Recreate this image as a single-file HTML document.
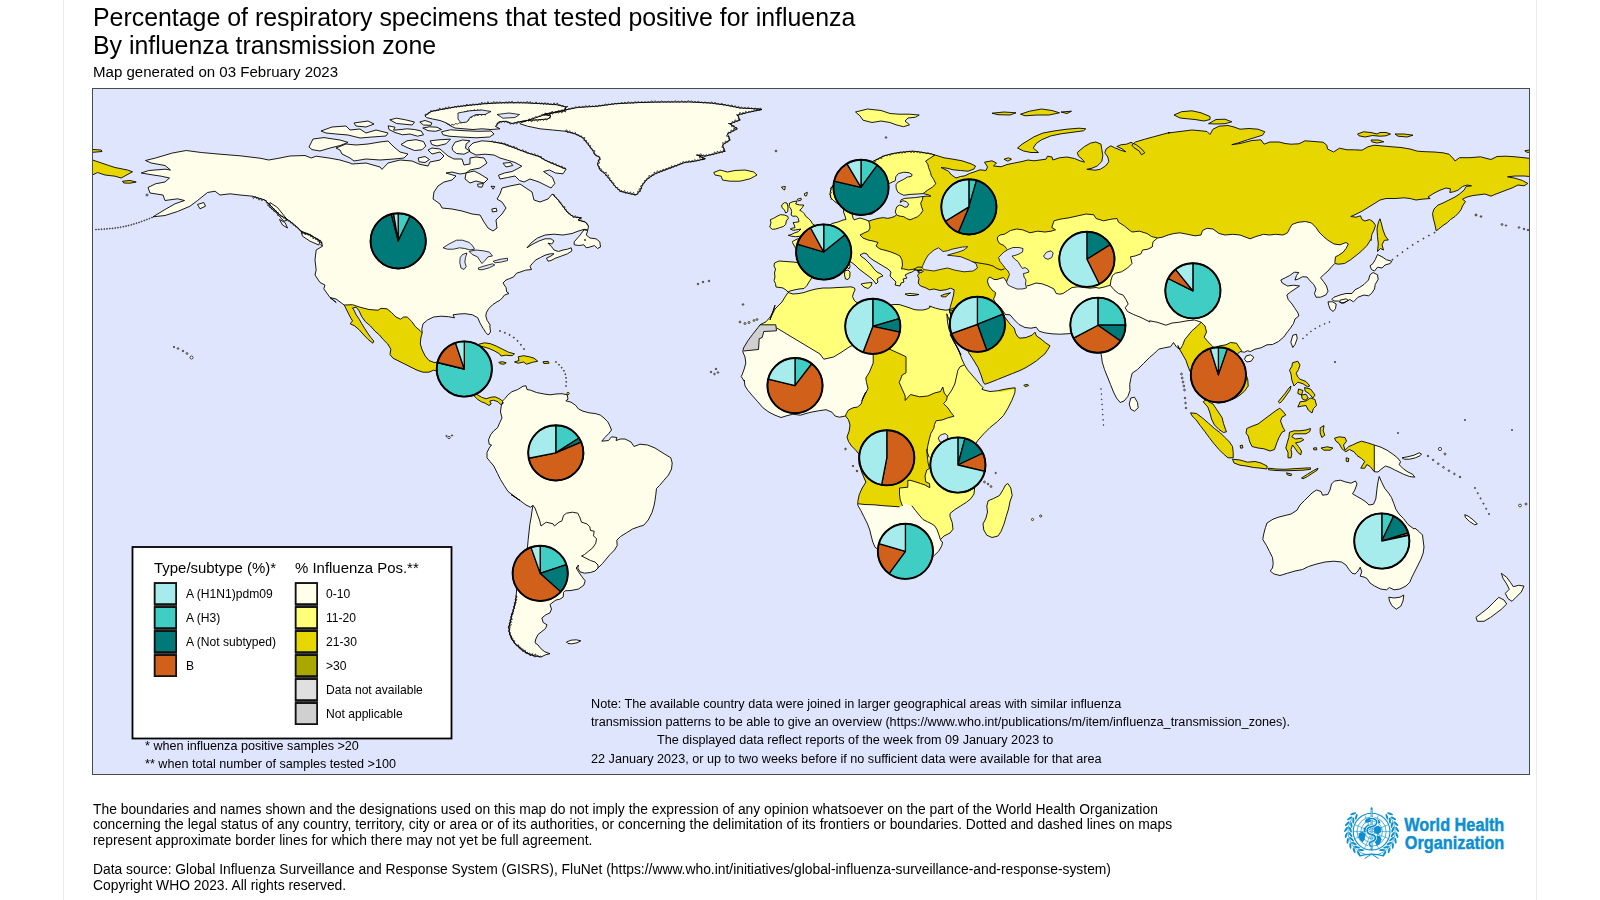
<!DOCTYPE html>
<html><head><meta charset="utf-8"><title>Influenza map</title>
<style>
html,body{margin:0;padding:0;background:#fff;}
body{width:1600px;height:900px;position:relative;overflow:hidden;font-family:"Liberation Sans",sans-serif;color:#000;}
.t{position:absolute;white-space:nowrap;line-height:1;will-change:transform;}
svg{position:absolute;left:0;top:0;}
.vl{position:absolute;top:0;width:1px;height:900px;background:#ececec;}
</style></head><body>
<div class="vl" style="left:63px"></div><div class="vl" style="left:1536px"></div>
<svg width="1600" height="900" viewBox="0 0 1600 900">
<defs><clipPath id="fr"><rect x="93" y="88.5" width="1436" height="685.5"/></clipPath>
<clipPath id="land"><path d="M153.0 216.8 L165.0 209.5 L175.0 203.8 L184.5 200.5 L177.5 198.8 L165.0 200.5 L163.0 195.0 L150.0 193.0 L148.0 187.5 L155.5 183.8 L165.0 182.0 L169.5 178.0 L161.2 176.2 L150.0 174.5 L141.2 173.0 L148.8 170.5 L165.0 169.2 L170.5 170.0 L165.0 165.5 L151.2 163.0 L145.5 160.5 L155.5 158.0 L172.5 153.0 L186.2 150.5 L201.2 152.5 L220.0 154.2 L240.0 155.8 L260.0 158.2 L268.8 160.0 L280.0 158.0 L290.0 156.0 L305.0 155.5 L311.2 158.0 L316.2 156.2 L330.0 158.2 L340.0 160.0 L350.0 163.0 L352.0 164.0 L366.0 163.0 L380.0 167.0 L382.0 169.4 L388.0 163.0 L400.0 160.0 L412.0 161.0 L420.0 164.4 L428.0 166.0 L430.0 162.0 L440.0 160.0 L444.0 156.0 L440.0 152.0 L432.0 154.0 L428.0 150.0 L432.0 148.0 L440.0 149.0 L448.0 156.0 L454.0 159.0 L462.0 159.0 L464.0 165.0 L470.0 164.0 L470.0 158.0 L476.0 157.0 L484.0 158.0 L487.0 163.0 L480.0 168.0 L470.0 170.0 L466.0 173.0 L460.0 174.0 L452.0 172.0 L446.0 173.0 L456.0 176.0 L452.0 180.0 L444.0 182.0 L438.0 186.0 L434.0 192.0 L433.0 199.0 L440.0 204.0 L442.0 208.0 L452.0 209.0 L462.0 211.0 L472.0 214.0 L480.0 215.0 L484.0 222.0 L488.0 228.0 L493.0 231.0 L497.0 228.0 L496.0 220.0 L502.0 214.0 L506.0 208.0 L502.0 202.0 L497.0 199.0 L500.0 194.0 L502.0 188.0 L510.0 186.0 L520.0 184.0 L526.0 188.0 L532.0 192.0 L534.0 200.0 L540.0 202.0 L548.0 199.0 L552.4 194.0 L552.5 194.2 L558.5 200.5 L563.0 206.5 L567.5 212.5 L573.5 217.0 L581.0 217.8 L578.0 220.0 L585.5 222.2 L588.5 226.0 L587.8 229.8 L584.0 229.3 L578.0 231.2 L572.0 233.5 L563.0 235.0 L554.0 234.2 L545.0 235.0 L537.5 238.0 L531.5 242.5 L527.0 247.8 L533.0 244.0 L539.0 241.0 L545.0 238.8 L551.0 238.8 L554.0 241.0 L551.8 244.0 L548.0 243.2 L551.8 247.0 L554.0 250.0 L558.5 251.5 L563.0 250.0 L567.5 249.2 L571.2 247.8 L572.0 250.8 L567.5 253.8 L561.5 256.0 L555.5 258.2 L551.0 260.5 L548.0 261.2 L546.5 258.2 L551.0 256.0 L554.0 253.8 L550.2 253.8 L545.0 255.2 L540.5 257.5 L536.0 259.8 L532.2 263.5 L530.0 266.5 L531.5 269.5 L525.5 270.2 L521.0 271.8 L516.5 273.2 L513.5 277.0 L509.8 278.5 L506.0 280.0 L503.0 283.0 L506.0 287.5 L506.8 292.0 L509.0 293.5 L504.5 295.0 L502.2 298.0 L500.0 300.2 L497.0 301.8 L492.5 304.8 L488.8 308.5 L486.5 312.2 L485.8 316.0 L487.2 320.5 L490.2 325.0 L489.8 326.0 L490.5 332.0 L488.2 335.0 L486.0 332.8 L483.0 328.2 L480.0 323.0 L477.8 317.8 L472.5 314.8 L465.0 313.7 L459.0 314.0 L453.0 314.8 L454.5 317.8 L448.5 316.7 L441.0 316.2 L433.5 317.0 L427.5 320.0 L423.0 323.8 L421.8 329.0 L422.2 332.8 L420.8 338.0 L420.3 344.0 L422.2 350.0 L425.2 356.0 L429.0 360.5 L435.0 362.8 L439.5 360.5 L444.0 356.0 L448.5 353.0 L454.5 351.5 L460.5 350.8 L462.0 354.5 L460.5 360.5 L459.0 366.5 L460.5 372.5 L463.5 377.0 L469.5 380.0 L472.5 383.0 L471.0 387.5 L474.0 392.0 L477.8 395.0 L481.5 397.2 L486.0 398.8 L491.2 397.2 L495.0 396.8 L499.5 398.8 L502.5 401.0 L505.0 398.5 L508.0 394.8 L511.8 391.8 L517.8 389.5 L523.0 386.2 L526.0 385.8 L527.0 389.5 L530.5 390.2 L536.5 392.5 L544.0 394.0 L550.0 394.8 L556.0 394.0 L562.0 393.7 L567.2 394.8 L568.0 399.2 L565.8 400.8 L571.0 402.2 L575.5 405.2 L578.5 409.0 L583.0 411.2 L589.0 412.8 L595.0 413.5 L600.2 415.0 L604.0 418.0 L607.8 421.8 L610.0 426.2 L611.5 430.0 L608.5 433.8 L604.8 437.5 L601.8 441.2 L608.5 440.5 L611.5 436.8 L616.8 437.5 L616.0 440.5 L620.5 439.0 L625.0 439.0 L631.0 442.0 L634.0 446.5 L640.0 444.2 L647.5 445.0 L655.0 448.0 L661.0 451.8 L667.0 455.5 L670.8 457.8 L672.2 463.0 L671.5 469.0 L668.5 475.0 L664.0 480.2 L659.5 485.5 L656.5 488.5 L655.8 494.5 L655.0 500.5 L654.2 505.0 L652.0 512.5 L648.2 520.0 L643.8 525.2 L638.5 526.8 L632.5 529.0 L626.5 532.8 L620.5 536.5 L616.8 540.2 L617.2 545.5 L614.5 550.0 L610.0 554.5 L606.2 559.0 L602.5 563.5 L598.8 567.2 L595.0 571.0 L590.5 572.5 L584.5 573.2 L580.0 571.8 L577.8 568.0 L578.5 565.0 L576.2 568.0 L578.5 571.8 L581.5 576.2 L585.2 580.8 L583.8 585.2 L578.5 589.0 L571.0 590.5 L565.0 590.8 L563.5 592.5 L563.2 597.0 L559.8 599.2 L556.0 600.0 L553.0 602.2 L550.0 604.5 L551.5 609.0 L550.0 612.8 L545.5 615.0 L541.8 618.0 L543.2 622.5 L547.0 624.8 L545.5 628.5 L541.8 631.5 L538.0 634.5 L535.8 639.0 L535.0 642.8 L538.0 645.0 L541.0 648.8 L544.8 651.8 L550.0 653.7 L545.5 654.8 L541.0 657.0 L536.5 656.2 L530.5 654.8 L524.5 651.8 L520.0 648.0 L515.5 644.2 L511.8 639.0 L509.5 633.0 L508.8 627.0 L510.2 621.8 L511.8 615.0 L514.0 608.2 L515.5 601.5 L516.2 595.5 L516.7 589.0 L520.0 574.0 L524.5 560.5 L527.5 547.0 L528.2 539.5 L529.0 532.0 L529.8 524.5 L531.2 517.0 L532.0 511.0 L533.0 505.4 L530.5 507.2 L526.0 505.0 L520.0 500.5 L511.0 494.5 L520.0 500.5 L514.0 496.0 L508.0 491.5 L504.2 485.5 L500.5 479.5 L497.5 473.5 L493.8 466.0 L490.0 461.5 L487.0 457.8 L487.0 452.5 L489.2 448.0 L491.5 445.0 L489.2 444.2 L488.5 439.8 L490.8 434.5 L493.8 430.8 L497.5 427.8 L499.8 422.5 L502.0 418.0 L500.5 412.0 L501.2 406.0 L502.8 402.2 L503.2 402.5 L501.0 404.8 L498.0 401.8 L493.5 400.2 L489.8 401.0 L491.2 404.0 L489.0 405.5 L485.2 403.2 L481.5 401.8 L477.8 399.5 L474.0 395.8 L469.5 392.0 L465.0 389.0 L460.5 386.0 L456.0 383.0 L450.0 380.0 L444.0 376.2 L439.5 373.2 L436.5 371.0 L433.5 370.2 L429.0 372.2 L423.0 372.2 L417.0 370.2 L411.0 367.2 L405.0 364.2 L399.0 361.2 L393.0 358.2 L390.0 354.5 L390.8 349.2 L387.8 344.0 L383.2 339.5 L379.5 335.0 L375.0 331.2 L370.5 326.0 L365.2 321.5 L361.5 316.2 L359.2 311.0 L356.2 307.2 L352.5 308.0 L354.0 310.2 L356.2 314.8 L359.2 319.2 L361.8 323.8 L364.5 328.2 L367.5 332.8 L370.5 337.2 L373.8 341.0 L372.8 343.2 L368.2 339.5 L363.8 335.0 L359.2 329.8 L354.8 326.0 L350.2 323.8 L352.5 320.8 L350.2 317.0 L347.2 311.0 L344.2 305.0 L341.2 302.8 L336.0 299.0 L330.0 297.5 L336.2 302.5 L330.0 297.5 L323.8 288.8 L325.0 285.0 L320.0 282.5 L315.0 275.0 L316.2 270.0 L315.0 260.0 L316.2 250.0 L322.5 246.2 L321.2 241.2 L310.0 235.0 L302.5 232.5 L297.5 227.5 L290.0 221.2 L280.0 215.0 L270.0 205.0 L265.0 200.0 L252.5 196.2 L240.0 195.0 L230.0 193.8 L220.0 195.0 L215.0 191.2 L207.5 192.5 L197.5 200.5 L190.0 206.2 L177.5 211.5 L165.0 215.5Z M521.2 122.5 L532.5 118.8 L547.5 113.8 L565.0 110.0 L577.5 107.5 L597.5 106.2 L615.0 103.8 L640.0 102.5 L665.0 102.0 L690.0 102.0 L710.0 103.0 L725.0 105.0 L740.0 108.0 L755.0 108.8 L762.0 109.5 L747.5 112.5 L737.5 115.0 L740.0 120.0 L730.0 123.8 L737.5 128.8 L727.5 133.8 L730.0 140.0 L722.5 145.0 L725.0 151.2 L715.0 153.8 L705.0 156.2 L697.5 155.0 L705.0 158.8 L695.0 161.2 L685.0 162.5 L675.0 166.2 L665.0 170.0 L655.0 173.8 L647.5 178.8 L642.5 185.0 L640.0 191.2 L636.2 195.0 L630.0 193.8 L620.0 191.2 L615.0 186.2 L610.0 180.0 L605.0 173.8 L600.0 170.0 L597.5 163.8 L600.0 157.5 L595.0 155.0 L592.5 150.0 L587.5 143.8 L582.5 137.5 L575.0 133.8 L565.0 131.2 L552.5 130.0 L540.0 128.8 L527.5 126.2 L520.0 123.8Z M713.8 172.5 L720.0 170.0 L727.5 172.0 L735.0 170.5 L745.0 170.0 L753.8 172.0 L757.0 175.0 L750.0 178.8 L740.0 181.2 L730.0 181.2 L722.5 180.0 L721.2 176.2 L715.0 175.0Z M574.2 241.8 L580.2 235.0 L584.0 229.8 L587.8 230.5 L586.2 235.0 L590.0 238.0 L596.0 238.8 L599.8 241.8 L600.5 247.0 L597.5 248.5 L594.5 245.5 L590.0 247.0 L586.2 247.8 L584.0 244.8 L578.8 245.5 L574.2 244.8Z M473.0 143.0 L482.0 140.8 L491.0 141.5 L503.0 143.8 L515.0 148.2 L527.0 152.8 L539.0 156.5 L545.0 160.2 L557.0 165.5 L566.0 169.2 L563.0 173.8 L555.5 173.0 L549.5 170.0 L543.5 171.5 L552.5 177.5 L554.8 183.5 L551.0 188.0 L545.0 185.0 L539.0 182.0 L530.0 179.0 L524.0 182.0 L519.5 180.5 L515.0 176.0 L507.5 177.5 L500.0 179.0 L498.5 175.2 L504.5 173.0 L512.0 171.5 L518.0 168.5 L521.8 166.2 L515.0 162.5 L507.5 160.2 L500.0 158.0 L494.0 155.0 L485.0 154.2 L476.0 155.0 L470.0 152.0 L468.5 147.5Z M503.0 163.2 L510.5 162.5 L512.8 165.5 L506.0 167.0Z M477.5 184.2 L483.5 183.5 L482.0 187.2 L478.2 186.8Z M491.0 186.2 L494.8 186.5 L493.2 189.2Z M491.8 209.0 L496.2 208.2 L497.0 211.2 L492.5 212.0Z M466.0 173.0 L474.0 171.0 L480.0 174.0 L488.0 179.0 L484.0 183.0 L476.0 181.0 L470.0 183.0 L465.0 179.0Z M336.0 148.0 L346.0 144.0 L356.0 145.0 L368.0 144.0 L380.0 142.0 L388.0 141.0 L394.0 147.0 L400.0 152.0 L408.0 154.0 L404.0 158.0 L394.0 159.0 L380.0 160.0 L366.0 159.0 L354.0 161.0 L350.0 158.0 L342.0 154.0 L340.0 150.0Z M309.0 147.0 L313.0 139.0 L324.0 137.6 L340.0 140.0 L348.0 142.4 L340.0 145.6 L330.0 148.0 L320.0 151.0 L312.0 149.6Z M321.0 131.0 L332.0 127.0 L346.0 126.0 L350.0 130.0 L360.0 129.0 L366.0 133.0 L376.0 130.0 L388.0 133.0 L386.0 136.0 L372.0 137.0 L360.0 138.0 L348.0 135.0 L336.0 134.0 L326.0 133.0Z M354.0 123.0 L368.0 121.0 L374.0 124.0 L366.0 127.0 L356.0 126.0Z M425.0 116.0 L431.0 111.5 L443.0 109.2 L455.0 107.0 L470.0 105.2 L485.0 103.7 L503.0 102.8 L522.5 102.8 L542.0 103.7 L557.0 104.8 L566.0 107.0 L564.5 110.8 L552.5 113.0 L543.5 114.5 L551.0 116.0 L548.0 119.0 L537.5 119.8 L527.0 120.5 L518.0 122.0 L512.0 123.5 L506.0 121.2 L498.5 122.0 L495.5 126.5 L500.0 128.8 L491.0 129.5 L482.0 128.8 L473.0 129.5 L464.0 128.8 L455.0 128.0 L450.5 125.8 L446.0 122.8 L440.0 120.5 L432.5 119.0 L426.5 117.5Z M441.5 131.8 L450.5 129.8 L464.0 130.7 L477.5 131.3 L491.0 131.0 L494.0 134.0 L489.5 137.0 L476.0 137.8 L461.0 137.0 L449.0 136.2 L443.0 134.8Z M452.0 147.5 L455.0 142.2 L462.5 140.0 L470.0 140.8 L466.2 143.8 L465.5 148.2 L470.0 151.2 L464.0 154.2 L456.5 153.5 L452.8 150.5Z M422.8 128.0 L429.5 126.8 L437.0 127.2 L441.5 129.5 L435.5 131.3 L428.0 130.7Z M430.2 140.8 L440.0 139.7 L450.5 139.2 L446.0 143.8 L437.0 146.0 L431.8 144.5Z M401.0 144.5 L407.0 140.8 L416.0 139.7 L423.5 141.5 L425.8 146.0 L422.0 149.8 L414.5 150.5 L407.0 147.5Z M388.2 125.8 L395.0 127.2 L393.5 130.2 L401.0 129.5 L407.0 128.8 L414.5 129.5 L421.2 131.0 L423.5 134.8 L417.5 136.2 L410.0 134.0 L402.5 134.8 L395.0 132.5 L389.0 129.5Z M389.8 119.8 L396.5 118.2 L405.5 119.8 L414.5 122.0 L412.2 125.0 L404.0 124.2 L396.5 123.5Z M419.8 122.0 L425.0 120.5 L431.8 122.8 L431.0 125.3 L423.5 125.0Z M418.2 158.0 L425.0 156.5 L429.5 159.5 L425.0 162.5 L419.0 161.8Z M478.5 344.3 L484.5 342.8 L490.5 343.7 L496.5 346.2 L502.5 349.2 L508.5 352.2 L514.5 353.8 L512.2 355.7 L505.5 355.2 L501.0 356.0 L499.5 353.8 L494.2 350.8 L489.0 348.5 L483.0 346.7 L479.2 345.8Z M518.2 356.8 L523.5 355.7 L529.5 356.8 L534.0 358.2 L537.8 361.2 L532.5 362.3 L526.5 364.2 L523.5 362.0 L518.2 363.2 L514.5 362.0 L519.0 360.5Z M498.8 362.3 L502.5 361.7 L506.2 362.8 L504.0 364.2 L500.2 363.8Z M543.0 361.7 L548.2 361.4 L549.0 363.2 L543.8 363.5Z M566.5 642.0 L571.0 640.2 L576.2 639.8 L580.8 640.8 L577.0 642.8 L571.8 643.8 L568.0 643.5Z M770.0 320.0 L771.0 317.0 L773.0 313.0 L775.0 309.0 L778.0 306.0 L782.0 302.0 L785.0 297.0 L788.0 292.5 L793.0 294.0 L799.0 293.5 L804.0 292.5 L810.0 290.5 L816.0 289.0 L823.0 288.0 L830.0 288.0 L838.0 287.5 L845.0 287.2 L851.0 286.8 L854.5 288.0 L855.0 290.0 L853.5 293.0 L852.5 296.5 L854.0 300.0 L856.0 302.0 L860.0 304.0 L866.0 306.0 L872.0 307.5 L879.0 309.0 L885.0 307.0 L890.0 305.0 L894.0 304.5 L899.0 304.5 L904.0 306.0 L910.0 308.0 L914.0 309.5 L918.0 310.0 L923.0 310.0 L927.0 309.0 L930.0 307.5 L929.5 306.0 L935.5 308.2 L940.0 309.3 L946.0 310.2 L950.5 309.3 L953.5 308.2 L956.5 309.3 L959.5 310.5 L949.3 310.8 L952.0 317.5 L950.5 323.5 L946.8 313.8 L947.5 322.0 L949.0 329.5 L952.0 337.0 L955.0 343.0 L958.0 349.0 L961.0 355.0 L950.2 334.5 L954.0 342.0 L957.8 348.0 L960.0 354.0 L962.2 360.0 L964.5 364.8 L967.5 369.8 L972.0 375.0 L976.5 380.2 L981.0 385.5 L983.2 387.8 L981.8 389.2 L984.0 390.0 L990.0 391.5 L997.5 390.8 L1005.0 389.2 L1011.0 388.2 L1015.2 387.8 L1014.8 393.0 L1011.8 400.5 L1008.0 408.0 L1003.5 415.5 L997.5 421.5 L990.0 427.5 L984.0 433.5 L978.0 440.2 L973.5 447.0 L969.8 454.5 L967.5 462.0 L977.0 462.5 L977.8 470.0 L976.2 477.5 L974.8 485.0 L974.3 491.0 L974.0 494.0 L971.0 498.5 L966.5 502.2 L960.5 506.0 L954.5 509.8 L950.0 513.5 L950.0 516.5 L952.2 522.5 L953.0 529.2 L950.0 533.0 L944.0 536.0 L940.2 539.8 L942.5 542.0 L941.8 545.8 L938.8 551.0 L934.2 555.5 L929.0 560.0 L921.5 563.8 L914.0 566.0 L905.0 567.5 L896.0 566.8 L888.5 563.0 L882.5 558.5 L878.0 549.5 L875.0 547.2 L872.8 542.0 L871.2 536.0 L869.8 530.0 L867.5 524.0 L863.8 516.5 L860.8 510.5 L857.8 505.2 L857.8 501.5 L859.2 494.8 L862.2 488.0 L866.0 482.0 L865.8 482.0 L862.0 473.0 L859.0 464.0 L859.0 454.2 L856.0 450.5 L851.5 446.0 L848.5 441.5 L847.0 437.0 L849.2 431.0 L850.0 425.0 L848.5 419.8 L845.5 416.0 L839.5 417.2 L835.0 416.0 L832.0 412.2 L826.0 409.7 L818.5 410.8 L811.0 412.2 L805.0 413.8 L800.5 415.2 L793.0 414.2 L787.0 415.7 L781.0 417.5 L775.0 415.2 L769.0 412.2 L763.0 407.8 L757.8 401.8 L752.5 395.8 L748.0 390.5 L745.0 386.0 L744.2 380.0 L744.2 381.0 L741.2 376.5 L742.0 375.0 L744.2 369.0 L745.8 363.0 L745.0 357.0 L742.8 351.8 L743.5 348.0 L748.0 340.5 L752.5 334.5 L757.8 327.8 L760.0 324.8 L766.0 321.8 L770.5 316.5 L773.5 310.5 L775.0 305.2Z M1007.8 483.5 L1010.8 488.0 L1012.2 495.5 L1010.0 501.5 L1008.5 509.0 L1006.2 516.5 L1004.0 524.0 L1001.0 531.5 L998.0 536.0 L992.0 537.5 L986.8 535.2 L983.8 530.0 L983.0 524.0 L986.0 518.0 L987.5 512.0 L986.8 506.0 L988.2 500.8 L993.5 498.5 L999.5 495.5 L1003.2 489.5 L1005.5 485.0Z M952.0 317.5 L949.3 310.8 L950.5 306.2 L952.0 301.0 L953.5 295.0 L954.2 289.8 L950.5 288.2 L946.0 289.8 L940.0 290.5 L934.0 289.0 L929.5 289.8 L925.0 287.5 L920.5 286.0 L918.2 283.0 L919.0 278.5 L917.5 275.5 L919.8 272.5 L917.2 270.2 L922.0 270.0 L918.0 270.5 L915.0 270.0 L912.0 272.0 L909.0 273.0 L905.0 275.0 L907.0 278.0 L903.0 279.0 L904.0 282.0 L901.0 283.0 L900.0 286.0 L895.0 285.0 L896.0 282.0 L893.0 279.0 L890.0 276.0 L891.0 272.0 L888.0 269.0 L883.0 266.0 L878.0 263.0 L873.0 260.0 L869.0 257.0 L867.0 254.0 L864.0 253.0 L860.0 255.0 L862.0 257.0 L865.0 259.0 L868.0 262.0 L871.0 265.0 L874.0 269.0 L877.0 272.0 L881.0 274.0 L883.0 276.0 L880.0 277.0 L877.0 279.0 L878.0 282.0 L876.0 284.0 L874.0 281.0 L871.0 278.0 L867.0 275.0 L863.0 272.0 L859.0 269.0 L855.0 265.0 L851.0 262.0 L846.0 261.0 L840.0 263.0 L834.0 264.0 L828.0 265.0 L822.0 266.5 L817.0 270.0 L814.0 274.0 L811.0 279.0 L809.0 282.0 L807.0 285.5 L804.0 288.5 L799.0 289.0 L794.0 290.0 L790.0 291.0 L788.0 292.0 L786.0 290.0 L783.0 288.0 L780.0 287.5 L776.0 287.0 L775.5 283.5 L774.0 280.5 L775.0 277.0 L774.5 273.0 L775.5 269.0 L774.0 266.0 L774.5 263.0 L779.0 261.0 L786.0 261.5 L793.0 262.0 L797.0 262.5 L799.0 260.0 L798.5 256.0 L797.5 252.0 L795.0 247.0 L792.5 242.5 L792.5 241.5 L797.0 239.0 L804.0 238.5 L806.0 234.0 L811.0 236.0 L817.0 232.0 L824.0 229.0 L829.0 226.0 L832.0 223.5 L838.0 222.0 L843.0 220.0 L846.0 219.5 L845.0 216.0 L843.5 212.0 L844.0 208.0 L848.0 205.5 L853.0 205.0 L853.5 209.0 L852.0 214.0 L853.0 218.0 L854.0 219.8 L860.0 218.0 L865.0 219.5 L869.1 221.1 L872.7 219.8 L878.0 218.4 L883.3 217.6 L887.8 218.4 L891.3 217.6 L894.0 216.7 L896.7 214.9 L895.3 212.2 L895.8 209.6 L896.7 206.9 L899.3 205.1 L902.0 205.6 L904.7 207.3 L907.3 206.9 L908.7 204.2 L906.4 201.6 L902.9 200.7 L900.2 202.4 L901.1 199.8 L904.7 198.4 L910.0 198.0 L915.3 197.6 L921.6 196.7 L926.0 196.2 L930.9 196.2 L928.7 194.9 L923.3 193.6 L917.1 194.0 L910.0 194.4 L903.8 195.3 L900.2 193.6 L897.6 191.8 L896.2 188.2 L896.0 184.7 L897.6 182.4 L900.2 181.1 L903.8 179.3 L907.3 177.1 L911.3 176.4 L912.2 174.7 L909.1 172.7 L903.8 172.2 L898.4 173.6 L895.8 176.7 L895.3 180.7 L888.0 184.0 L884.0 190.0 L882.0 196.0 L885.0 201.0 L880.0 206.0 L876.0 211.0 L872.0 214.0 L866.0 214.5 L862.0 212.0 L860.0 208.0 L858.0 204.0 L855.0 200.0 L852.0 199.0 L848.0 202.0 L843.0 204.5 L838.0 204.0 L834.0 201.0 L831.0 198.0 L830.0 194.0 L831.0 188.0 L834.0 184.0 L840.0 183.5 L846.0 182.5 L852.0 180.0 L858.0 175.0 L864.0 169.0 L870.0 164.0 L873.5 161.0 L878.0 158.8 L884.0 155.8 L890.0 154.2 L894.5 153.2 L900.5 152.3 L906.5 151.7 L912.5 151.2 L918.5 151.7 L924.5 152.8 L929.8 153.5 L935.0 155.0 L944.0 157.8 L953.0 159.2 L962.0 160.8 L971.0 163.8 L975.5 166.0 L974.0 169.0 L968.0 171.2 L960.5 170.5 L953.0 169.8 L947.0 168.2 L941.0 167.5 L948.5 171.2 L951.5 175.0 L956.0 178.0 L960.5 176.5 L965.0 175.8 L969.5 173.5 L974.0 172.0 L980.0 169.8 L986.0 170.5 L987.5 166.8 L984.5 162.2 L992.0 160.8 L996.5 163.0 L993.5 166.0 L1001.0 166.8 L1007.0 164.5 L1014.5 163.0 L1022.0 161.5 L1028.0 160.0 L1034.0 160.8 L1040.0 160.0 L1046.0 159.2 L1047.5 156.2 L1052.0 157.0 L1052.8 160.0 L1059.5 157.8 L1067.0 157.0 L1074.5 158.5 L1080.0 160.8 L1084.5 162.2 L1082.2 159.2 L1078.5 156.2 L1077.3 152.5 L1080.0 150.2 L1084.5 146.5 L1090.5 143.1 L1095.8 142.0 L1101.0 144.2 L1101.8 149.5 L1102.8 155.5 L1101.8 161.5 L1097.2 166.0 L1092.0 168.2 L1086.8 169.3 L1095.0 170.2 L1100.2 169.3 L1105.5 166.0 L1108.8 161.8 L1107.8 157.0 L1104.8 152.8 L1106.2 148.8 L1110.8 145.8 L1114.5 147.7 L1120.5 150.2 L1125.8 151.8 L1122.0 148.8 L1116.8 146.5 L1121.2 144.7 L1126.5 144.2 L1131.0 142.4 L1136.2 144.7 L1141.5 148.8 L1144.8 152.8 L1141.5 154.8 L1139.2 151.0 L1134.0 147.7 L1131.8 145.0 L1135.5 142.0 L1144.5 139.3 L1153.5 136.8 L1161.0 134.8 L1170.0 132.4 L1168.0 133.0 L1180.0 131.5 L1192.0 130.0 L1201.0 130.8 L1207.0 131.5 L1210.0 134.5 L1213.0 129.2 L1219.0 126.2 L1228.0 125.5 L1234.0 127.0 L1240.0 129.2 L1249.0 128.5 L1258.0 129.2 L1264.8 131.8 L1262.5 135.2 L1255.0 137.5 L1247.5 139.8 L1238.5 142.8 L1231.8 144.7 L1240.0 143.5 L1252.0 140.5 L1261.0 139.8 L1264.0 144.2 L1270.0 142.0 L1279.0 142.0 L1285.0 143.5 L1291.0 144.2 L1299.0 143.8 L1305.0 140.8 L1314.0 141.5 L1323.0 142.2 L1326.8 145.2 L1327.5 149.0 L1333.5 152.0 L1339.5 148.2 L1347.0 149.8 L1354.5 149.8 L1362.0 150.2 L1368.0 146.8 L1374.0 145.2 L1383.0 146.0 L1392.0 146.8 L1401.0 147.5 L1410.0 149.0 L1417.5 151.2 L1425.0 151.7 L1434.0 152.0 L1443.0 152.8 L1449.0 154.2 L1453.5 158.8 L1455.0 161.0 L1459.5 157.7 L1470.0 157.7 L1480.5 156.8 L1485.0 158.0 L1491.0 159.5 L1497.0 156.5 L1506.0 156.2 L1515.0 156.8 L1524.0 157.7 L1533.0 158.8 L1533.0 176.8 L1524.0 176.0 L1515.0 176.0 L1507.5 176.8 L1515.0 178.2 L1522.5 180.5 L1527.8 183.5 L1524.0 185.8 L1518.0 185.0 L1512.0 188.0 L1506.0 190.2 L1500.0 192.5 L1494.0 194.8 L1491.0 196.2 L1485.0 194.0 L1479.0 194.8 L1473.0 195.5 L1467.0 197.0 L1462.5 199.2 L1465.5 201.5 L1462.5 206.0 L1461.0 209.8 L1458.0 213.5 L1455.0 216.5 L1450.5 219.5 L1447.5 222.5 L1443.0 225.5 L1438.5 229.2 L1436.2 230.8 L1434.8 224.0 L1433.2 218.0 L1432.5 213.5 L1434.0 209.0 L1437.8 205.2 L1443.0 203.0 L1449.0 200.0 L1455.0 197.0 L1459.5 194.0 L1464.0 190.2 L1466.2 186.5 L1471.5 185.8 L1467.0 185.0 L1462.5 186.5 L1458.0 190.2 L1453.5 191.8 L1449.8 192.5 L1450.5 188.8 L1446.0 188.0 L1440.0 190.2 L1434.0 193.2 L1428.0 197.0 L1430.2 198.5 L1422.0 199.2 L1416.0 200.0 L1410.0 198.5 L1404.0 197.8 L1395.0 198.5 L1386.0 198.5 L1380.0 200.0 L1374.0 203.8 L1368.0 207.5 L1362.0 211.2 L1356.0 214.2 L1350.8 216.5 L1356.0 217.2 L1360.5 215.8 L1362.0 219.5 L1365.0 221.0 L1369.5 219.5 L1373.2 221.8 L1375.5 225.5 L1374.0 230.0 L1371.8 234.5 L1371.0 240.5 L1370.8 239.5 L1367.0 245.5 L1361.8 250.8 L1356.5 255.2 L1350.5 259.8 L1344.5 263.5 L1338.5 264.2 L1334.8 263.5 L1331.8 266.5 L1328.0 271.0 L1323.5 274.8 L1320.5 277.8 L1323.5 281.5 L1326.5 286.0 L1328.0 291.2 L1325.8 295.0 L1320.5 297.2 L1316.0 297.2 L1314.5 293.5 L1316.0 289.0 L1313.8 284.5 L1310.0 280.8 L1307.0 277.0 L1302.5 276.7 L1298.0 279.2 L1295.0 280.0 L1296.5 275.5 L1298.8 272.5 L1294.2 272.2 L1289.8 275.5 L1285.2 277.8 L1280.8 280.0 L1282.2 283.0 L1287.5 286.0 L1293.5 285.2 L1299.5 286.0 L1295.0 289.0 L1290.5 292.0 L1286.8 295.0 L1288.2 299.5 L1292.0 304.0 L1295.0 308.5 L1298.0 313.0 L1298.8 316.0 L1295.0 319.0 L1293.5 323.5 L1290.5 328.0 L1287.5 331.8 L1283.8 337.0 L1278.5 341.5 L1272.5 344.5 L1267.0 344.8 L1261.0 347.8 L1255.0 349.2 L1250.5 351.5 L1247.5 350.8 L1244.5 352.2 L1240.0 351.5 L1239.7 351.8 L1237.8 353.8 L1236.2 357.5 L1238.5 362.0 L1242.2 368.0 L1246.0 374.0 L1247.8 380.0 L1248.2 386.0 L1244.5 391.2 L1240.0 395.0 L1235.5 398.0 L1231.8 399.5 L1231.0 395.8 L1226.5 390.5 L1222.0 386.0 L1217.5 386.0 L1216.0 392.0 L1213.0 395.0 L1210.0 392.0 L1208.5 396.5 L1206.2 399.5 L1203.2 401.8 L1207.8 407.0 L1210.0 413.0 L1211.5 419.0 L1214.5 425.0 L1219.0 429.5 L1223.5 432.5 L1226.5 431.8 L1225.0 428.0 L1223.5 423.5 L1222.0 417.5 L1219.0 413.0 L1216.0 408.5 L1213.0 404.0 L1208.5 401.8 L1205.5 398.0 L1202.5 392.0 L1201.0 384.5 L1199.5 377.0 L1195.0 374.0 L1191.2 372.5 L1189.8 371.0 L1187.5 365.0 L1186.0 360.5 L1183.0 355.2 L1180.0 350.0 L1177.8 345.5 L1179.5 349.2 L1176.5 347.0 L1173.5 342.5 L1170.5 346.7 L1164.5 347.8 L1158.5 349.2 L1154.8 353.0 L1149.5 357.5 L1143.5 363.5 L1137.5 369.5 L1132.2 373.2 L1130.8 378.5 L1129.7 384.5 L1130.0 390.5 L1127.8 396.5 L1124.0 401.0 L1120.2 402.5 L1116.5 398.0 L1113.5 392.0 L1110.5 384.5 L1107.5 377.0 L1104.5 369.5 L1102.2 362.0 L1101.5 356.0 L1100.0 350.0 L1094.0 345.5 L1091.0 341.0 L1085.0 338.0 L1079.0 339.5 L1073.0 336.5 L1071.5 333.5 L1067.0 333.8 L1059.5 334.2 L1052.0 333.8 L1044.5 332.8 L1039.2 331.2 L1036.2 327.2 L1031.0 328.2 L1025.0 327.5 L1019.0 324.5 L1014.5 320.0 L1010.0 314.8 L1005.5 314.5 L1004.0 316.0 L1007.0 320.0 L1010.0 324.0 L1014.0 328.0 L1014.8 330.0 L1015.5 333.0 L1017.8 336.8 L1020.0 338.2 L1026.0 337.5 L1032.0 335.2 L1035.0 332.2 L1036.5 336.0 L1041.0 339.0 L1045.5 342.8 L1050.0 345.8 L1047.8 349.5 L1044.8 354.0 L1041.0 357.0 L1036.5 360.8 L1032.0 363.8 L1026.0 367.5 L1020.0 370.5 L1012.5 373.5 L1005.0 376.5 L997.5 379.5 L990.0 382.5 L984.8 384.3 L983.2 381.8 L981.0 375.0 L978.0 367.5 L973.5 360.0 L969.0 353.2 L966.0 346.5 L963.0 339.0 L960.0 331.5 L955.8 331.0 L953.5 323.5Z M769.7 227.0 L771.0 223.0 L770.3 219.7 L773.7 218.3 L777.0 216.3 L780.3 214.7 L784.3 215.0 L787.7 216.3 L788.3 218.3 L786.3 221.0 L785.7 224.3 L783.7 226.3 L779.7 227.7 L775.7 229.0 L772.3 229.3Z M789.7 203.0 L793.0 201.7 L797.0 201.0 L795.7 204.0 L799.7 205.0 L803.7 205.0 L802.3 207.7 L799.7 210.3 L802.3 211.7 L804.3 213.7 L805.7 216.3 L808.3 218.3 L811.0 221.0 L812.3 223.7 L814.3 225.0 L817.7 226.3 L819.0 229.0 L817.7 231.0 L818.3 233.0 L815.7 234.3 L811.7 235.0 L807.7 235.3 L803.7 235.7 L799.7 236.3 L795.7 236.7 L791.7 236.3 L788.3 235.3 L791.0 234.7 L794.3 233.0 L798.3 231.7 L801.0 229.0 L797.0 229.7 L793.0 230.3 L790.3 229.0 L791.7 228.3 L795.0 227.7 L794.3 225.0 L793.0 222.7 L795.7 222.3 L799.0 221.7 L798.3 218.3 L796.3 216.0 L793.0 216.3 L791.0 215.0 L791.7 211.7 L791.0 209.0 L789.0 206.3Z M781.7 205.0 L784.3 202.7 L787.0 203.0 L788.0 207.0 L787.7 211.7 L785.7 213.0 L784.3 209.7 L782.0 207.7Z M797.3 199.3 L801.0 198.2 L801.3 200.0 L798.3 201.0Z M804.3 193.7 L807.3 192.3 L806.7 195.7 L805.0 196.0Z M781.5 187.0 L785.3 186.5 L784.7 190.0 L782.9 189.0Z M861.0 284.0 L866.0 283.0 L872.0 282.5 L871.0 286.0 L868.0 288.5 L864.0 287.0Z M844.8 271.0 L848.0 270.0 L850.0 272.0 L849.8 277.0 L848.0 279.5 L845.5 279.0 L844.5 275.0Z M847.5 263.5 L849.5 263.0 L850.0 266.5 L849.0 269.0 L847.5 267.5Z M905.0 294.0 L910.0 293.5 L915.0 294.0 L919.0 294.5 L914.0 295.5 L908.0 295.5Z M940.8 295.8 L944.5 294.2 L950.5 292.8 L947.5 295.0 L946.0 296.8 L942.2 296.8Z M855.5 112.0 L867.5 109.0 L881.0 110.5 L890.0 113.5 L899.0 114.2 L909.5 114.2 L919.2 115.0 L915.5 117.2 L908.0 118.0 L905.0 121.0 L909.5 124.8 L903.5 126.7 L896.0 124.8 L890.0 122.5 L881.0 121.0 L872.0 122.5 L863.0 120.2 L860.0 115.8Z M1017.5 148.0 L1022.0 144.2 L1028.0 140.5 L1034.0 136.8 L1043.0 133.0 L1055.0 130.8 L1067.0 129.2 L1079.0 128.2 L1085.8 128.8 L1083.5 130.8 L1073.0 132.2 L1061.0 133.8 L1050.5 136.0 L1041.5 139.8 L1036.2 143.5 L1033.2 148.0 L1038.5 152.5 L1031.0 152.5 L1023.5 151.0Z M1004.0 159.2 L1008.5 157.8 L1011.5 159.2 L1007.8 161.2Z M992.0 113.2 L1004.0 112.0 L1016.0 112.8 L1010.0 115.0 L998.0 114.7Z M1020.5 114.2 L1029.5 111.2 L1041.5 109.0 L1052.0 110.5 L1059.5 112.8 L1049.0 115.0 L1037.0 115.0 L1025.0 115.8Z M1061.0 112.0 L1071.5 111.2 L1067.0 113.5Z M1174.0 115.0 L1181.5 111.7 L1192.0 110.8 L1201.0 112.8 L1210.0 116.5 L1210.0 119.5 L1204.0 121.0 L1195.0 119.5 L1187.5 118.8 L1180.0 118.0Z M1208.5 123.7 L1216.0 119.5 L1225.0 119.2 L1231.8 121.8 L1225.0 123.7 L1216.0 124.0Z M1357.5 134.0 L1363.5 131.8 L1371.0 132.5 L1377.0 134.0 L1380.0 132.5 L1386.0 132.5 L1390.5 134.0 L1386.0 135.8 L1380.0 136.2 L1372.5 135.5 L1365.0 137.0 L1359.0 135.8Z M1395.0 134.0 L1404.0 134.0 L1413.0 135.2 L1407.0 137.0 L1398.0 136.2Z M1371.0 140.0 L1378.5 140.0 L1383.8 141.8 L1377.0 143.0 L1371.8 141.8Z M1524.8 150.8 L1533.0 149.3 L1533.0 152.3 L1527.0 152.3Z M85.0 149.0 L101.2 150.0 L102.0 151.5 L85.0 153.0Z M85.0 158.8 L92.5 160.0 L100.0 162.5 L108.8 165.5 L115.0 167.5 L127.5 170.0 L132.5 171.8 L121.2 178.0 L115.0 176.2 L105.0 175.0 L97.5 172.5 L92.5 175.0 L85.0 185.0Z M1380.0 218.8 L1381.5 224.0 L1383.0 230.0 L1385.3 236.0 L1388.3 240.0 L1384.3 240.3 L1382.0 244.8 L1383.5 250.0 L1380.5 248.5 L1377.5 251.5 L1378.3 244.0 L1377.5 236.5 L1377.0 229.0 L1378.5 221.8Z M1377.5 254.5 L1382.0 256.8 L1386.5 259.8 L1391.8 261.2 L1390.2 263.5 L1385.0 265.0 L1382.0 268.0 L1377.5 267.2 L1374.5 271.0 L1371.5 269.5 L1370.0 265.8 L1373.0 263.5 L1375.2 259.8Z M1373.0 272.5 L1377.5 274.8 L1378.2 279.2 L1375.2 284.5 L1374.5 289.0 L1371.5 293.5 L1368.5 295.8 L1364.0 295.0 L1358.0 297.2 L1353.5 301.8 L1349.8 299.5 L1346.0 301.8 L1341.5 303.2 L1338.5 301.0 L1334.0 301.0 L1331.8 299.5 L1334.0 297.2 L1340.0 295.0 L1346.0 293.5 L1352.0 293.5 L1355.0 289.8 L1359.5 287.5 L1364.0 284.5 L1368.5 280.0 L1370.0 274.8Z M1328.0 301.8 L1332.5 301.8 L1336.2 304.0 L1335.5 308.5 L1333.2 311.5 L1330.2 309.2 L1328.8 305.5Z M1340.0 300.2 L1346.0 298.8 L1348.2 300.2 L1343.8 303.2 L1340.0 302.5Z M1292.8 335.2 L1296.5 334.3 L1297.2 338.5 L1295.0 344.5 L1292.8 347.5 L1290.8 342.2Z M1246.0 356.0 L1250.5 354.8 L1253.8 357.2 L1251.2 361.2 L1246.8 362.0 L1244.5 359.3Z M1130.8 398.0 L1134.5 397.2 L1137.5 402.5 L1138.2 407.8 L1134.5 411.2 L1130.8 409.2 L1129.2 404.0Z M1023.8 385.2 L1027.5 384.3 L1028.7 385.5 L1025.2 386.7Z M1190.5 412.8 L1196.5 413.5 L1202.5 418.0 L1208.5 423.2 L1214.5 428.5 L1220.5 433.0 L1225.0 437.5 L1229.5 442.0 L1232.5 446.5 L1233.2 452.5 L1233.2 457.8 L1228.0 457.8 L1223.5 454.0 L1219.0 449.5 L1213.8 443.5 L1209.2 437.5 L1204.8 431.5 L1200.2 425.5 L1195.8 419.5 L1192.0 415.8Z M1246.8 428.5 L1252.0 426.2 L1258.0 424.0 L1264.0 419.5 L1270.0 415.0 L1276.0 410.5 L1279.8 408.2 L1283.5 412.0 L1285.8 415.0 L1282.0 417.2 L1280.5 421.0 L1282.8 427.0 L1285.0 430.8 L1282.0 432.2 L1279.0 437.5 L1276.8 442.8 L1274.5 449.5 L1270.0 451.0 L1264.0 448.8 L1258.0 448.0 L1252.0 446.5 L1249.8 442.0 L1248.2 436.0 L1246.0 433.0Z M1232.5 459.2 L1240.0 460.0 L1247.5 462.2 L1255.0 461.5 L1261.0 463.0 L1267.0 466.0 L1267.0 469.0 L1261.0 468.2 L1253.5 467.5 L1246.0 466.0 L1240.0 465.2 L1234.0 463.0Z M1268.5 468.2 L1276.0 469.0 L1285.0 469.3 L1294.0 468.7 L1303.0 468.2 L1310.5 467.8 L1310.5 469.3 L1303.0 470.2 L1294.0 470.5 L1285.0 470.8 L1276.0 470.5 L1268.5 469.8Z M1286.5 472.8 L1291.8 474.2 L1291.0 475.8 L1287.2 474.7Z M1301.5 478.0 L1307.5 474.2 L1313.5 470.5 L1318.0 468.2 L1317.2 470.2 L1312.0 473.5 L1307.5 476.5 L1303.0 478.8Z M1289.5 432.2 L1294.0 430.8 L1300.0 430.8 L1306.0 430.0 L1310.5 428.5 L1309.8 431.5 L1306.0 433.8 L1300.0 433.8 L1294.0 433.8 L1291.8 436.8 L1295.5 439.0 L1301.5 438.2 L1303.8 439.8 L1300.0 442.0 L1295.5 442.8 L1298.5 446.5 L1301.5 451.0 L1300.8 454.8 L1297.8 452.5 L1294.8 448.0 L1292.5 445.0 L1291.0 449.5 L1291.8 454.0 L1291.0 457.8 L1288.0 457.8 L1288.0 452.5 L1285.8 448.0 L1287.2 442.8 L1288.8 437.5Z M1320.2 427.8 L1324.0 425.5 L1323.2 430.8 L1324.8 435.2 L1321.8 437.5 L1320.2 433.0Z M1321.0 448.0 L1327.0 446.8 L1333.0 448.0 L1330.0 450.2 L1324.0 450.2Z M1313.5 448.0 L1316.5 447.7 L1316.8 449.8 L1313.8 449.8Z M1240.0 445.8 L1242.2 445.0 L1243.0 447.7 L1240.8 448.3Z M1346.2 457.8 L1348.8 458.5 L1348.3 461.8 L1346.2 461.2Z M1334.5 438.2 L1339.0 436.8 L1345.0 437.5 L1346.5 441.2 L1343.5 445.0 L1345.0 450.2 L1348.8 446.5 L1352.5 445.0 L1357.0 442.8 L1361.5 441.2 L1367.5 442.8 L1374.2 445.0 L1381.0 447.2 L1387.0 450.2 L1393.0 454.3 L1397.5 457.8 L1400.5 461.5 L1399.3 464.8 L1403.5 469.0 L1408.0 472.0 L1412.5 474.2 L1414.8 477.2 L1409.5 476.5 L1403.5 474.2 L1399.0 472.0 L1394.5 469.8 L1390.0 467.5 L1385.5 466.0 L1381.0 469.3 L1378.0 472.0 L1374.2 471.7 L1370.5 466.8 L1366.8 464.5 L1364.8 468.2 L1360.8 468.2 L1362.7 464.8 L1364.8 461.5 L1361.5 458.5 L1357.0 455.5 L1354.0 451.8 L1349.5 449.5 L1345.8 451.8 L1342.0 448.8 L1339.0 443.5 L1336.0 441.2Z M1402.0 457.8 L1408.0 456.7 L1414.0 455.2 L1419.2 452.8 L1421.5 454.0 L1420.0 455.8 L1415.5 457.8 L1409.5 459.2 L1404.2 459.2Z M1292.5 362.8 L1297.8 361.2 L1300.0 365.0 L1298.5 369.5 L1296.2 373.2 L1297.8 377.0 L1300.0 379.2 L1306.0 381.5 L1309.8 386.0 L1307.5 386.8 L1303.0 383.8 L1297.8 382.2 L1294.0 386.0 L1291.8 380.0 L1291.0 374.0 L1289.5 370.2 L1291.8 366.5Z M1298.5 389.0 L1303.0 390.5 L1301.5 395.0 L1297.8 393.5Z M1304.5 387.5 L1310.5 389.0 L1315.0 395.0 L1312.8 398.0 L1309.0 393.5 L1305.2 391.2Z M1301.5 395.0 L1306.0 394.2 L1308.2 398.0 L1305.2 400.2 L1302.2 398.8Z M1278.2 401.8 L1281.2 398.0 L1285.0 393.5 L1288.8 388.2 L1291.0 386.0 L1290.2 389.8 L1286.5 395.0 L1282.8 400.2 L1279.8 403.2Z M1300.0 401.8 L1306.0 401.0 L1310.5 398.0 L1315.0 399.5 L1316.5 405.5 L1313.5 408.5 L1312.0 413.0 L1308.2 410.0 L1306.0 405.5 L1301.5 406.2 L1297.8 407.0 L1299.2 404.0Z M1265.5 527.5 L1267.0 523.0 L1273.0 519.2 L1279.0 517.0 L1285.0 515.5 L1291.0 514.0 L1297.0 510.2 L1300.0 505.0 L1304.5 500.5 L1309.0 496.0 L1312.0 493.0 L1316.5 490.0 L1321.0 491.5 L1322.5 495.2 L1327.8 494.5 L1330.0 490.0 L1331.5 484.0 L1334.5 481.0 L1340.5 480.2 L1345.0 481.8 L1351.0 483.2 L1355.5 481.0 L1357.0 484.0 L1354.8 490.0 L1352.5 493.8 L1356.2 496.0 L1361.5 499.0 L1366.0 502.0 L1369.0 505.0 L1373.5 504.2 L1375.8 499.0 L1376.5 493.0 L1377.2 487.0 L1378.0 481.8 L1379.2 476.5 L1381.8 482.5 L1384.8 488.5 L1388.5 493.0 L1391.5 497.5 L1393.8 503.5 L1396.0 509.5 L1399.0 514.0 L1403.5 518.5 L1408.0 524.5 L1414.0 529.0 L1415.0 528.2 L1419.5 532.0 L1422.5 535.0 L1423.2 541.0 L1424.0 547.0 L1423.2 553.0 L1421.0 559.0 L1418.0 565.0 L1415.0 571.0 L1412.0 577.0 L1409.8 582.2 L1406.0 586.0 L1400.0 589.0 L1394.0 589.8 L1389.5 587.5 L1386.5 589.8 L1380.5 589.0 L1374.5 586.0 L1370.0 583.0 L1367.0 578.5 L1364.0 577.0 L1360.2 576.2 L1361.8 571.8 L1360.2 567.2 L1358.0 571.0 L1355.0 574.0 L1352.0 573.2 L1349.0 569.5 L1346.0 565.0 L1341.5 562.0 L1334.0 561.2 L1325.0 562.0 L1316.0 564.2 L1308.5 566.5 L1302.5 569.5 L1295.0 571.0 L1287.5 573.2 L1280.0 575.5 L1274.0 574.0 L1270.2 571.0 L1272.5 568.0 L1273.2 563.5 L1272.5 557.5 L1269.5 551.5 L1266.5 545.5 L1262.8 539.5 L1263.5 535.0 L1265.0 529.0Z M1388.8 597.2 L1394.0 598.0 L1400.0 597.2 L1403.8 595.0 L1403.0 601.0 L1400.8 606.2 L1396.2 609.2 L1391.8 605.5 L1389.5 601.0Z M1501.3 573.3 L1506.7 577.3 L1510.7 582.7 L1513.3 586.7 L1518.7 585.3 L1524.0 586.1 L1521.3 592.0 L1516.0 597.3 L1512.0 601.3 L1508.0 598.7 L1505.3 593.3 L1509.3 589.3 L1506.7 584.0 L1503.2 578.7Z M1498.7 597.3 L1504.0 600.0 L1506.7 604.0 L1501.3 609.3 L1496.0 613.3 L1490.7 617.3 L1484.0 621.3 L1477.3 621.3 L1476.0 617.3 L1481.3 613.3 L1488.0 608.0 L1493.3 602.7Z M1464.8 514.7 L1468.0 516.0 L1473.3 520.0 L1477.3 524.0 L1474.7 524.8 L1469.3 521.3 L1465.3 517.3Z M301.2 231.2 L310.0 234.5 L320.0 241.2 L318.8 245.0 L310.0 241.2 L302.5 236.2Z M270.0 202.5 L277.5 207.5 L287.5 220.0 L283.8 221.2 L276.2 212.5 L268.8 206.2Z M279.5 219.5 L285.0 222.5 L287.5 228.0 L282.5 225.0Z M197.5 204.5 L203.8 202.5 L205.5 206.2 L200.0 208.8Z M122.5 181.2 L130.0 180.5 L136.2 182.0 L130.0 183.2 L123.8 183.0Z"/></clipPath></defs>
<rect x="93" y="88.5" width="1436" height="685.5" fill="#dfe5fc"/>
<g clip-path="url(#fr)">
<path d="M153.0 216.8 L165.0 209.5 L175.0 203.8 L184.5 200.5 L177.5 198.8 L165.0 200.5 L163.0 195.0 L150.0 193.0 L148.0 187.5 L155.5 183.8 L165.0 182.0 L169.5 178.0 L161.2 176.2 L150.0 174.5 L141.2 173.0 L148.8 170.5 L165.0 169.2 L170.5 170.0 L165.0 165.5 L151.2 163.0 L145.5 160.5 L155.5 158.0 L172.5 153.0 L186.2 150.5 L201.2 152.5 L220.0 154.2 L240.0 155.8 L260.0 158.2 L268.8 160.0 L280.0 158.0 L290.0 156.0 L305.0 155.5 L311.2 158.0 L316.2 156.2 L330.0 158.2 L340.0 160.0 L350.0 163.0 L352.0 164.0 L366.0 163.0 L380.0 167.0 L382.0 169.4 L388.0 163.0 L400.0 160.0 L412.0 161.0 L420.0 164.4 L428.0 166.0 L430.0 162.0 L440.0 160.0 L444.0 156.0 L440.0 152.0 L432.0 154.0 L428.0 150.0 L432.0 148.0 L440.0 149.0 L448.0 156.0 L454.0 159.0 L462.0 159.0 L464.0 165.0 L470.0 164.0 L470.0 158.0 L476.0 157.0 L484.0 158.0 L487.0 163.0 L480.0 168.0 L470.0 170.0 L466.0 173.0 L460.0 174.0 L452.0 172.0 L446.0 173.0 L456.0 176.0 L452.0 180.0 L444.0 182.0 L438.0 186.0 L434.0 192.0 L433.0 199.0 L440.0 204.0 L442.0 208.0 L452.0 209.0 L462.0 211.0 L472.0 214.0 L480.0 215.0 L484.0 222.0 L488.0 228.0 L493.0 231.0 L497.0 228.0 L496.0 220.0 L502.0 214.0 L506.0 208.0 L502.0 202.0 L497.0 199.0 L500.0 194.0 L502.0 188.0 L510.0 186.0 L520.0 184.0 L526.0 188.0 L532.0 192.0 L534.0 200.0 L540.0 202.0 L548.0 199.0 L552.4 194.0 L552.5 194.2 L558.5 200.5 L563.0 206.5 L567.5 212.5 L573.5 217.0 L581.0 217.8 L578.0 220.0 L585.5 222.2 L588.5 226.0 L587.8 229.8 L584.0 229.3 L578.0 231.2 L572.0 233.5 L563.0 235.0 L554.0 234.2 L545.0 235.0 L537.5 238.0 L531.5 242.5 L527.0 247.8 L533.0 244.0 L539.0 241.0 L545.0 238.8 L551.0 238.8 L554.0 241.0 L551.8 244.0 L548.0 243.2 L551.8 247.0 L554.0 250.0 L558.5 251.5 L563.0 250.0 L567.5 249.2 L571.2 247.8 L572.0 250.8 L567.5 253.8 L561.5 256.0 L555.5 258.2 L551.0 260.5 L548.0 261.2 L546.5 258.2 L551.0 256.0 L554.0 253.8 L550.2 253.8 L545.0 255.2 L540.5 257.5 L536.0 259.8 L532.2 263.5 L530.0 266.5 L531.5 269.5 L525.5 270.2 L521.0 271.8 L516.5 273.2 L513.5 277.0 L509.8 278.5 L506.0 280.0 L503.0 283.0 L506.0 287.5 L506.8 292.0 L509.0 293.5 L504.5 295.0 L502.2 298.0 L500.0 300.2 L497.0 301.8 L492.5 304.8 L488.8 308.5 L486.5 312.2 L485.8 316.0 L487.2 320.5 L490.2 325.0 L489.8 326.0 L490.5 332.0 L488.2 335.0 L486.0 332.8 L483.0 328.2 L480.0 323.0 L477.8 317.8 L472.5 314.8 L465.0 313.7 L459.0 314.0 L453.0 314.8 L454.5 317.8 L448.5 316.7 L441.0 316.2 L433.5 317.0 L427.5 320.0 L423.0 323.8 L421.8 329.0 L422.2 332.8 L420.8 338.0 L420.3 344.0 L422.2 350.0 L425.2 356.0 L429.0 360.5 L435.0 362.8 L439.5 360.5 L444.0 356.0 L448.5 353.0 L454.5 351.5 L460.5 350.8 L462.0 354.5 L460.5 360.5 L459.0 366.5 L460.5 372.5 L463.5 377.0 L469.5 380.0 L472.5 383.0 L471.0 387.5 L474.0 392.0 L477.8 395.0 L481.5 397.2 L486.0 398.8 L491.2 397.2 L495.0 396.8 L499.5 398.8 L502.5 401.0 L505.0 398.5 L508.0 394.8 L511.8 391.8 L517.8 389.5 L523.0 386.2 L526.0 385.8 L527.0 389.5 L530.5 390.2 L536.5 392.5 L544.0 394.0 L550.0 394.8 L556.0 394.0 L562.0 393.7 L567.2 394.8 L568.0 399.2 L565.8 400.8 L571.0 402.2 L575.5 405.2 L578.5 409.0 L583.0 411.2 L589.0 412.8 L595.0 413.5 L600.2 415.0 L604.0 418.0 L607.8 421.8 L610.0 426.2 L611.5 430.0 L608.5 433.8 L604.8 437.5 L601.8 441.2 L608.5 440.5 L611.5 436.8 L616.8 437.5 L616.0 440.5 L620.5 439.0 L625.0 439.0 L631.0 442.0 L634.0 446.5 L640.0 444.2 L647.5 445.0 L655.0 448.0 L661.0 451.8 L667.0 455.5 L670.8 457.8 L672.2 463.0 L671.5 469.0 L668.5 475.0 L664.0 480.2 L659.5 485.5 L656.5 488.5 L655.8 494.5 L655.0 500.5 L654.2 505.0 L652.0 512.5 L648.2 520.0 L643.8 525.2 L638.5 526.8 L632.5 529.0 L626.5 532.8 L620.5 536.5 L616.8 540.2 L617.2 545.5 L614.5 550.0 L610.0 554.5 L606.2 559.0 L602.5 563.5 L598.8 567.2 L595.0 571.0 L590.5 572.5 L584.5 573.2 L580.0 571.8 L577.8 568.0 L578.5 565.0 L576.2 568.0 L578.5 571.8 L581.5 576.2 L585.2 580.8 L583.8 585.2 L578.5 589.0 L571.0 590.5 L565.0 590.8 L563.5 592.5 L563.2 597.0 L559.8 599.2 L556.0 600.0 L553.0 602.2 L550.0 604.5 L551.5 609.0 L550.0 612.8 L545.5 615.0 L541.8 618.0 L543.2 622.5 L547.0 624.8 L545.5 628.5 L541.8 631.5 L538.0 634.5 L535.8 639.0 L535.0 642.8 L538.0 645.0 L541.0 648.8 L544.8 651.8 L550.0 653.7 L545.5 654.8 L541.0 657.0 L536.5 656.2 L530.5 654.8 L524.5 651.8 L520.0 648.0 L515.5 644.2 L511.8 639.0 L509.5 633.0 L508.8 627.0 L510.2 621.8 L511.8 615.0 L514.0 608.2 L515.5 601.5 L516.2 595.5 L516.7 589.0 L520.0 574.0 L524.5 560.5 L527.5 547.0 L528.2 539.5 L529.0 532.0 L529.8 524.5 L531.2 517.0 L532.0 511.0 L533.0 505.4 L530.5 507.2 L526.0 505.0 L520.0 500.5 L511.0 494.5 L520.0 500.5 L514.0 496.0 L508.0 491.5 L504.2 485.5 L500.5 479.5 L497.5 473.5 L493.8 466.0 L490.0 461.5 L487.0 457.8 L487.0 452.5 L489.2 448.0 L491.5 445.0 L489.2 444.2 L488.5 439.8 L490.8 434.5 L493.8 430.8 L497.5 427.8 L499.8 422.5 L502.0 418.0 L500.5 412.0 L501.2 406.0 L502.8 402.2 L503.2 402.5 L501.0 404.8 L498.0 401.8 L493.5 400.2 L489.8 401.0 L491.2 404.0 L489.0 405.5 L485.2 403.2 L481.5 401.8 L477.8 399.5 L474.0 395.8 L469.5 392.0 L465.0 389.0 L460.5 386.0 L456.0 383.0 L450.0 380.0 L444.0 376.2 L439.5 373.2 L436.5 371.0 L433.5 370.2 L429.0 372.2 L423.0 372.2 L417.0 370.2 L411.0 367.2 L405.0 364.2 L399.0 361.2 L393.0 358.2 L390.0 354.5 L390.8 349.2 L387.8 344.0 L383.2 339.5 L379.5 335.0 L375.0 331.2 L370.5 326.0 L365.2 321.5 L361.5 316.2 L359.2 311.0 L356.2 307.2 L352.5 308.0 L354.0 310.2 L356.2 314.8 L359.2 319.2 L361.8 323.8 L364.5 328.2 L367.5 332.8 L370.5 337.2 L373.8 341.0 L372.8 343.2 L368.2 339.5 L363.8 335.0 L359.2 329.8 L354.8 326.0 L350.2 323.8 L352.5 320.8 L350.2 317.0 L347.2 311.0 L344.2 305.0 L341.2 302.8 L336.0 299.0 L330.0 297.5 L336.2 302.5 L330.0 297.5 L323.8 288.8 L325.0 285.0 L320.0 282.5 L315.0 275.0 L316.2 270.0 L315.0 260.0 L316.2 250.0 L322.5 246.2 L321.2 241.2 L310.0 235.0 L302.5 232.5 L297.5 227.5 L290.0 221.2 L280.0 215.0 L270.0 205.0 L265.0 200.0 L252.5 196.2 L240.0 195.0 L230.0 193.8 L220.0 195.0 L215.0 191.2 L207.5 192.5 L197.5 200.5 L190.0 206.2 L177.5 211.5 L165.0 215.5Z M521.2 122.5 L532.5 118.8 L547.5 113.8 L565.0 110.0 L577.5 107.5 L597.5 106.2 L615.0 103.8 L640.0 102.5 L665.0 102.0 L690.0 102.0 L710.0 103.0 L725.0 105.0 L740.0 108.0 L755.0 108.8 L762.0 109.5 L747.5 112.5 L737.5 115.0 L740.0 120.0 L730.0 123.8 L737.5 128.8 L727.5 133.8 L730.0 140.0 L722.5 145.0 L725.0 151.2 L715.0 153.8 L705.0 156.2 L697.5 155.0 L705.0 158.8 L695.0 161.2 L685.0 162.5 L675.0 166.2 L665.0 170.0 L655.0 173.8 L647.5 178.8 L642.5 185.0 L640.0 191.2 L636.2 195.0 L630.0 193.8 L620.0 191.2 L615.0 186.2 L610.0 180.0 L605.0 173.8 L600.0 170.0 L597.5 163.8 L600.0 157.5 L595.0 155.0 L592.5 150.0 L587.5 143.8 L582.5 137.5 L575.0 133.8 L565.0 131.2 L552.5 130.0 L540.0 128.8 L527.5 126.2 L520.0 123.8Z M713.8 172.5 L720.0 170.0 L727.5 172.0 L735.0 170.5 L745.0 170.0 L753.8 172.0 L757.0 175.0 L750.0 178.8 L740.0 181.2 L730.0 181.2 L722.5 180.0 L721.2 176.2 L715.0 175.0Z M574.2 241.8 L580.2 235.0 L584.0 229.8 L587.8 230.5 L586.2 235.0 L590.0 238.0 L596.0 238.8 L599.8 241.8 L600.5 247.0 L597.5 248.5 L594.5 245.5 L590.0 247.0 L586.2 247.8 L584.0 244.8 L578.8 245.5 L574.2 244.8Z M473.0 143.0 L482.0 140.8 L491.0 141.5 L503.0 143.8 L515.0 148.2 L527.0 152.8 L539.0 156.5 L545.0 160.2 L557.0 165.5 L566.0 169.2 L563.0 173.8 L555.5 173.0 L549.5 170.0 L543.5 171.5 L552.5 177.5 L554.8 183.5 L551.0 188.0 L545.0 185.0 L539.0 182.0 L530.0 179.0 L524.0 182.0 L519.5 180.5 L515.0 176.0 L507.5 177.5 L500.0 179.0 L498.5 175.2 L504.5 173.0 L512.0 171.5 L518.0 168.5 L521.8 166.2 L515.0 162.5 L507.5 160.2 L500.0 158.0 L494.0 155.0 L485.0 154.2 L476.0 155.0 L470.0 152.0 L468.5 147.5Z M503.0 163.2 L510.5 162.5 L512.8 165.5 L506.0 167.0Z M477.5 184.2 L483.5 183.5 L482.0 187.2 L478.2 186.8Z M491.0 186.2 L494.8 186.5 L493.2 189.2Z M491.8 209.0 L496.2 208.2 L497.0 211.2 L492.5 212.0Z M466.0 173.0 L474.0 171.0 L480.0 174.0 L488.0 179.0 L484.0 183.0 L476.0 181.0 L470.0 183.0 L465.0 179.0Z M336.0 148.0 L346.0 144.0 L356.0 145.0 L368.0 144.0 L380.0 142.0 L388.0 141.0 L394.0 147.0 L400.0 152.0 L408.0 154.0 L404.0 158.0 L394.0 159.0 L380.0 160.0 L366.0 159.0 L354.0 161.0 L350.0 158.0 L342.0 154.0 L340.0 150.0Z M309.0 147.0 L313.0 139.0 L324.0 137.6 L340.0 140.0 L348.0 142.4 L340.0 145.6 L330.0 148.0 L320.0 151.0 L312.0 149.6Z M321.0 131.0 L332.0 127.0 L346.0 126.0 L350.0 130.0 L360.0 129.0 L366.0 133.0 L376.0 130.0 L388.0 133.0 L386.0 136.0 L372.0 137.0 L360.0 138.0 L348.0 135.0 L336.0 134.0 L326.0 133.0Z M354.0 123.0 L368.0 121.0 L374.0 124.0 L366.0 127.0 L356.0 126.0Z M425.0 116.0 L431.0 111.5 L443.0 109.2 L455.0 107.0 L470.0 105.2 L485.0 103.7 L503.0 102.8 L522.5 102.8 L542.0 103.7 L557.0 104.8 L566.0 107.0 L564.5 110.8 L552.5 113.0 L543.5 114.5 L551.0 116.0 L548.0 119.0 L537.5 119.8 L527.0 120.5 L518.0 122.0 L512.0 123.5 L506.0 121.2 L498.5 122.0 L495.5 126.5 L500.0 128.8 L491.0 129.5 L482.0 128.8 L473.0 129.5 L464.0 128.8 L455.0 128.0 L450.5 125.8 L446.0 122.8 L440.0 120.5 L432.5 119.0 L426.5 117.5Z M441.5 131.8 L450.5 129.8 L464.0 130.7 L477.5 131.3 L491.0 131.0 L494.0 134.0 L489.5 137.0 L476.0 137.8 L461.0 137.0 L449.0 136.2 L443.0 134.8Z M452.0 147.5 L455.0 142.2 L462.5 140.0 L470.0 140.8 L466.2 143.8 L465.5 148.2 L470.0 151.2 L464.0 154.2 L456.5 153.5 L452.8 150.5Z M422.8 128.0 L429.5 126.8 L437.0 127.2 L441.5 129.5 L435.5 131.3 L428.0 130.7Z M430.2 140.8 L440.0 139.7 L450.5 139.2 L446.0 143.8 L437.0 146.0 L431.8 144.5Z M401.0 144.5 L407.0 140.8 L416.0 139.7 L423.5 141.5 L425.8 146.0 L422.0 149.8 L414.5 150.5 L407.0 147.5Z M388.2 125.8 L395.0 127.2 L393.5 130.2 L401.0 129.5 L407.0 128.8 L414.5 129.5 L421.2 131.0 L423.5 134.8 L417.5 136.2 L410.0 134.0 L402.5 134.8 L395.0 132.5 L389.0 129.5Z M389.8 119.8 L396.5 118.2 L405.5 119.8 L414.5 122.0 L412.2 125.0 L404.0 124.2 L396.5 123.5Z M419.8 122.0 L425.0 120.5 L431.8 122.8 L431.0 125.3 L423.5 125.0Z M418.2 158.0 L425.0 156.5 L429.5 159.5 L425.0 162.5 L419.0 161.8Z M478.5 344.3 L484.5 342.8 L490.5 343.7 L496.5 346.2 L502.5 349.2 L508.5 352.2 L514.5 353.8 L512.2 355.7 L505.5 355.2 L501.0 356.0 L499.5 353.8 L494.2 350.8 L489.0 348.5 L483.0 346.7 L479.2 345.8Z M518.2 356.8 L523.5 355.7 L529.5 356.8 L534.0 358.2 L537.8 361.2 L532.5 362.3 L526.5 364.2 L523.5 362.0 L518.2 363.2 L514.5 362.0 L519.0 360.5Z M498.8 362.3 L502.5 361.7 L506.2 362.8 L504.0 364.2 L500.2 363.8Z M543.0 361.7 L548.2 361.4 L549.0 363.2 L543.8 363.5Z M566.5 642.0 L571.0 640.2 L576.2 639.8 L580.8 640.8 L577.0 642.8 L571.8 643.8 L568.0 643.5Z M770.0 320.0 L771.0 317.0 L773.0 313.0 L775.0 309.0 L778.0 306.0 L782.0 302.0 L785.0 297.0 L788.0 292.5 L793.0 294.0 L799.0 293.5 L804.0 292.5 L810.0 290.5 L816.0 289.0 L823.0 288.0 L830.0 288.0 L838.0 287.5 L845.0 287.2 L851.0 286.8 L854.5 288.0 L855.0 290.0 L853.5 293.0 L852.5 296.5 L854.0 300.0 L856.0 302.0 L860.0 304.0 L866.0 306.0 L872.0 307.5 L879.0 309.0 L885.0 307.0 L890.0 305.0 L894.0 304.5 L899.0 304.5 L904.0 306.0 L910.0 308.0 L914.0 309.5 L918.0 310.0 L923.0 310.0 L927.0 309.0 L930.0 307.5 L929.5 306.0 L935.5 308.2 L940.0 309.3 L946.0 310.2 L950.5 309.3 L953.5 308.2 L956.5 309.3 L959.5 310.5 L949.3 310.8 L952.0 317.5 L950.5 323.5 L946.8 313.8 L947.5 322.0 L949.0 329.5 L952.0 337.0 L955.0 343.0 L958.0 349.0 L961.0 355.0 L950.2 334.5 L954.0 342.0 L957.8 348.0 L960.0 354.0 L962.2 360.0 L964.5 364.8 L967.5 369.8 L972.0 375.0 L976.5 380.2 L981.0 385.5 L983.2 387.8 L981.8 389.2 L984.0 390.0 L990.0 391.5 L997.5 390.8 L1005.0 389.2 L1011.0 388.2 L1015.2 387.8 L1014.8 393.0 L1011.8 400.5 L1008.0 408.0 L1003.5 415.5 L997.5 421.5 L990.0 427.5 L984.0 433.5 L978.0 440.2 L973.5 447.0 L969.8 454.5 L967.5 462.0 L977.0 462.5 L977.8 470.0 L976.2 477.5 L974.8 485.0 L974.3 491.0 L974.0 494.0 L971.0 498.5 L966.5 502.2 L960.5 506.0 L954.5 509.8 L950.0 513.5 L950.0 516.5 L952.2 522.5 L953.0 529.2 L950.0 533.0 L944.0 536.0 L940.2 539.8 L942.5 542.0 L941.8 545.8 L938.8 551.0 L934.2 555.5 L929.0 560.0 L921.5 563.8 L914.0 566.0 L905.0 567.5 L896.0 566.8 L888.5 563.0 L882.5 558.5 L878.0 549.5 L875.0 547.2 L872.8 542.0 L871.2 536.0 L869.8 530.0 L867.5 524.0 L863.8 516.5 L860.8 510.5 L857.8 505.2 L857.8 501.5 L859.2 494.8 L862.2 488.0 L866.0 482.0 L865.8 482.0 L862.0 473.0 L859.0 464.0 L859.0 454.2 L856.0 450.5 L851.5 446.0 L848.5 441.5 L847.0 437.0 L849.2 431.0 L850.0 425.0 L848.5 419.8 L845.5 416.0 L839.5 417.2 L835.0 416.0 L832.0 412.2 L826.0 409.7 L818.5 410.8 L811.0 412.2 L805.0 413.8 L800.5 415.2 L793.0 414.2 L787.0 415.7 L781.0 417.5 L775.0 415.2 L769.0 412.2 L763.0 407.8 L757.8 401.8 L752.5 395.8 L748.0 390.5 L745.0 386.0 L744.2 380.0 L744.2 381.0 L741.2 376.5 L742.0 375.0 L744.2 369.0 L745.8 363.0 L745.0 357.0 L742.8 351.8 L743.5 348.0 L748.0 340.5 L752.5 334.5 L757.8 327.8 L760.0 324.8 L766.0 321.8 L770.5 316.5 L773.5 310.5 L775.0 305.2Z M1007.8 483.5 L1010.8 488.0 L1012.2 495.5 L1010.0 501.5 L1008.5 509.0 L1006.2 516.5 L1004.0 524.0 L1001.0 531.5 L998.0 536.0 L992.0 537.5 L986.8 535.2 L983.8 530.0 L983.0 524.0 L986.0 518.0 L987.5 512.0 L986.8 506.0 L988.2 500.8 L993.5 498.5 L999.5 495.5 L1003.2 489.5 L1005.5 485.0Z M952.0 317.5 L949.3 310.8 L950.5 306.2 L952.0 301.0 L953.5 295.0 L954.2 289.8 L950.5 288.2 L946.0 289.8 L940.0 290.5 L934.0 289.0 L929.5 289.8 L925.0 287.5 L920.5 286.0 L918.2 283.0 L919.0 278.5 L917.5 275.5 L919.8 272.5 L917.2 270.2 L922.0 270.0 L918.0 270.5 L915.0 270.0 L912.0 272.0 L909.0 273.0 L905.0 275.0 L907.0 278.0 L903.0 279.0 L904.0 282.0 L901.0 283.0 L900.0 286.0 L895.0 285.0 L896.0 282.0 L893.0 279.0 L890.0 276.0 L891.0 272.0 L888.0 269.0 L883.0 266.0 L878.0 263.0 L873.0 260.0 L869.0 257.0 L867.0 254.0 L864.0 253.0 L860.0 255.0 L862.0 257.0 L865.0 259.0 L868.0 262.0 L871.0 265.0 L874.0 269.0 L877.0 272.0 L881.0 274.0 L883.0 276.0 L880.0 277.0 L877.0 279.0 L878.0 282.0 L876.0 284.0 L874.0 281.0 L871.0 278.0 L867.0 275.0 L863.0 272.0 L859.0 269.0 L855.0 265.0 L851.0 262.0 L846.0 261.0 L840.0 263.0 L834.0 264.0 L828.0 265.0 L822.0 266.5 L817.0 270.0 L814.0 274.0 L811.0 279.0 L809.0 282.0 L807.0 285.5 L804.0 288.5 L799.0 289.0 L794.0 290.0 L790.0 291.0 L788.0 292.0 L786.0 290.0 L783.0 288.0 L780.0 287.5 L776.0 287.0 L775.5 283.5 L774.0 280.5 L775.0 277.0 L774.5 273.0 L775.5 269.0 L774.0 266.0 L774.5 263.0 L779.0 261.0 L786.0 261.5 L793.0 262.0 L797.0 262.5 L799.0 260.0 L798.5 256.0 L797.5 252.0 L795.0 247.0 L792.5 242.5 L792.5 241.5 L797.0 239.0 L804.0 238.5 L806.0 234.0 L811.0 236.0 L817.0 232.0 L824.0 229.0 L829.0 226.0 L832.0 223.5 L838.0 222.0 L843.0 220.0 L846.0 219.5 L845.0 216.0 L843.5 212.0 L844.0 208.0 L848.0 205.5 L853.0 205.0 L853.5 209.0 L852.0 214.0 L853.0 218.0 L854.0 219.8 L860.0 218.0 L865.0 219.5 L869.1 221.1 L872.7 219.8 L878.0 218.4 L883.3 217.6 L887.8 218.4 L891.3 217.6 L894.0 216.7 L896.7 214.9 L895.3 212.2 L895.8 209.6 L896.7 206.9 L899.3 205.1 L902.0 205.6 L904.7 207.3 L907.3 206.9 L908.7 204.2 L906.4 201.6 L902.9 200.7 L900.2 202.4 L901.1 199.8 L904.7 198.4 L910.0 198.0 L915.3 197.6 L921.6 196.7 L926.0 196.2 L930.9 196.2 L928.7 194.9 L923.3 193.6 L917.1 194.0 L910.0 194.4 L903.8 195.3 L900.2 193.6 L897.6 191.8 L896.2 188.2 L896.0 184.7 L897.6 182.4 L900.2 181.1 L903.8 179.3 L907.3 177.1 L911.3 176.4 L912.2 174.7 L909.1 172.7 L903.8 172.2 L898.4 173.6 L895.8 176.7 L895.3 180.7 L888.0 184.0 L884.0 190.0 L882.0 196.0 L885.0 201.0 L880.0 206.0 L876.0 211.0 L872.0 214.0 L866.0 214.5 L862.0 212.0 L860.0 208.0 L858.0 204.0 L855.0 200.0 L852.0 199.0 L848.0 202.0 L843.0 204.5 L838.0 204.0 L834.0 201.0 L831.0 198.0 L830.0 194.0 L831.0 188.0 L834.0 184.0 L840.0 183.5 L846.0 182.5 L852.0 180.0 L858.0 175.0 L864.0 169.0 L870.0 164.0 L873.5 161.0 L878.0 158.8 L884.0 155.8 L890.0 154.2 L894.5 153.2 L900.5 152.3 L906.5 151.7 L912.5 151.2 L918.5 151.7 L924.5 152.8 L929.8 153.5 L935.0 155.0 L944.0 157.8 L953.0 159.2 L962.0 160.8 L971.0 163.8 L975.5 166.0 L974.0 169.0 L968.0 171.2 L960.5 170.5 L953.0 169.8 L947.0 168.2 L941.0 167.5 L948.5 171.2 L951.5 175.0 L956.0 178.0 L960.5 176.5 L965.0 175.8 L969.5 173.5 L974.0 172.0 L980.0 169.8 L986.0 170.5 L987.5 166.8 L984.5 162.2 L992.0 160.8 L996.5 163.0 L993.5 166.0 L1001.0 166.8 L1007.0 164.5 L1014.5 163.0 L1022.0 161.5 L1028.0 160.0 L1034.0 160.8 L1040.0 160.0 L1046.0 159.2 L1047.5 156.2 L1052.0 157.0 L1052.8 160.0 L1059.5 157.8 L1067.0 157.0 L1074.5 158.5 L1080.0 160.8 L1084.5 162.2 L1082.2 159.2 L1078.5 156.2 L1077.3 152.5 L1080.0 150.2 L1084.5 146.5 L1090.5 143.1 L1095.8 142.0 L1101.0 144.2 L1101.8 149.5 L1102.8 155.5 L1101.8 161.5 L1097.2 166.0 L1092.0 168.2 L1086.8 169.3 L1095.0 170.2 L1100.2 169.3 L1105.5 166.0 L1108.8 161.8 L1107.8 157.0 L1104.8 152.8 L1106.2 148.8 L1110.8 145.8 L1114.5 147.7 L1120.5 150.2 L1125.8 151.8 L1122.0 148.8 L1116.8 146.5 L1121.2 144.7 L1126.5 144.2 L1131.0 142.4 L1136.2 144.7 L1141.5 148.8 L1144.8 152.8 L1141.5 154.8 L1139.2 151.0 L1134.0 147.7 L1131.8 145.0 L1135.5 142.0 L1144.5 139.3 L1153.5 136.8 L1161.0 134.8 L1170.0 132.4 L1168.0 133.0 L1180.0 131.5 L1192.0 130.0 L1201.0 130.8 L1207.0 131.5 L1210.0 134.5 L1213.0 129.2 L1219.0 126.2 L1228.0 125.5 L1234.0 127.0 L1240.0 129.2 L1249.0 128.5 L1258.0 129.2 L1264.8 131.8 L1262.5 135.2 L1255.0 137.5 L1247.5 139.8 L1238.5 142.8 L1231.8 144.7 L1240.0 143.5 L1252.0 140.5 L1261.0 139.8 L1264.0 144.2 L1270.0 142.0 L1279.0 142.0 L1285.0 143.5 L1291.0 144.2 L1299.0 143.8 L1305.0 140.8 L1314.0 141.5 L1323.0 142.2 L1326.8 145.2 L1327.5 149.0 L1333.5 152.0 L1339.5 148.2 L1347.0 149.8 L1354.5 149.8 L1362.0 150.2 L1368.0 146.8 L1374.0 145.2 L1383.0 146.0 L1392.0 146.8 L1401.0 147.5 L1410.0 149.0 L1417.5 151.2 L1425.0 151.7 L1434.0 152.0 L1443.0 152.8 L1449.0 154.2 L1453.5 158.8 L1455.0 161.0 L1459.5 157.7 L1470.0 157.7 L1480.5 156.8 L1485.0 158.0 L1491.0 159.5 L1497.0 156.5 L1506.0 156.2 L1515.0 156.8 L1524.0 157.7 L1533.0 158.8 L1533.0 176.8 L1524.0 176.0 L1515.0 176.0 L1507.5 176.8 L1515.0 178.2 L1522.5 180.5 L1527.8 183.5 L1524.0 185.8 L1518.0 185.0 L1512.0 188.0 L1506.0 190.2 L1500.0 192.5 L1494.0 194.8 L1491.0 196.2 L1485.0 194.0 L1479.0 194.8 L1473.0 195.5 L1467.0 197.0 L1462.5 199.2 L1465.5 201.5 L1462.5 206.0 L1461.0 209.8 L1458.0 213.5 L1455.0 216.5 L1450.5 219.5 L1447.5 222.5 L1443.0 225.5 L1438.5 229.2 L1436.2 230.8 L1434.8 224.0 L1433.2 218.0 L1432.5 213.5 L1434.0 209.0 L1437.8 205.2 L1443.0 203.0 L1449.0 200.0 L1455.0 197.0 L1459.5 194.0 L1464.0 190.2 L1466.2 186.5 L1471.5 185.8 L1467.0 185.0 L1462.5 186.5 L1458.0 190.2 L1453.5 191.8 L1449.8 192.5 L1450.5 188.8 L1446.0 188.0 L1440.0 190.2 L1434.0 193.2 L1428.0 197.0 L1430.2 198.5 L1422.0 199.2 L1416.0 200.0 L1410.0 198.5 L1404.0 197.8 L1395.0 198.5 L1386.0 198.5 L1380.0 200.0 L1374.0 203.8 L1368.0 207.5 L1362.0 211.2 L1356.0 214.2 L1350.8 216.5 L1356.0 217.2 L1360.5 215.8 L1362.0 219.5 L1365.0 221.0 L1369.5 219.5 L1373.2 221.8 L1375.5 225.5 L1374.0 230.0 L1371.8 234.5 L1371.0 240.5 L1370.8 239.5 L1367.0 245.5 L1361.8 250.8 L1356.5 255.2 L1350.5 259.8 L1344.5 263.5 L1338.5 264.2 L1334.8 263.5 L1331.8 266.5 L1328.0 271.0 L1323.5 274.8 L1320.5 277.8 L1323.5 281.5 L1326.5 286.0 L1328.0 291.2 L1325.8 295.0 L1320.5 297.2 L1316.0 297.2 L1314.5 293.5 L1316.0 289.0 L1313.8 284.5 L1310.0 280.8 L1307.0 277.0 L1302.5 276.7 L1298.0 279.2 L1295.0 280.0 L1296.5 275.5 L1298.8 272.5 L1294.2 272.2 L1289.8 275.5 L1285.2 277.8 L1280.8 280.0 L1282.2 283.0 L1287.5 286.0 L1293.5 285.2 L1299.5 286.0 L1295.0 289.0 L1290.5 292.0 L1286.8 295.0 L1288.2 299.5 L1292.0 304.0 L1295.0 308.5 L1298.0 313.0 L1298.8 316.0 L1295.0 319.0 L1293.5 323.5 L1290.5 328.0 L1287.5 331.8 L1283.8 337.0 L1278.5 341.5 L1272.5 344.5 L1267.0 344.8 L1261.0 347.8 L1255.0 349.2 L1250.5 351.5 L1247.5 350.8 L1244.5 352.2 L1240.0 351.5 L1239.7 351.8 L1237.8 353.8 L1236.2 357.5 L1238.5 362.0 L1242.2 368.0 L1246.0 374.0 L1247.8 380.0 L1248.2 386.0 L1244.5 391.2 L1240.0 395.0 L1235.5 398.0 L1231.8 399.5 L1231.0 395.8 L1226.5 390.5 L1222.0 386.0 L1217.5 386.0 L1216.0 392.0 L1213.0 395.0 L1210.0 392.0 L1208.5 396.5 L1206.2 399.5 L1203.2 401.8 L1207.8 407.0 L1210.0 413.0 L1211.5 419.0 L1214.5 425.0 L1219.0 429.5 L1223.5 432.5 L1226.5 431.8 L1225.0 428.0 L1223.5 423.5 L1222.0 417.5 L1219.0 413.0 L1216.0 408.5 L1213.0 404.0 L1208.5 401.8 L1205.5 398.0 L1202.5 392.0 L1201.0 384.5 L1199.5 377.0 L1195.0 374.0 L1191.2 372.5 L1189.8 371.0 L1187.5 365.0 L1186.0 360.5 L1183.0 355.2 L1180.0 350.0 L1177.8 345.5 L1179.5 349.2 L1176.5 347.0 L1173.5 342.5 L1170.5 346.7 L1164.5 347.8 L1158.5 349.2 L1154.8 353.0 L1149.5 357.5 L1143.5 363.5 L1137.5 369.5 L1132.2 373.2 L1130.8 378.5 L1129.7 384.5 L1130.0 390.5 L1127.8 396.5 L1124.0 401.0 L1120.2 402.5 L1116.5 398.0 L1113.5 392.0 L1110.5 384.5 L1107.5 377.0 L1104.5 369.5 L1102.2 362.0 L1101.5 356.0 L1100.0 350.0 L1094.0 345.5 L1091.0 341.0 L1085.0 338.0 L1079.0 339.5 L1073.0 336.5 L1071.5 333.5 L1067.0 333.8 L1059.5 334.2 L1052.0 333.8 L1044.5 332.8 L1039.2 331.2 L1036.2 327.2 L1031.0 328.2 L1025.0 327.5 L1019.0 324.5 L1014.5 320.0 L1010.0 314.8 L1005.5 314.5 L1004.0 316.0 L1007.0 320.0 L1010.0 324.0 L1014.0 328.0 L1014.8 330.0 L1015.5 333.0 L1017.8 336.8 L1020.0 338.2 L1026.0 337.5 L1032.0 335.2 L1035.0 332.2 L1036.5 336.0 L1041.0 339.0 L1045.5 342.8 L1050.0 345.8 L1047.8 349.5 L1044.8 354.0 L1041.0 357.0 L1036.5 360.8 L1032.0 363.8 L1026.0 367.5 L1020.0 370.5 L1012.5 373.5 L1005.0 376.5 L997.5 379.5 L990.0 382.5 L984.8 384.3 L983.2 381.8 L981.0 375.0 L978.0 367.5 L973.5 360.0 L969.0 353.2 L966.0 346.5 L963.0 339.0 L960.0 331.5 L955.8 331.0 L953.5 323.5Z M769.7 227.0 L771.0 223.0 L770.3 219.7 L773.7 218.3 L777.0 216.3 L780.3 214.7 L784.3 215.0 L787.7 216.3 L788.3 218.3 L786.3 221.0 L785.7 224.3 L783.7 226.3 L779.7 227.7 L775.7 229.0 L772.3 229.3Z M789.7 203.0 L793.0 201.7 L797.0 201.0 L795.7 204.0 L799.7 205.0 L803.7 205.0 L802.3 207.7 L799.7 210.3 L802.3 211.7 L804.3 213.7 L805.7 216.3 L808.3 218.3 L811.0 221.0 L812.3 223.7 L814.3 225.0 L817.7 226.3 L819.0 229.0 L817.7 231.0 L818.3 233.0 L815.7 234.3 L811.7 235.0 L807.7 235.3 L803.7 235.7 L799.7 236.3 L795.7 236.7 L791.7 236.3 L788.3 235.3 L791.0 234.7 L794.3 233.0 L798.3 231.7 L801.0 229.0 L797.0 229.7 L793.0 230.3 L790.3 229.0 L791.7 228.3 L795.0 227.7 L794.3 225.0 L793.0 222.7 L795.7 222.3 L799.0 221.7 L798.3 218.3 L796.3 216.0 L793.0 216.3 L791.0 215.0 L791.7 211.7 L791.0 209.0 L789.0 206.3Z M781.7 205.0 L784.3 202.7 L787.0 203.0 L788.0 207.0 L787.7 211.7 L785.7 213.0 L784.3 209.7 L782.0 207.7Z M797.3 199.3 L801.0 198.2 L801.3 200.0 L798.3 201.0Z M804.3 193.7 L807.3 192.3 L806.7 195.7 L805.0 196.0Z M781.5 187.0 L785.3 186.5 L784.7 190.0 L782.9 189.0Z M861.0 284.0 L866.0 283.0 L872.0 282.5 L871.0 286.0 L868.0 288.5 L864.0 287.0Z M844.8 271.0 L848.0 270.0 L850.0 272.0 L849.8 277.0 L848.0 279.5 L845.5 279.0 L844.5 275.0Z M847.5 263.5 L849.5 263.0 L850.0 266.5 L849.0 269.0 L847.5 267.5Z M905.0 294.0 L910.0 293.5 L915.0 294.0 L919.0 294.5 L914.0 295.5 L908.0 295.5Z M940.8 295.8 L944.5 294.2 L950.5 292.8 L947.5 295.0 L946.0 296.8 L942.2 296.8Z M855.5 112.0 L867.5 109.0 L881.0 110.5 L890.0 113.5 L899.0 114.2 L909.5 114.2 L919.2 115.0 L915.5 117.2 L908.0 118.0 L905.0 121.0 L909.5 124.8 L903.5 126.7 L896.0 124.8 L890.0 122.5 L881.0 121.0 L872.0 122.5 L863.0 120.2 L860.0 115.8Z M1017.5 148.0 L1022.0 144.2 L1028.0 140.5 L1034.0 136.8 L1043.0 133.0 L1055.0 130.8 L1067.0 129.2 L1079.0 128.2 L1085.8 128.8 L1083.5 130.8 L1073.0 132.2 L1061.0 133.8 L1050.5 136.0 L1041.5 139.8 L1036.2 143.5 L1033.2 148.0 L1038.5 152.5 L1031.0 152.5 L1023.5 151.0Z M1004.0 159.2 L1008.5 157.8 L1011.5 159.2 L1007.8 161.2Z M992.0 113.2 L1004.0 112.0 L1016.0 112.8 L1010.0 115.0 L998.0 114.7Z M1020.5 114.2 L1029.5 111.2 L1041.5 109.0 L1052.0 110.5 L1059.5 112.8 L1049.0 115.0 L1037.0 115.0 L1025.0 115.8Z M1061.0 112.0 L1071.5 111.2 L1067.0 113.5Z M1174.0 115.0 L1181.5 111.7 L1192.0 110.8 L1201.0 112.8 L1210.0 116.5 L1210.0 119.5 L1204.0 121.0 L1195.0 119.5 L1187.5 118.8 L1180.0 118.0Z M1208.5 123.7 L1216.0 119.5 L1225.0 119.2 L1231.8 121.8 L1225.0 123.7 L1216.0 124.0Z M1357.5 134.0 L1363.5 131.8 L1371.0 132.5 L1377.0 134.0 L1380.0 132.5 L1386.0 132.5 L1390.5 134.0 L1386.0 135.8 L1380.0 136.2 L1372.5 135.5 L1365.0 137.0 L1359.0 135.8Z M1395.0 134.0 L1404.0 134.0 L1413.0 135.2 L1407.0 137.0 L1398.0 136.2Z M1371.0 140.0 L1378.5 140.0 L1383.8 141.8 L1377.0 143.0 L1371.8 141.8Z M1524.8 150.8 L1533.0 149.3 L1533.0 152.3 L1527.0 152.3Z M85.0 149.0 L101.2 150.0 L102.0 151.5 L85.0 153.0Z M85.0 158.8 L92.5 160.0 L100.0 162.5 L108.8 165.5 L115.0 167.5 L127.5 170.0 L132.5 171.8 L121.2 178.0 L115.0 176.2 L105.0 175.0 L97.5 172.5 L92.5 175.0 L85.0 185.0Z M1380.0 218.8 L1381.5 224.0 L1383.0 230.0 L1385.3 236.0 L1388.3 240.0 L1384.3 240.3 L1382.0 244.8 L1383.5 250.0 L1380.5 248.5 L1377.5 251.5 L1378.3 244.0 L1377.5 236.5 L1377.0 229.0 L1378.5 221.8Z M1377.5 254.5 L1382.0 256.8 L1386.5 259.8 L1391.8 261.2 L1390.2 263.5 L1385.0 265.0 L1382.0 268.0 L1377.5 267.2 L1374.5 271.0 L1371.5 269.5 L1370.0 265.8 L1373.0 263.5 L1375.2 259.8Z M1373.0 272.5 L1377.5 274.8 L1378.2 279.2 L1375.2 284.5 L1374.5 289.0 L1371.5 293.5 L1368.5 295.8 L1364.0 295.0 L1358.0 297.2 L1353.5 301.8 L1349.8 299.5 L1346.0 301.8 L1341.5 303.2 L1338.5 301.0 L1334.0 301.0 L1331.8 299.5 L1334.0 297.2 L1340.0 295.0 L1346.0 293.5 L1352.0 293.5 L1355.0 289.8 L1359.5 287.5 L1364.0 284.5 L1368.5 280.0 L1370.0 274.8Z M1328.0 301.8 L1332.5 301.8 L1336.2 304.0 L1335.5 308.5 L1333.2 311.5 L1330.2 309.2 L1328.8 305.5Z M1340.0 300.2 L1346.0 298.8 L1348.2 300.2 L1343.8 303.2 L1340.0 302.5Z M1292.8 335.2 L1296.5 334.3 L1297.2 338.5 L1295.0 344.5 L1292.8 347.5 L1290.8 342.2Z M1246.0 356.0 L1250.5 354.8 L1253.8 357.2 L1251.2 361.2 L1246.8 362.0 L1244.5 359.3Z M1130.8 398.0 L1134.5 397.2 L1137.5 402.5 L1138.2 407.8 L1134.5 411.2 L1130.8 409.2 L1129.2 404.0Z M1023.8 385.2 L1027.5 384.3 L1028.7 385.5 L1025.2 386.7Z M1190.5 412.8 L1196.5 413.5 L1202.5 418.0 L1208.5 423.2 L1214.5 428.5 L1220.5 433.0 L1225.0 437.5 L1229.5 442.0 L1232.5 446.5 L1233.2 452.5 L1233.2 457.8 L1228.0 457.8 L1223.5 454.0 L1219.0 449.5 L1213.8 443.5 L1209.2 437.5 L1204.8 431.5 L1200.2 425.5 L1195.8 419.5 L1192.0 415.8Z M1246.8 428.5 L1252.0 426.2 L1258.0 424.0 L1264.0 419.5 L1270.0 415.0 L1276.0 410.5 L1279.8 408.2 L1283.5 412.0 L1285.8 415.0 L1282.0 417.2 L1280.5 421.0 L1282.8 427.0 L1285.0 430.8 L1282.0 432.2 L1279.0 437.5 L1276.8 442.8 L1274.5 449.5 L1270.0 451.0 L1264.0 448.8 L1258.0 448.0 L1252.0 446.5 L1249.8 442.0 L1248.2 436.0 L1246.0 433.0Z M1232.5 459.2 L1240.0 460.0 L1247.5 462.2 L1255.0 461.5 L1261.0 463.0 L1267.0 466.0 L1267.0 469.0 L1261.0 468.2 L1253.5 467.5 L1246.0 466.0 L1240.0 465.2 L1234.0 463.0Z M1268.5 468.2 L1276.0 469.0 L1285.0 469.3 L1294.0 468.7 L1303.0 468.2 L1310.5 467.8 L1310.5 469.3 L1303.0 470.2 L1294.0 470.5 L1285.0 470.8 L1276.0 470.5 L1268.5 469.8Z M1286.5 472.8 L1291.8 474.2 L1291.0 475.8 L1287.2 474.7Z M1301.5 478.0 L1307.5 474.2 L1313.5 470.5 L1318.0 468.2 L1317.2 470.2 L1312.0 473.5 L1307.5 476.5 L1303.0 478.8Z M1289.5 432.2 L1294.0 430.8 L1300.0 430.8 L1306.0 430.0 L1310.5 428.5 L1309.8 431.5 L1306.0 433.8 L1300.0 433.8 L1294.0 433.8 L1291.8 436.8 L1295.5 439.0 L1301.5 438.2 L1303.8 439.8 L1300.0 442.0 L1295.5 442.8 L1298.5 446.5 L1301.5 451.0 L1300.8 454.8 L1297.8 452.5 L1294.8 448.0 L1292.5 445.0 L1291.0 449.5 L1291.8 454.0 L1291.0 457.8 L1288.0 457.8 L1288.0 452.5 L1285.8 448.0 L1287.2 442.8 L1288.8 437.5Z M1320.2 427.8 L1324.0 425.5 L1323.2 430.8 L1324.8 435.2 L1321.8 437.5 L1320.2 433.0Z M1321.0 448.0 L1327.0 446.8 L1333.0 448.0 L1330.0 450.2 L1324.0 450.2Z M1313.5 448.0 L1316.5 447.7 L1316.8 449.8 L1313.8 449.8Z M1240.0 445.8 L1242.2 445.0 L1243.0 447.7 L1240.8 448.3Z M1346.2 457.8 L1348.8 458.5 L1348.3 461.8 L1346.2 461.2Z M1334.5 438.2 L1339.0 436.8 L1345.0 437.5 L1346.5 441.2 L1343.5 445.0 L1345.0 450.2 L1348.8 446.5 L1352.5 445.0 L1357.0 442.8 L1361.5 441.2 L1367.5 442.8 L1374.2 445.0 L1381.0 447.2 L1387.0 450.2 L1393.0 454.3 L1397.5 457.8 L1400.5 461.5 L1399.3 464.8 L1403.5 469.0 L1408.0 472.0 L1412.5 474.2 L1414.8 477.2 L1409.5 476.5 L1403.5 474.2 L1399.0 472.0 L1394.5 469.8 L1390.0 467.5 L1385.5 466.0 L1381.0 469.3 L1378.0 472.0 L1374.2 471.7 L1370.5 466.8 L1366.8 464.5 L1364.8 468.2 L1360.8 468.2 L1362.7 464.8 L1364.8 461.5 L1361.5 458.5 L1357.0 455.5 L1354.0 451.8 L1349.5 449.5 L1345.8 451.8 L1342.0 448.8 L1339.0 443.5 L1336.0 441.2Z M1402.0 457.8 L1408.0 456.7 L1414.0 455.2 L1419.2 452.8 L1421.5 454.0 L1420.0 455.8 L1415.5 457.8 L1409.5 459.2 L1404.2 459.2Z M1292.5 362.8 L1297.8 361.2 L1300.0 365.0 L1298.5 369.5 L1296.2 373.2 L1297.8 377.0 L1300.0 379.2 L1306.0 381.5 L1309.8 386.0 L1307.5 386.8 L1303.0 383.8 L1297.8 382.2 L1294.0 386.0 L1291.8 380.0 L1291.0 374.0 L1289.5 370.2 L1291.8 366.5Z M1298.5 389.0 L1303.0 390.5 L1301.5 395.0 L1297.8 393.5Z M1304.5 387.5 L1310.5 389.0 L1315.0 395.0 L1312.8 398.0 L1309.0 393.5 L1305.2 391.2Z M1301.5 395.0 L1306.0 394.2 L1308.2 398.0 L1305.2 400.2 L1302.2 398.8Z M1278.2 401.8 L1281.2 398.0 L1285.0 393.5 L1288.8 388.2 L1291.0 386.0 L1290.2 389.8 L1286.5 395.0 L1282.8 400.2 L1279.8 403.2Z M1300.0 401.8 L1306.0 401.0 L1310.5 398.0 L1315.0 399.5 L1316.5 405.5 L1313.5 408.5 L1312.0 413.0 L1308.2 410.0 L1306.0 405.5 L1301.5 406.2 L1297.8 407.0 L1299.2 404.0Z M1265.5 527.5 L1267.0 523.0 L1273.0 519.2 L1279.0 517.0 L1285.0 515.5 L1291.0 514.0 L1297.0 510.2 L1300.0 505.0 L1304.5 500.5 L1309.0 496.0 L1312.0 493.0 L1316.5 490.0 L1321.0 491.5 L1322.5 495.2 L1327.8 494.5 L1330.0 490.0 L1331.5 484.0 L1334.5 481.0 L1340.5 480.2 L1345.0 481.8 L1351.0 483.2 L1355.5 481.0 L1357.0 484.0 L1354.8 490.0 L1352.5 493.8 L1356.2 496.0 L1361.5 499.0 L1366.0 502.0 L1369.0 505.0 L1373.5 504.2 L1375.8 499.0 L1376.5 493.0 L1377.2 487.0 L1378.0 481.8 L1379.2 476.5 L1381.8 482.5 L1384.8 488.5 L1388.5 493.0 L1391.5 497.5 L1393.8 503.5 L1396.0 509.5 L1399.0 514.0 L1403.5 518.5 L1408.0 524.5 L1414.0 529.0 L1415.0 528.2 L1419.5 532.0 L1422.5 535.0 L1423.2 541.0 L1424.0 547.0 L1423.2 553.0 L1421.0 559.0 L1418.0 565.0 L1415.0 571.0 L1412.0 577.0 L1409.8 582.2 L1406.0 586.0 L1400.0 589.0 L1394.0 589.8 L1389.5 587.5 L1386.5 589.8 L1380.5 589.0 L1374.5 586.0 L1370.0 583.0 L1367.0 578.5 L1364.0 577.0 L1360.2 576.2 L1361.8 571.8 L1360.2 567.2 L1358.0 571.0 L1355.0 574.0 L1352.0 573.2 L1349.0 569.5 L1346.0 565.0 L1341.5 562.0 L1334.0 561.2 L1325.0 562.0 L1316.0 564.2 L1308.5 566.5 L1302.5 569.5 L1295.0 571.0 L1287.5 573.2 L1280.0 575.5 L1274.0 574.0 L1270.2 571.0 L1272.5 568.0 L1273.2 563.5 L1272.5 557.5 L1269.5 551.5 L1266.5 545.5 L1262.8 539.5 L1263.5 535.0 L1265.0 529.0Z M1388.8 597.2 L1394.0 598.0 L1400.0 597.2 L1403.8 595.0 L1403.0 601.0 L1400.8 606.2 L1396.2 609.2 L1391.8 605.5 L1389.5 601.0Z M1501.3 573.3 L1506.7 577.3 L1510.7 582.7 L1513.3 586.7 L1518.7 585.3 L1524.0 586.1 L1521.3 592.0 L1516.0 597.3 L1512.0 601.3 L1508.0 598.7 L1505.3 593.3 L1509.3 589.3 L1506.7 584.0 L1503.2 578.7Z M1498.7 597.3 L1504.0 600.0 L1506.7 604.0 L1501.3 609.3 L1496.0 613.3 L1490.7 617.3 L1484.0 621.3 L1477.3 621.3 L1476.0 617.3 L1481.3 613.3 L1488.0 608.0 L1493.3 602.7Z M1464.8 514.7 L1468.0 516.0 L1473.3 520.0 L1477.3 524.0 L1474.7 524.8 L1469.3 521.3 L1465.3 517.3Z M301.2 231.2 L310.0 234.5 L320.0 241.2 L318.8 245.0 L310.0 241.2 L302.5 236.2Z M270.0 202.5 L277.5 207.5 L287.5 220.0 L283.8 221.2 L276.2 212.5 L268.8 206.2Z M279.5 219.5 L285.0 222.5 L287.5 228.0 L282.5 225.0Z M197.5 204.5 L203.8 202.5 L205.5 206.2 L200.0 208.8Z M122.5 181.2 L130.0 180.5 L136.2 182.0 L130.0 183.2 L123.8 183.0Z" fill="#fffeea" stroke="none"/>
<g clip-path="url(#land)">
<path d="M964.5 364.8 L960.0 366.8 L957.8 370.5 L956.2 378.0 L954.8 384.0 L951.8 390.0 L947.2 396.8 L915.0 405.0 L885.0 465.0 L880.0 485.0 L901.0 503.0 L911.8 505.7 L911.8 505.7 L915.5 510.5 L919.2 515.0 L923.0 519.5 L927.5 521.8 L932.0 524.0 L935.0 526.2 L937.2 530.0 L938.8 534.5 L940.2 539.0 L942.2 542.0 L1025.0 560.0 L1070.0 470.0 L1070.0 365.0 L995.0 365.0 L984.0 384.0 L972.0 370.5Z" fill="#ffff7a" stroke="none"/>
<path d="M760.0 324.8 L775.8 324.8 L776.5 327.8 L790.0 336.0 L805.0 345.0 L820.0 354.0 L823.8 359.2 L833.5 357.0 L841.0 352.5 L850.0 346.5 L857.5 343.5 L865.0 345.8 L873.2 351.8 L880.5 345.0 L906.0 356.7 L906.0 372.8 L902.2 375.0 L899.2 382.5 L902.2 389.2 L905.2 396.0 L905.2 400.5 L910.5 394.5 L919.5 396.8 L927.8 396.0 L934.5 393.0 L940.5 391.5 L942.8 387.0 L944.2 393.0 L947.2 396.8 L947.2 396.8 L951.8 390.0 L954.8 384.0 L956.2 378.0 L957.8 370.5 L960.0 366.8 L964.5 364.8 L975.0 360.0 L975.0 285.0 L690.0 270.0 L690.0 345.0Z" fill="#ffff7a" stroke="none"/>
<path d="M980.0 479.0 L1017.5 479.0 L1017.5 540.5 L980.0 540.5Z" fill="#ffff7a" stroke="none"/>
<path d="M935.0 155.0 L929.6 158.4 L925.6 161.1 L927.8 164.2 L928.7 167.8 L930.4 172.2 L931.3 175.8 L933.6 179.3 L935.8 183.8 L932.2 187.3 L927.8 190.0 L924.2 192.7 L922.4 194.0 L922.9 196.7 L922.4 199.8 L920.7 203.3 L921.6 206.9 L922.9 210.4 L920.7 214.0 L917.6 216.7 L913.6 218.4 L910.0 219.8 L906.4 218.4 L903.8 216.7 L900.2 216.2 L897.1 215.3 L894.0 214.0 L885.0 215.0 L875.0 216.0 L869.0 219.0 L868.5 220.5 L869.5 224.0 L870.0 228.0 L868.5 231.0 L864.0 233.0 L860.0 235.0 L863.0 238.0 L868.0 240.0 L873.0 241.0 L878.0 242.5 L876.0 246.0 L880.0 249.0 L886.0 250.5 L891.0 252.0 L896.0 254.0 L900.0 256.0 L902.0 260.0 L902.5 265.0 L901.5 269.0 L903.3 268.8 L908.5 270.0 L913.8 269.2 L917.2 270.2 L914.0 275.0 L913.0 292.0 L925.0 310.0 L760.0 310.0 L740.0 150.0 L800.0 130.0 L935.0 135.0Z" fill="#ffff7a" stroke="none"/>
<path d="M700.0 160.0 L770.0 160.0 L770.0 195.0 L700.0 195.0Z" fill="#ffff7a" stroke="none"/>
<path d="M840.0 100.0 L921.0 100.0 L921.0 135.0 L840.0 135.0Z" fill="#ffff7a" stroke="none"/>
<path d="M1007.0 249.5 L1006.5 248.5 L1004.0 245.5 L999.5 243.5 L997.5 240.0 L997.5 237.0 L1000.0 235.0 L1004.5 234.2 L1010.5 230.5 L1016.5 229.0 L1022.5 229.8 L1030.0 232.8 L1037.5 231.2 L1045.0 232.0 L1051.0 231.2 L1055.5 229.8 L1051.8 227.5 L1054.0 220.8 L1060.0 219.2 L1069.0 217.8 L1078.0 215.8 L1086.2 214.0 L1093.8 214.8 L1096.0 218.5 L1103.5 220.8 L1111.0 219.2 L1117.0 218.5 L1118.5 222.2 L1124.5 226.0 L1129.0 229.8 L1132.0 232.0 L1139.5 231.2 L1147.0 233.5 L1151.5 236.5 L1157.5 238.0 L1153.0 241.8 L1152.2 247.0 L1147.8 249.2 L1142.5 250.0 L1141.0 253.8 L1135.0 256.0 L1130.5 256.8 L1132.0 263.5 L1127.5 268.0 L1121.5 271.8 L1115.5 273.2 L1112.5 275.5 L1111.0 280.0 L1110.2 285.2 L1105.0 286.8 L1099.0 288.2 L1096.0 287.5 L1090.0 288.2 L1084.0 287.5 L1078.0 286.8 L1072.0 287.5 L1067.5 290.5 L1063.0 293.5 L1060.0 294.2 L1056.2 293.5 L1054.0 289.0 L1048.0 286.0 L1042.0 283.8 L1036.0 283.0 L1030.0 285.2 L1026.7 286.0 L1020.0 285.0 L1015.0 260.0Z" fill="#ffff7a" stroke="none"/>
<path d="M339.0 304.2 L344.2 305.0 L352.5 304.7 L360.0 307.2 L369.0 309.5 L378.0 310.2 L381.0 308.3 L387.0 308.8 L391.5 312.5 L396.0 317.0 L400.5 319.2 L403.5 317.0 L407.2 317.0 L411.8 321.5 L415.5 326.8 L420.0 330.5 L422.2 332.8 L426.0 332.8 L435.0 335.0 L465.0 335.0 L480.0 341.0 L517.5 350.0 L555.0 356.0 L570.0 380.0 L570.0 393.5 L566.2 395.0 L564.0 392.0 L555.0 374.0 L525.0 371.0 L507.0 392.0 L502.5 401.3 L502.8 404.0 L495.0 410.0 L465.0 404.0 L435.0 380.0 L375.0 365.0 L345.0 335.0 L336.0 312.5Z" fill="#e8d600" stroke="none"/>
<path d="M880.5 345.0 L906.0 356.7 L906.0 372.8 L902.2 375.0 L899.2 382.5 L902.2 389.2 L905.2 396.0 L905.2 400.5 L910.5 394.5 L919.5 396.8 L927.8 396.0 L934.5 393.0 L940.5 391.5 L942.8 387.0 L944.2 393.0 L947.2 396.8 L946.5 400.5 L943.5 403.5 L948.0 408.0 L951.0 412.5 L954.0 416.2 L948.0 417.8 L942.0 420.0 L936.0 420.8 L934.5 424.5 L933.8 428.2 L930.8 433.5 L929.2 439.5 L927.8 445.5 L927.0 451.5 L929.2 457.5 L926.8 449.0 L927.2 455.0 L928.0 462.5 L929.5 468.5 L926.8 470.0 L925.0 476.0 L925.8 482.0 L929.5 483.5 L929.8 487.7 L925.0 485.0 L920.5 483.5 L916.0 482.0 L910.0 480.2 L907.8 480.5 L907.8 487.2 L899.5 488.0 L899.5 494.0 L900.2 500.0 L902.5 506.0 L899.5 506.8 L892.0 506.3 L883.0 505.7 L874.0 504.8 L865.0 504.5 L858.2 503.8 L835.0 504.5 L820.0 455.0 L835.0 417.5 L845.5 416.0 L846.2 413.8 L848.5 410.0 L853.0 407.8 L857.5 407.0 L861.2 404.0 L862.8 398.0 L865.8 392.0 L862.0 400.5 L865.0 394.5 L868.0 388.5 L866.5 382.5 L865.8 378.0 L869.5 372.0 L873.2 363.0 L873.2 351.8Z" fill="#e8d600" stroke="none"/>
<path d="M935.0 155.0 L929.6 158.4 L925.6 161.1 L927.8 164.2 L928.7 167.8 L930.4 172.2 L931.3 175.8 L933.6 179.3 L935.8 183.8 L932.2 187.3 L927.8 190.0 L924.2 192.7 L922.4 194.0 L922.9 196.7 L922.4 199.8 L920.7 203.3 L921.6 206.9 L922.9 210.4 L920.7 214.0 L917.6 216.7 L913.6 218.4 L910.0 219.8 L906.4 218.4 L903.8 216.7 L900.2 216.2 L897.1 215.3 L894.0 214.0 L885.0 215.0 L875.0 216.0 L869.0 219.0 L868.5 220.5 L869.5 224.0 L870.0 228.0 L868.5 231.0 L864.0 233.0 L860.0 235.0 L863.0 238.0 L868.0 240.0 L873.0 241.0 L878.0 242.5 L876.0 246.0 L880.0 249.0 L886.0 250.5 L891.0 252.0 L896.0 254.0 L900.0 256.0 L902.0 260.0 L902.5 265.0 L901.5 269.0 L903.3 268.8 L908.5 270.0 L913.8 269.2 L917.2 270.2 L914.0 275.0 L913.0 290.0 L918.0 298.0 L935.0 301.0 L948.0 304.0 L949.3 310.7 L952.0 317.5 L953.5 323.5 L957.0 335.0 L970.0 360.0 L984.0 386.0 L1000.0 392.0 L1060.0 380.0 L1062.0 342.0 L1048.0 337.0 L1036.0 329.8 L1025.0 332.0 L1017.0 329.0 L1011.0 322.0 L1007.5 316.5 L1005.5 314.5 L1003.0 311.0 L1001.0 308.0 L998.0 305.0 L995.0 302.0 L993.5 299.0 L995.0 296.0 L995.5 292.5 L992.0 290.0 L989.0 286.0 L987.5 282.0 L988.0 278.5 L990.0 277.0 L994.0 279.5 L997.0 279.5 L1000.0 278.5 L1003.5 277.5 L1005.5 280.0 L1007.0 282.5 L1015.0 285.0 L1012.0 260.0 L1007.0 249.5 L1006.5 248.5 L1004.0 245.5 L999.5 243.5 L997.5 240.0 L997.5 237.0 L1000.0 235.0 L1004.5 234.2 L1010.5 230.5 L1016.5 229.0 L1022.5 229.8 L1030.0 232.8 L1037.5 231.2 L1045.0 232.0 L1051.0 231.2 L1055.5 229.8 L1051.8 227.5 L1054.0 220.8 L1060.0 219.2 L1069.0 217.8 L1078.0 215.8 L1086.2 214.0 L1093.8 214.8 L1096.0 218.5 L1103.5 220.8 L1111.0 219.2 L1117.0 218.5 L1118.5 222.2 L1124.5 226.0 L1129.0 229.8 L1132.0 232.0 L1139.5 231.2 L1147.0 233.5 L1151.5 236.5 L1157.5 238.0 L1157.5 238.0 L1162.0 237.3 L1168.0 235.0 L1174.0 233.5 L1180.0 232.8 L1187.5 234.3 L1195.0 235.8 L1201.0 235.0 L1202.5 230.5 L1207.0 228.3 L1213.0 229.0 L1219.0 233.5 L1225.0 235.0 L1232.5 234.3 L1240.0 235.0 L1250.0 238.8 L1256.0 236.5 L1263.5 234.3 L1269.5 235.0 L1275.5 234.3 L1283.0 235.0 L1287.5 232.8 L1289.8 228.3 L1292.0 224.5 L1298.0 222.3 L1305.5 221.5 L1311.5 223.0 L1316.0 227.5 L1319.0 232.0 L1323.5 236.5 L1328.0 240.3 L1334.0 244.0 L1340.0 244.8 L1346.0 242.5 L1348.3 244.0 L1346.0 248.5 L1343.0 252.3 L1338.5 255.3 L1335.5 256.8 L1334.8 262.8 L1336.0 268.0 L1352.0 268.0 L1370.0 253.0 L1400.0 253.0 L1620.0 253.0 L1620.0 80.0 L945.0 80.0 L945.0 150.0Z" fill="#e8d600" stroke="none"/>
<path d="M80.0 140.0 L140.0 140.0 L140.0 185.0 L80.0 185.0Z" fill="#e8d600" stroke="none"/>
<path d="M1180.2 349.2 L1182.5 345.5 L1184.8 339.5 L1188.5 335.0 L1192.2 330.5 L1197.5 326.0 L1201.2 322.2 L1205.0 326.0 L1206.5 332.0 L1204.2 337.2 L1208.0 341.8 L1211.8 345.5 L1214.0 347.8 L1220.0 345.8 L1226.0 344.8 L1230.5 342.5 L1236.5 343.2 L1239.5 347.8 L1241.8 350.8 L1240.8 353.8 L1241.8 363.5 L1255.0 369.5 L1282.0 369.5 L1294.0 353.8 L1330.0 353.8 L1374.3 440.0 L1374.3 472.0 L1340.0 474.0 L1320.0 481.0 L1290.0 486.0 L1190.0 470.0 L1180.0 440.0 L1170.0 400.0 L1172.0 360.0Z" fill="#e8d600" stroke="none"/>
<path d="M739.0 354.0 L740.5 345.0 L752.5 330.0 L760.0 324.8 L775.8 324.8 L776.5 330.8 L763.8 331.5 L762.2 337.5 L759.2 338.7 L758.5 349.5 L743.5 351.0Z" fill="#d0d0d0" stroke="none"/>
<path d="M533.0 505.4 L535.0 508.0 L537.2 514.0 L539.5 520.0 L541.0 526.0 L546.2 522.2 L553.0 523.8 L554.5 526.0 L559.0 522.2 L562.0 520.8 L563.5 515.5 L566.5 513.2 L572.5 512.2 L577.8 513.2 L580.0 517.8 L581.5 522.2 L586.8 523.8 L589.8 526.8 L590.5 530.5 L594.2 531.2 L593.5 535.8 L596.5 538.8 L595.8 543.2 L592.8 547.8 L588.2 551.5 L584.5 554.5 L581.5 556.0 L586.0 558.2 L590.5 560.5 L595.0 562.0 L598.0 565.0 L598.0 568.0 L595.0 571.0" fill="none" stroke="#000" stroke-width="0.9" stroke-linejoin="round"/>
<path d="M911.8 505.7 L915.5 510.5 L919.2 515.0 L923.0 519.5 L927.5 521.8 L932.0 524.0 L935.0 526.2 L937.2 530.0 L938.8 534.5 L940.2 539.0 L942.2 542.0" fill="none" stroke="#000" stroke-width="0.9" stroke-linejoin="round"/>
<path d="M776.5 327.8 L790.0 336.0 L805.0 345.0 L820.0 354.0 L823.8 359.2 L833.5 357.0 L841.0 352.5 L850.0 346.5 L857.5 343.5 L865.0 345.8 L873.2 351.8" fill="none" stroke="#000" stroke-width="0.9" stroke-linejoin="round"/>
<path d="M947.2 396.8 L951.8 390.0 L954.8 384.0 L956.2 378.0 L957.8 370.5 L960.0 366.8 L964.5 364.8" fill="none" stroke="#000" stroke-width="0.9" stroke-linejoin="round"/>
<path d="M880.5 345.0 L906.0 356.7 L906.0 372.8 L902.2 375.0 L899.2 382.5 L902.2 389.2 L905.2 396.0 L905.2 400.5 L910.5 394.5 L919.5 396.8 L927.8 396.0 L934.5 393.0 L940.5 391.5 L942.8 387.0 L944.2 393.0 L947.2 396.8 L946.5 400.5 L943.5 403.5 L948.0 408.0 L951.0 412.5 L954.0 416.2 L948.0 417.8 L942.0 420.0 L936.0 420.8 L934.5 424.5 L933.8 428.2 L930.8 433.5 L929.2 439.5 L927.8 445.5 L927.0 451.5 L929.2 457.5" fill="none" stroke="#000" stroke-width="0.9" stroke-linejoin="round"/>
<path d="M926.8 449.0 L927.2 455.0 L928.0 462.5 L929.5 468.5 L926.8 470.0 L925.0 476.0 L925.8 482.0 L929.5 483.5 L929.8 487.7 L925.0 485.0 L920.5 483.5 L916.0 482.0 L910.0 480.2 L907.8 480.5 L907.8 487.2 L899.5 488.0 L899.5 494.0 L900.2 500.0 L902.5 506.0" fill="none" stroke="#000" stroke-width="0.9" stroke-linejoin="round"/>
<path d="M899.5 506.8 L892.0 506.3 L883.0 505.7 L874.0 504.8 L865.0 504.5 L858.2 503.8" fill="none" stroke="#000" stroke-width="0.9" stroke-linejoin="round"/>
<path d="M873.2 351.8 L873.2 363.0 L869.5 372.0 L865.8 378.0 L866.5 382.5 L868.0 388.5 L865.0 394.5 L862.0 400.5 L865.8 392.0 L862.8 398.0 L861.2 404.0 L857.5 407.0 L853.0 407.8 L848.5 410.0 L846.2 413.8 L845.5 416.0" fill="none" stroke="#000" stroke-width="0.9" stroke-linejoin="round"/>
<path d="M760.0 324.8 L775.8 324.8 L776.5 330.8 L763.8 331.5 L762.2 337.5 L759.2 338.7 L758.5 349.5 L743.5 351.0" fill="none" stroke="#000" stroke-width="0.9" stroke-linejoin="round"/>
<path d="M949.3 310.8 L952.0 317.5" fill="none" stroke="#000" stroke-width="0.9" stroke-linejoin="round"/>
<path d="M935.0 155.0 L929.6 158.4 L925.6 161.1 L927.8 164.2 L928.7 167.8 L930.4 172.2 L931.3 175.8 L933.6 179.3 L935.8 183.8 L932.2 187.3 L927.8 190.0 L924.2 192.7 L922.4 194.0 L922.9 196.7 L922.4 199.8 L920.7 203.3 L921.6 206.9 L922.9 210.4 L920.7 214.0 L917.6 216.7 L913.6 218.4 L910.0 219.8 L906.4 218.4 L903.8 216.7 L900.2 216.2 L897.1 215.3" fill="none" stroke="#000" stroke-width="0.9" stroke-linejoin="round"/>
<path d="M868.5 220.5 L869.5 224.0 L870.0 228.0 L868.5 231.0 L864.0 233.0 L860.0 235.0 L863.0 238.0 L868.0 240.0 L873.0 241.0 L878.0 242.5 L876.0 246.0 L880.0 249.0 L886.0 250.5 L891.0 252.0 L896.0 254.0 L900.0 256.0 L902.0 260.0 L902.5 265.0 L901.5 269.0 L903.3 268.8 L908.5 270.0 L913.8 269.2 L917.2 270.2" fill="none" stroke="#000" stroke-width="0.9" stroke-linejoin="round"/>
<path d="M1007.0 282.5 L1005.5 280.0 L1003.5 277.5 L1000.0 278.5 L997.0 279.5 L994.0 279.5 L990.0 277.0 L988.0 278.5 L987.5 282.0 L989.0 286.0 L992.0 290.0 L995.5 292.5 L995.0 296.0 L993.5 299.0 L995.0 302.0 L998.0 305.0 L1001.0 308.0 L1003.0 311.0 L1005.5 314.5" fill="none" stroke="#000" stroke-width="0.9" stroke-linejoin="round"/>
<path d="M1007.0 249.5 L1006.5 248.5 L1004.0 245.5 L999.5 243.5 L997.5 240.0 L997.5 237.0 L1000.0 235.0 L1004.5 234.2 L1010.5 230.5 L1016.5 229.0 L1022.5 229.8 L1030.0 232.8 L1037.5 231.2 L1045.0 232.0 L1051.0 231.2 L1055.5 229.8 L1051.8 227.5 L1054.0 220.8 L1060.0 219.2 L1069.0 217.8 L1078.0 215.8 L1086.2 214.0 L1093.8 214.8 L1096.0 218.5 L1103.5 220.8 L1111.0 219.2 L1117.0 218.5 L1118.5 222.2 L1124.5 226.0 L1129.0 229.8 L1132.0 232.0 L1139.5 231.2 L1147.0 233.5 L1151.5 236.5 L1157.5 238.0" fill="none" stroke="#000" stroke-width="0.9" stroke-linejoin="round"/>
<path d="M1157.5 238.0 L1162.0 237.3 L1168.0 235.0 L1174.0 233.5 L1180.0 232.8 L1187.5 234.3 L1195.0 235.8 L1201.0 235.0 L1202.5 230.5 L1207.0 228.3 L1213.0 229.0 L1219.0 233.5 L1225.0 235.0 L1232.5 234.3 L1240.0 235.0 L1250.0 238.8 L1256.0 236.5 L1263.5 234.3 L1269.5 235.0 L1275.5 234.3 L1283.0 235.0 L1287.5 232.8 L1289.8 228.3 L1292.0 224.5 L1298.0 222.3 L1305.5 221.5 L1311.5 223.0 L1316.0 227.5 L1319.0 232.0 L1323.5 236.5 L1328.0 240.3 L1334.0 244.0 L1340.0 244.8 L1346.0 242.5 L1348.3 244.0 L1346.0 248.5 L1343.0 252.3 L1338.5 255.3 L1335.5 256.8 L1334.8 262.8" fill="none" stroke="#000" stroke-width="0.9" stroke-linejoin="round"/>
<path d="M1157.5 238.0 L1153.0 241.8 L1152.2 247.0 L1147.8 249.2 L1142.5 250.0 L1141.0 253.8 L1135.0 256.0 L1130.5 256.8 L1132.0 263.5 L1127.5 268.0 L1121.5 271.8 L1115.5 273.2 L1112.5 275.5 L1111.0 280.0 L1110.2 285.2" fill="none" stroke="#000" stroke-width="0.9" stroke-linejoin="round"/>
<path d="M1110.2 285.2 L1105.0 286.8 L1099.0 288.2 L1096.0 287.5 L1090.0 288.2 L1084.0 287.5 L1078.0 286.8 L1072.0 287.5 L1067.5 290.5 L1063.0 293.5 L1060.0 294.2 L1056.2 293.5 L1054.0 289.0 L1048.0 286.0 L1042.0 283.8 L1036.0 283.0 L1030.0 285.2 L1026.7 286.0" fill="none" stroke="#000" stroke-width="0.9" stroke-linejoin="round"/>
<path d="M1110.2 285.2 L1114.0 289.8 L1118.5 293.5 L1123.0 295.0 L1126.0 299.5 L1128.2 304.0 L1125.2 307.8 L1127.5 311.5 L1133.5 314.5 L1141.0 317.5 L1150.0 322.0 L1149.5 320.8 L1157.0 322.2 L1166.0 325.2 L1172.0 323.0 L1179.5 322.2 L1187.0 320.8 L1194.5 320.0 L1201.2 322.2" fill="none" stroke="#000" stroke-width="0.9" stroke-linejoin="round"/>
<path d="M1201.2 322.2 L1197.5 326.0 L1192.2 330.5 L1188.5 335.0 L1184.8 339.5 L1182.5 345.5 L1180.2 349.2" fill="none" stroke="#000" stroke-width="0.9" stroke-linejoin="round"/>
<path d="M1201.2 322.2 L1205.0 326.0 L1206.5 332.0 L1204.2 337.2 L1208.0 341.8 L1211.8 345.5 L1214.0 347.8 L1220.0 345.8 L1226.0 344.8 L1230.5 342.5 L1236.5 343.2 L1239.5 347.8 L1241.8 350.8" fill="none" stroke="#000" stroke-width="0.9" stroke-linejoin="round"/>
<path d="M970.0 261.5 L976.0 262.5 L982.0 263.5 L988.0 264.5 L993.0 266.0 L997.0 268.5 L1001.0 270.0 L1004.5 268.8" fill="none" stroke="#000" stroke-width="0.9" stroke-linejoin="round"/>
<path d="M913.8 269.2 L918.0 267.0 L922.0 267.3" fill="none" stroke="#000" stroke-width="0.9" stroke-linejoin="round"/>
<path d="M1374.3 440.0 L1374.3 476.0" fill="none" stroke="#000" stroke-width="0.9" stroke-linejoin="round"/>
<path d="M344.2 305.0 L352.5 304.7 L360.0 307.2 L369.0 309.5 L378.0 310.2 L381.0 308.3 L387.0 308.8 L391.5 312.5 L396.0 317.0 L400.5 319.2 L403.5 317.0 L407.2 317.0 L411.8 321.5 L415.5 326.8 L420.0 330.5 L422.2 332.8" fill="none" stroke="#000" stroke-width="0.9" stroke-linejoin="round"/>
<path d="M502.5 401.3 L502.8 404.0" fill="none" stroke="#000" stroke-width="0.9" stroke-linejoin="round"/>
</g>
<path d="M153.0 216.8 L165.0 209.5 L175.0 203.8 L184.5 200.5 L177.5 198.8 L165.0 200.5 L163.0 195.0 L150.0 193.0 L148.0 187.5 L155.5 183.8 L165.0 182.0 L169.5 178.0 L161.2 176.2 L150.0 174.5 L141.2 173.0 L148.8 170.5 L165.0 169.2 L170.5 170.0 L165.0 165.5 L151.2 163.0 L145.5 160.5 L155.5 158.0 L172.5 153.0 L186.2 150.5 L201.2 152.5 L220.0 154.2 L240.0 155.8 L260.0 158.2 L268.8 160.0 L280.0 158.0 L290.0 156.0 L305.0 155.5 L311.2 158.0 L316.2 156.2 L330.0 158.2 L340.0 160.0 L350.0 163.0 L352.0 164.0 L366.0 163.0 L380.0 167.0 L382.0 169.4 L388.0 163.0 L400.0 160.0 L412.0 161.0 L420.0 164.4 L428.0 166.0 L430.0 162.0 L440.0 160.0 L444.0 156.0 L440.0 152.0 L432.0 154.0 L428.0 150.0 L432.0 148.0 L440.0 149.0 L448.0 156.0 L454.0 159.0 L462.0 159.0 L464.0 165.0 L470.0 164.0 L470.0 158.0 L476.0 157.0 L484.0 158.0 L487.0 163.0 L480.0 168.0 L470.0 170.0 L466.0 173.0 L460.0 174.0 L452.0 172.0 L446.0 173.0 L456.0 176.0 L452.0 180.0 L444.0 182.0 L438.0 186.0 L434.0 192.0 L433.0 199.0 L440.0 204.0 L442.0 208.0 L452.0 209.0 L462.0 211.0 L472.0 214.0 L480.0 215.0 L484.0 222.0 L488.0 228.0 L493.0 231.0 L497.0 228.0 L496.0 220.0 L502.0 214.0 L506.0 208.0 L502.0 202.0 L497.0 199.0 L500.0 194.0 L502.0 188.0 L510.0 186.0 L520.0 184.0 L526.0 188.0 L532.0 192.0 L534.0 200.0 L540.0 202.0 L548.0 199.0 L552.4 194.0 L552.5 194.2 L558.5 200.5 L563.0 206.5 L567.5 212.5 L573.5 217.0 L581.0 217.8 L578.0 220.0 L585.5 222.2 L588.5 226.0 L587.8 229.8 L584.0 229.3 L578.0 231.2 L572.0 233.5 L563.0 235.0 L554.0 234.2 L545.0 235.0 L537.5 238.0 L531.5 242.5 L527.0 247.8 L533.0 244.0 L539.0 241.0 L545.0 238.8 L551.0 238.8 L554.0 241.0 L551.8 244.0 L548.0 243.2 L551.8 247.0 L554.0 250.0 L558.5 251.5 L563.0 250.0 L567.5 249.2 L571.2 247.8 L572.0 250.8 L567.5 253.8 L561.5 256.0 L555.5 258.2 L551.0 260.5 L548.0 261.2 L546.5 258.2 L551.0 256.0 L554.0 253.8 L550.2 253.8 L545.0 255.2 L540.5 257.5 L536.0 259.8 L532.2 263.5 L530.0 266.5 L531.5 269.5 L525.5 270.2 L521.0 271.8 L516.5 273.2 L513.5 277.0 L509.8 278.5 L506.0 280.0 L503.0 283.0 L506.0 287.5 L506.8 292.0 L509.0 293.5 L504.5 295.0 L502.2 298.0 L500.0 300.2 L497.0 301.8 L492.5 304.8 L488.8 308.5 L486.5 312.2 L485.8 316.0 L487.2 320.5 L490.2 325.0 L489.8 326.0 L490.5 332.0 L488.2 335.0 L486.0 332.8 L483.0 328.2 L480.0 323.0 L477.8 317.8 L472.5 314.8 L465.0 313.7 L459.0 314.0 L453.0 314.8 L454.5 317.8 L448.5 316.7 L441.0 316.2 L433.5 317.0 L427.5 320.0 L423.0 323.8 L421.8 329.0 L422.2 332.8 L420.8 338.0 L420.3 344.0 L422.2 350.0 L425.2 356.0 L429.0 360.5 L435.0 362.8 L439.5 360.5 L444.0 356.0 L448.5 353.0 L454.5 351.5 L460.5 350.8 L462.0 354.5 L460.5 360.5 L459.0 366.5 L460.5 372.5 L463.5 377.0 L469.5 380.0 L472.5 383.0 L471.0 387.5 L474.0 392.0 L477.8 395.0 L481.5 397.2 L486.0 398.8 L491.2 397.2 L495.0 396.8 L499.5 398.8 L502.5 401.0 L505.0 398.5 L508.0 394.8 L511.8 391.8 L517.8 389.5 L523.0 386.2 L526.0 385.8 L527.0 389.5 L530.5 390.2 L536.5 392.5 L544.0 394.0 L550.0 394.8 L556.0 394.0 L562.0 393.7 L567.2 394.8 L568.0 399.2 L565.8 400.8 L571.0 402.2 L575.5 405.2 L578.5 409.0 L583.0 411.2 L589.0 412.8 L595.0 413.5 L600.2 415.0 L604.0 418.0 L607.8 421.8 L610.0 426.2 L611.5 430.0 L608.5 433.8 L604.8 437.5 L601.8 441.2 L608.5 440.5 L611.5 436.8 L616.8 437.5 L616.0 440.5 L620.5 439.0 L625.0 439.0 L631.0 442.0 L634.0 446.5 L640.0 444.2 L647.5 445.0 L655.0 448.0 L661.0 451.8 L667.0 455.5 L670.8 457.8 L672.2 463.0 L671.5 469.0 L668.5 475.0 L664.0 480.2 L659.5 485.5 L656.5 488.5 L655.8 494.5 L655.0 500.5 L654.2 505.0 L652.0 512.5 L648.2 520.0 L643.8 525.2 L638.5 526.8 L632.5 529.0 L626.5 532.8 L620.5 536.5 L616.8 540.2 L617.2 545.5 L614.5 550.0 L610.0 554.5 L606.2 559.0 L602.5 563.5 L598.8 567.2 L595.0 571.0 L590.5 572.5 L584.5 573.2 L580.0 571.8 L577.8 568.0 L578.5 565.0 L576.2 568.0 L578.5 571.8 L581.5 576.2 L585.2 580.8 L583.8 585.2 L578.5 589.0 L571.0 590.5 L565.0 590.8 L563.5 592.5 L563.2 597.0 L559.8 599.2 L556.0 600.0 L553.0 602.2 L550.0 604.5 L551.5 609.0 L550.0 612.8 L545.5 615.0 L541.8 618.0 L543.2 622.5 L547.0 624.8 L545.5 628.5 L541.8 631.5 L538.0 634.5 L535.8 639.0 L535.0 642.8 L538.0 645.0 L541.0 648.8 L544.8 651.8 L550.0 653.7 L545.5 654.8 L541.0 657.0 L536.5 656.2 L530.5 654.8 L524.5 651.8 L520.0 648.0 L515.5 644.2 L511.8 639.0 L509.5 633.0 L508.8 627.0 L510.2 621.8 L511.8 615.0 L514.0 608.2 L515.5 601.5 L516.2 595.5 L516.7 589.0 L520.0 574.0 L524.5 560.5 L527.5 547.0 L528.2 539.5 L529.0 532.0 L529.8 524.5 L531.2 517.0 L532.0 511.0 L533.0 505.4 L530.5 507.2 L526.0 505.0 L520.0 500.5 L511.0 494.5 L520.0 500.5 L514.0 496.0 L508.0 491.5 L504.2 485.5 L500.5 479.5 L497.5 473.5 L493.8 466.0 L490.0 461.5 L487.0 457.8 L487.0 452.5 L489.2 448.0 L491.5 445.0 L489.2 444.2 L488.5 439.8 L490.8 434.5 L493.8 430.8 L497.5 427.8 L499.8 422.5 L502.0 418.0 L500.5 412.0 L501.2 406.0 L502.8 402.2 L503.2 402.5 L501.0 404.8 L498.0 401.8 L493.5 400.2 L489.8 401.0 L491.2 404.0 L489.0 405.5 L485.2 403.2 L481.5 401.8 L477.8 399.5 L474.0 395.8 L469.5 392.0 L465.0 389.0 L460.5 386.0 L456.0 383.0 L450.0 380.0 L444.0 376.2 L439.5 373.2 L436.5 371.0 L433.5 370.2 L429.0 372.2 L423.0 372.2 L417.0 370.2 L411.0 367.2 L405.0 364.2 L399.0 361.2 L393.0 358.2 L390.0 354.5 L390.8 349.2 L387.8 344.0 L383.2 339.5 L379.5 335.0 L375.0 331.2 L370.5 326.0 L365.2 321.5 L361.5 316.2 L359.2 311.0 L356.2 307.2 L352.5 308.0 L354.0 310.2 L356.2 314.8 L359.2 319.2 L361.8 323.8 L364.5 328.2 L367.5 332.8 L370.5 337.2 L373.8 341.0 L372.8 343.2 L368.2 339.5 L363.8 335.0 L359.2 329.8 L354.8 326.0 L350.2 323.8 L352.5 320.8 L350.2 317.0 L347.2 311.0 L344.2 305.0 L341.2 302.8 L336.0 299.0 L330.0 297.5 L336.2 302.5 L330.0 297.5 L323.8 288.8 L325.0 285.0 L320.0 282.5 L315.0 275.0 L316.2 270.0 L315.0 260.0 L316.2 250.0 L322.5 246.2 L321.2 241.2 L310.0 235.0 L302.5 232.5 L297.5 227.5 L290.0 221.2 L280.0 215.0 L270.0 205.0 L265.0 200.0 L252.5 196.2 L240.0 195.0 L230.0 193.8 L220.0 195.0 L215.0 191.2 L207.5 192.5 L197.5 200.5 L190.0 206.2 L177.5 211.5 L165.0 215.5Z M521.2 122.5 L532.5 118.8 L547.5 113.8 L565.0 110.0 L577.5 107.5 L597.5 106.2 L615.0 103.8 L640.0 102.5 L665.0 102.0 L690.0 102.0 L710.0 103.0 L725.0 105.0 L740.0 108.0 L755.0 108.8 L762.0 109.5 L747.5 112.5 L737.5 115.0 L740.0 120.0 L730.0 123.8 L737.5 128.8 L727.5 133.8 L730.0 140.0 L722.5 145.0 L725.0 151.2 L715.0 153.8 L705.0 156.2 L697.5 155.0 L705.0 158.8 L695.0 161.2 L685.0 162.5 L675.0 166.2 L665.0 170.0 L655.0 173.8 L647.5 178.8 L642.5 185.0 L640.0 191.2 L636.2 195.0 L630.0 193.8 L620.0 191.2 L615.0 186.2 L610.0 180.0 L605.0 173.8 L600.0 170.0 L597.5 163.8 L600.0 157.5 L595.0 155.0 L592.5 150.0 L587.5 143.8 L582.5 137.5 L575.0 133.8 L565.0 131.2 L552.5 130.0 L540.0 128.8 L527.5 126.2 L520.0 123.8Z M713.8 172.5 L720.0 170.0 L727.5 172.0 L735.0 170.5 L745.0 170.0 L753.8 172.0 L757.0 175.0 L750.0 178.8 L740.0 181.2 L730.0 181.2 L722.5 180.0 L721.2 176.2 L715.0 175.0Z M574.2 241.8 L580.2 235.0 L584.0 229.8 L587.8 230.5 L586.2 235.0 L590.0 238.0 L596.0 238.8 L599.8 241.8 L600.5 247.0 L597.5 248.5 L594.5 245.5 L590.0 247.0 L586.2 247.8 L584.0 244.8 L578.8 245.5 L574.2 244.8Z M473.0 143.0 L482.0 140.8 L491.0 141.5 L503.0 143.8 L515.0 148.2 L527.0 152.8 L539.0 156.5 L545.0 160.2 L557.0 165.5 L566.0 169.2 L563.0 173.8 L555.5 173.0 L549.5 170.0 L543.5 171.5 L552.5 177.5 L554.8 183.5 L551.0 188.0 L545.0 185.0 L539.0 182.0 L530.0 179.0 L524.0 182.0 L519.5 180.5 L515.0 176.0 L507.5 177.5 L500.0 179.0 L498.5 175.2 L504.5 173.0 L512.0 171.5 L518.0 168.5 L521.8 166.2 L515.0 162.5 L507.5 160.2 L500.0 158.0 L494.0 155.0 L485.0 154.2 L476.0 155.0 L470.0 152.0 L468.5 147.5Z M503.0 163.2 L510.5 162.5 L512.8 165.5 L506.0 167.0Z M477.5 184.2 L483.5 183.5 L482.0 187.2 L478.2 186.8Z M491.0 186.2 L494.8 186.5 L493.2 189.2Z M491.8 209.0 L496.2 208.2 L497.0 211.2 L492.5 212.0Z M466.0 173.0 L474.0 171.0 L480.0 174.0 L488.0 179.0 L484.0 183.0 L476.0 181.0 L470.0 183.0 L465.0 179.0Z M336.0 148.0 L346.0 144.0 L356.0 145.0 L368.0 144.0 L380.0 142.0 L388.0 141.0 L394.0 147.0 L400.0 152.0 L408.0 154.0 L404.0 158.0 L394.0 159.0 L380.0 160.0 L366.0 159.0 L354.0 161.0 L350.0 158.0 L342.0 154.0 L340.0 150.0Z M309.0 147.0 L313.0 139.0 L324.0 137.6 L340.0 140.0 L348.0 142.4 L340.0 145.6 L330.0 148.0 L320.0 151.0 L312.0 149.6Z M321.0 131.0 L332.0 127.0 L346.0 126.0 L350.0 130.0 L360.0 129.0 L366.0 133.0 L376.0 130.0 L388.0 133.0 L386.0 136.0 L372.0 137.0 L360.0 138.0 L348.0 135.0 L336.0 134.0 L326.0 133.0Z M354.0 123.0 L368.0 121.0 L374.0 124.0 L366.0 127.0 L356.0 126.0Z M425.0 116.0 L431.0 111.5 L443.0 109.2 L455.0 107.0 L470.0 105.2 L485.0 103.7 L503.0 102.8 L522.5 102.8 L542.0 103.7 L557.0 104.8 L566.0 107.0 L564.5 110.8 L552.5 113.0 L543.5 114.5 L551.0 116.0 L548.0 119.0 L537.5 119.8 L527.0 120.5 L518.0 122.0 L512.0 123.5 L506.0 121.2 L498.5 122.0 L495.5 126.5 L500.0 128.8 L491.0 129.5 L482.0 128.8 L473.0 129.5 L464.0 128.8 L455.0 128.0 L450.5 125.8 L446.0 122.8 L440.0 120.5 L432.5 119.0 L426.5 117.5Z M441.5 131.8 L450.5 129.8 L464.0 130.7 L477.5 131.3 L491.0 131.0 L494.0 134.0 L489.5 137.0 L476.0 137.8 L461.0 137.0 L449.0 136.2 L443.0 134.8Z M452.0 147.5 L455.0 142.2 L462.5 140.0 L470.0 140.8 L466.2 143.8 L465.5 148.2 L470.0 151.2 L464.0 154.2 L456.5 153.5 L452.8 150.5Z M422.8 128.0 L429.5 126.8 L437.0 127.2 L441.5 129.5 L435.5 131.3 L428.0 130.7Z M430.2 140.8 L440.0 139.7 L450.5 139.2 L446.0 143.8 L437.0 146.0 L431.8 144.5Z M401.0 144.5 L407.0 140.8 L416.0 139.7 L423.5 141.5 L425.8 146.0 L422.0 149.8 L414.5 150.5 L407.0 147.5Z M388.2 125.8 L395.0 127.2 L393.5 130.2 L401.0 129.5 L407.0 128.8 L414.5 129.5 L421.2 131.0 L423.5 134.8 L417.5 136.2 L410.0 134.0 L402.5 134.8 L395.0 132.5 L389.0 129.5Z M389.8 119.8 L396.5 118.2 L405.5 119.8 L414.5 122.0 L412.2 125.0 L404.0 124.2 L396.5 123.5Z M419.8 122.0 L425.0 120.5 L431.8 122.8 L431.0 125.3 L423.5 125.0Z M418.2 158.0 L425.0 156.5 L429.5 159.5 L425.0 162.5 L419.0 161.8Z M478.5 344.3 L484.5 342.8 L490.5 343.7 L496.5 346.2 L502.5 349.2 L508.5 352.2 L514.5 353.8 L512.2 355.7 L505.5 355.2 L501.0 356.0 L499.5 353.8 L494.2 350.8 L489.0 348.5 L483.0 346.7 L479.2 345.8Z M518.2 356.8 L523.5 355.7 L529.5 356.8 L534.0 358.2 L537.8 361.2 L532.5 362.3 L526.5 364.2 L523.5 362.0 L518.2 363.2 L514.5 362.0 L519.0 360.5Z M498.8 362.3 L502.5 361.7 L506.2 362.8 L504.0 364.2 L500.2 363.8Z M543.0 361.7 L548.2 361.4 L549.0 363.2 L543.8 363.5Z M566.5 642.0 L571.0 640.2 L576.2 639.8 L580.8 640.8 L577.0 642.8 L571.8 643.8 L568.0 643.5Z M770.0 320.0 L771.0 317.0 L773.0 313.0 L775.0 309.0 L778.0 306.0 L782.0 302.0 L785.0 297.0 L788.0 292.5 L793.0 294.0 L799.0 293.5 L804.0 292.5 L810.0 290.5 L816.0 289.0 L823.0 288.0 L830.0 288.0 L838.0 287.5 L845.0 287.2 L851.0 286.8 L854.5 288.0 L855.0 290.0 L853.5 293.0 L852.5 296.5 L854.0 300.0 L856.0 302.0 L860.0 304.0 L866.0 306.0 L872.0 307.5 L879.0 309.0 L885.0 307.0 L890.0 305.0 L894.0 304.5 L899.0 304.5 L904.0 306.0 L910.0 308.0 L914.0 309.5 L918.0 310.0 L923.0 310.0 L927.0 309.0 L930.0 307.5 L929.5 306.0 L935.5 308.2 L940.0 309.3 L946.0 310.2 L950.5 309.3 L953.5 308.2 L956.5 309.3 L959.5 310.5 L949.3 310.8 L952.0 317.5 L950.5 323.5 L946.8 313.8 L947.5 322.0 L949.0 329.5 L952.0 337.0 L955.0 343.0 L958.0 349.0 L961.0 355.0 L950.2 334.5 L954.0 342.0 L957.8 348.0 L960.0 354.0 L962.2 360.0 L964.5 364.8 L967.5 369.8 L972.0 375.0 L976.5 380.2 L981.0 385.5 L983.2 387.8 L981.8 389.2 L984.0 390.0 L990.0 391.5 L997.5 390.8 L1005.0 389.2 L1011.0 388.2 L1015.2 387.8 L1014.8 393.0 L1011.8 400.5 L1008.0 408.0 L1003.5 415.5 L997.5 421.5 L990.0 427.5 L984.0 433.5 L978.0 440.2 L973.5 447.0 L969.8 454.5 L967.5 462.0 L977.0 462.5 L977.8 470.0 L976.2 477.5 L974.8 485.0 L974.3 491.0 L974.0 494.0 L971.0 498.5 L966.5 502.2 L960.5 506.0 L954.5 509.8 L950.0 513.5 L950.0 516.5 L952.2 522.5 L953.0 529.2 L950.0 533.0 L944.0 536.0 L940.2 539.8 L942.5 542.0 L941.8 545.8 L938.8 551.0 L934.2 555.5 L929.0 560.0 L921.5 563.8 L914.0 566.0 L905.0 567.5 L896.0 566.8 L888.5 563.0 L882.5 558.5 L878.0 549.5 L875.0 547.2 L872.8 542.0 L871.2 536.0 L869.8 530.0 L867.5 524.0 L863.8 516.5 L860.8 510.5 L857.8 505.2 L857.8 501.5 L859.2 494.8 L862.2 488.0 L866.0 482.0 L865.8 482.0 L862.0 473.0 L859.0 464.0 L859.0 454.2 L856.0 450.5 L851.5 446.0 L848.5 441.5 L847.0 437.0 L849.2 431.0 L850.0 425.0 L848.5 419.8 L845.5 416.0 L839.5 417.2 L835.0 416.0 L832.0 412.2 L826.0 409.7 L818.5 410.8 L811.0 412.2 L805.0 413.8 L800.5 415.2 L793.0 414.2 L787.0 415.7 L781.0 417.5 L775.0 415.2 L769.0 412.2 L763.0 407.8 L757.8 401.8 L752.5 395.8 L748.0 390.5 L745.0 386.0 L744.2 380.0 L744.2 381.0 L741.2 376.5 L742.0 375.0 L744.2 369.0 L745.8 363.0 L745.0 357.0 L742.8 351.8 L743.5 348.0 L748.0 340.5 L752.5 334.5 L757.8 327.8 L760.0 324.8 L766.0 321.8 L770.5 316.5 L773.5 310.5 L775.0 305.2Z M1007.8 483.5 L1010.8 488.0 L1012.2 495.5 L1010.0 501.5 L1008.5 509.0 L1006.2 516.5 L1004.0 524.0 L1001.0 531.5 L998.0 536.0 L992.0 537.5 L986.8 535.2 L983.8 530.0 L983.0 524.0 L986.0 518.0 L987.5 512.0 L986.8 506.0 L988.2 500.8 L993.5 498.5 L999.5 495.5 L1003.2 489.5 L1005.5 485.0Z M952.0 317.5 L949.3 310.8 L950.5 306.2 L952.0 301.0 L953.5 295.0 L954.2 289.8 L950.5 288.2 L946.0 289.8 L940.0 290.5 L934.0 289.0 L929.5 289.8 L925.0 287.5 L920.5 286.0 L918.2 283.0 L919.0 278.5 L917.5 275.5 L919.8 272.5 L917.2 270.2 L922.0 270.0 L918.0 270.5 L915.0 270.0 L912.0 272.0 L909.0 273.0 L905.0 275.0 L907.0 278.0 L903.0 279.0 L904.0 282.0 L901.0 283.0 L900.0 286.0 L895.0 285.0 L896.0 282.0 L893.0 279.0 L890.0 276.0 L891.0 272.0 L888.0 269.0 L883.0 266.0 L878.0 263.0 L873.0 260.0 L869.0 257.0 L867.0 254.0 L864.0 253.0 L860.0 255.0 L862.0 257.0 L865.0 259.0 L868.0 262.0 L871.0 265.0 L874.0 269.0 L877.0 272.0 L881.0 274.0 L883.0 276.0 L880.0 277.0 L877.0 279.0 L878.0 282.0 L876.0 284.0 L874.0 281.0 L871.0 278.0 L867.0 275.0 L863.0 272.0 L859.0 269.0 L855.0 265.0 L851.0 262.0 L846.0 261.0 L840.0 263.0 L834.0 264.0 L828.0 265.0 L822.0 266.5 L817.0 270.0 L814.0 274.0 L811.0 279.0 L809.0 282.0 L807.0 285.5 L804.0 288.5 L799.0 289.0 L794.0 290.0 L790.0 291.0 L788.0 292.0 L786.0 290.0 L783.0 288.0 L780.0 287.5 L776.0 287.0 L775.5 283.5 L774.0 280.5 L775.0 277.0 L774.5 273.0 L775.5 269.0 L774.0 266.0 L774.5 263.0 L779.0 261.0 L786.0 261.5 L793.0 262.0 L797.0 262.5 L799.0 260.0 L798.5 256.0 L797.5 252.0 L795.0 247.0 L792.5 242.5 L792.5 241.5 L797.0 239.0 L804.0 238.5 L806.0 234.0 L811.0 236.0 L817.0 232.0 L824.0 229.0 L829.0 226.0 L832.0 223.5 L838.0 222.0 L843.0 220.0 L846.0 219.5 L845.0 216.0 L843.5 212.0 L844.0 208.0 L848.0 205.5 L853.0 205.0 L853.5 209.0 L852.0 214.0 L853.0 218.0 L854.0 219.8 L860.0 218.0 L865.0 219.5 L869.1 221.1 L872.7 219.8 L878.0 218.4 L883.3 217.6 L887.8 218.4 L891.3 217.6 L894.0 216.7 L896.7 214.9 L895.3 212.2 L895.8 209.6 L896.7 206.9 L899.3 205.1 L902.0 205.6 L904.7 207.3 L907.3 206.9 L908.7 204.2 L906.4 201.6 L902.9 200.7 L900.2 202.4 L901.1 199.8 L904.7 198.4 L910.0 198.0 L915.3 197.6 L921.6 196.7 L926.0 196.2 L930.9 196.2 L928.7 194.9 L923.3 193.6 L917.1 194.0 L910.0 194.4 L903.8 195.3 L900.2 193.6 L897.6 191.8 L896.2 188.2 L896.0 184.7 L897.6 182.4 L900.2 181.1 L903.8 179.3 L907.3 177.1 L911.3 176.4 L912.2 174.7 L909.1 172.7 L903.8 172.2 L898.4 173.6 L895.8 176.7 L895.3 180.7 L888.0 184.0 L884.0 190.0 L882.0 196.0 L885.0 201.0 L880.0 206.0 L876.0 211.0 L872.0 214.0 L866.0 214.5 L862.0 212.0 L860.0 208.0 L858.0 204.0 L855.0 200.0 L852.0 199.0 L848.0 202.0 L843.0 204.5 L838.0 204.0 L834.0 201.0 L831.0 198.0 L830.0 194.0 L831.0 188.0 L834.0 184.0 L840.0 183.5 L846.0 182.5 L852.0 180.0 L858.0 175.0 L864.0 169.0 L870.0 164.0 L873.5 161.0 L878.0 158.8 L884.0 155.8 L890.0 154.2 L894.5 153.2 L900.5 152.3 L906.5 151.7 L912.5 151.2 L918.5 151.7 L924.5 152.8 L929.8 153.5 L935.0 155.0 L944.0 157.8 L953.0 159.2 L962.0 160.8 L971.0 163.8 L975.5 166.0 L974.0 169.0 L968.0 171.2 L960.5 170.5 L953.0 169.8 L947.0 168.2 L941.0 167.5 L948.5 171.2 L951.5 175.0 L956.0 178.0 L960.5 176.5 L965.0 175.8 L969.5 173.5 L974.0 172.0 L980.0 169.8 L986.0 170.5 L987.5 166.8 L984.5 162.2 L992.0 160.8 L996.5 163.0 L993.5 166.0 L1001.0 166.8 L1007.0 164.5 L1014.5 163.0 L1022.0 161.5 L1028.0 160.0 L1034.0 160.8 L1040.0 160.0 L1046.0 159.2 L1047.5 156.2 L1052.0 157.0 L1052.8 160.0 L1059.5 157.8 L1067.0 157.0 L1074.5 158.5 L1080.0 160.8 L1084.5 162.2 L1082.2 159.2 L1078.5 156.2 L1077.3 152.5 L1080.0 150.2 L1084.5 146.5 L1090.5 143.1 L1095.8 142.0 L1101.0 144.2 L1101.8 149.5 L1102.8 155.5 L1101.8 161.5 L1097.2 166.0 L1092.0 168.2 L1086.8 169.3 L1095.0 170.2 L1100.2 169.3 L1105.5 166.0 L1108.8 161.8 L1107.8 157.0 L1104.8 152.8 L1106.2 148.8 L1110.8 145.8 L1114.5 147.7 L1120.5 150.2 L1125.8 151.8 L1122.0 148.8 L1116.8 146.5 L1121.2 144.7 L1126.5 144.2 L1131.0 142.4 L1136.2 144.7 L1141.5 148.8 L1144.8 152.8 L1141.5 154.8 L1139.2 151.0 L1134.0 147.7 L1131.8 145.0 L1135.5 142.0 L1144.5 139.3 L1153.5 136.8 L1161.0 134.8 L1170.0 132.4 L1168.0 133.0 L1180.0 131.5 L1192.0 130.0 L1201.0 130.8 L1207.0 131.5 L1210.0 134.5 L1213.0 129.2 L1219.0 126.2 L1228.0 125.5 L1234.0 127.0 L1240.0 129.2 L1249.0 128.5 L1258.0 129.2 L1264.8 131.8 L1262.5 135.2 L1255.0 137.5 L1247.5 139.8 L1238.5 142.8 L1231.8 144.7 L1240.0 143.5 L1252.0 140.5 L1261.0 139.8 L1264.0 144.2 L1270.0 142.0 L1279.0 142.0 L1285.0 143.5 L1291.0 144.2 L1299.0 143.8 L1305.0 140.8 L1314.0 141.5 L1323.0 142.2 L1326.8 145.2 L1327.5 149.0 L1333.5 152.0 L1339.5 148.2 L1347.0 149.8 L1354.5 149.8 L1362.0 150.2 L1368.0 146.8 L1374.0 145.2 L1383.0 146.0 L1392.0 146.8 L1401.0 147.5 L1410.0 149.0 L1417.5 151.2 L1425.0 151.7 L1434.0 152.0 L1443.0 152.8 L1449.0 154.2 L1453.5 158.8 L1455.0 161.0 L1459.5 157.7 L1470.0 157.7 L1480.5 156.8 L1485.0 158.0 L1491.0 159.5 L1497.0 156.5 L1506.0 156.2 L1515.0 156.8 L1524.0 157.7 L1533.0 158.8 L1533.0 176.8 L1524.0 176.0 L1515.0 176.0 L1507.5 176.8 L1515.0 178.2 L1522.5 180.5 L1527.8 183.5 L1524.0 185.8 L1518.0 185.0 L1512.0 188.0 L1506.0 190.2 L1500.0 192.5 L1494.0 194.8 L1491.0 196.2 L1485.0 194.0 L1479.0 194.8 L1473.0 195.5 L1467.0 197.0 L1462.5 199.2 L1465.5 201.5 L1462.5 206.0 L1461.0 209.8 L1458.0 213.5 L1455.0 216.5 L1450.5 219.5 L1447.5 222.5 L1443.0 225.5 L1438.5 229.2 L1436.2 230.8 L1434.8 224.0 L1433.2 218.0 L1432.5 213.5 L1434.0 209.0 L1437.8 205.2 L1443.0 203.0 L1449.0 200.0 L1455.0 197.0 L1459.5 194.0 L1464.0 190.2 L1466.2 186.5 L1471.5 185.8 L1467.0 185.0 L1462.5 186.5 L1458.0 190.2 L1453.5 191.8 L1449.8 192.5 L1450.5 188.8 L1446.0 188.0 L1440.0 190.2 L1434.0 193.2 L1428.0 197.0 L1430.2 198.5 L1422.0 199.2 L1416.0 200.0 L1410.0 198.5 L1404.0 197.8 L1395.0 198.5 L1386.0 198.5 L1380.0 200.0 L1374.0 203.8 L1368.0 207.5 L1362.0 211.2 L1356.0 214.2 L1350.8 216.5 L1356.0 217.2 L1360.5 215.8 L1362.0 219.5 L1365.0 221.0 L1369.5 219.5 L1373.2 221.8 L1375.5 225.5 L1374.0 230.0 L1371.8 234.5 L1371.0 240.5 L1370.8 239.5 L1367.0 245.5 L1361.8 250.8 L1356.5 255.2 L1350.5 259.8 L1344.5 263.5 L1338.5 264.2 L1334.8 263.5 L1331.8 266.5 L1328.0 271.0 L1323.5 274.8 L1320.5 277.8 L1323.5 281.5 L1326.5 286.0 L1328.0 291.2 L1325.8 295.0 L1320.5 297.2 L1316.0 297.2 L1314.5 293.5 L1316.0 289.0 L1313.8 284.5 L1310.0 280.8 L1307.0 277.0 L1302.5 276.7 L1298.0 279.2 L1295.0 280.0 L1296.5 275.5 L1298.8 272.5 L1294.2 272.2 L1289.8 275.5 L1285.2 277.8 L1280.8 280.0 L1282.2 283.0 L1287.5 286.0 L1293.5 285.2 L1299.5 286.0 L1295.0 289.0 L1290.5 292.0 L1286.8 295.0 L1288.2 299.5 L1292.0 304.0 L1295.0 308.5 L1298.0 313.0 L1298.8 316.0 L1295.0 319.0 L1293.5 323.5 L1290.5 328.0 L1287.5 331.8 L1283.8 337.0 L1278.5 341.5 L1272.5 344.5 L1267.0 344.8 L1261.0 347.8 L1255.0 349.2 L1250.5 351.5 L1247.5 350.8 L1244.5 352.2 L1240.0 351.5 L1239.7 351.8 L1237.8 353.8 L1236.2 357.5 L1238.5 362.0 L1242.2 368.0 L1246.0 374.0 L1247.8 380.0 L1248.2 386.0 L1244.5 391.2 L1240.0 395.0 L1235.5 398.0 L1231.8 399.5 L1231.0 395.8 L1226.5 390.5 L1222.0 386.0 L1217.5 386.0 L1216.0 392.0 L1213.0 395.0 L1210.0 392.0 L1208.5 396.5 L1206.2 399.5 L1203.2 401.8 L1207.8 407.0 L1210.0 413.0 L1211.5 419.0 L1214.5 425.0 L1219.0 429.5 L1223.5 432.5 L1226.5 431.8 L1225.0 428.0 L1223.5 423.5 L1222.0 417.5 L1219.0 413.0 L1216.0 408.5 L1213.0 404.0 L1208.5 401.8 L1205.5 398.0 L1202.5 392.0 L1201.0 384.5 L1199.5 377.0 L1195.0 374.0 L1191.2 372.5 L1189.8 371.0 L1187.5 365.0 L1186.0 360.5 L1183.0 355.2 L1180.0 350.0 L1177.8 345.5 L1179.5 349.2 L1176.5 347.0 L1173.5 342.5 L1170.5 346.7 L1164.5 347.8 L1158.5 349.2 L1154.8 353.0 L1149.5 357.5 L1143.5 363.5 L1137.5 369.5 L1132.2 373.2 L1130.8 378.5 L1129.7 384.5 L1130.0 390.5 L1127.8 396.5 L1124.0 401.0 L1120.2 402.5 L1116.5 398.0 L1113.5 392.0 L1110.5 384.5 L1107.5 377.0 L1104.5 369.5 L1102.2 362.0 L1101.5 356.0 L1100.0 350.0 L1094.0 345.5 L1091.0 341.0 L1085.0 338.0 L1079.0 339.5 L1073.0 336.5 L1071.5 333.5 L1067.0 333.8 L1059.5 334.2 L1052.0 333.8 L1044.5 332.8 L1039.2 331.2 L1036.2 327.2 L1031.0 328.2 L1025.0 327.5 L1019.0 324.5 L1014.5 320.0 L1010.0 314.8 L1005.5 314.5 L1004.0 316.0 L1007.0 320.0 L1010.0 324.0 L1014.0 328.0 L1014.8 330.0 L1015.5 333.0 L1017.8 336.8 L1020.0 338.2 L1026.0 337.5 L1032.0 335.2 L1035.0 332.2 L1036.5 336.0 L1041.0 339.0 L1045.5 342.8 L1050.0 345.8 L1047.8 349.5 L1044.8 354.0 L1041.0 357.0 L1036.5 360.8 L1032.0 363.8 L1026.0 367.5 L1020.0 370.5 L1012.5 373.5 L1005.0 376.5 L997.5 379.5 L990.0 382.5 L984.8 384.3 L983.2 381.8 L981.0 375.0 L978.0 367.5 L973.5 360.0 L969.0 353.2 L966.0 346.5 L963.0 339.0 L960.0 331.5 L955.8 331.0 L953.5 323.5Z M769.7 227.0 L771.0 223.0 L770.3 219.7 L773.7 218.3 L777.0 216.3 L780.3 214.7 L784.3 215.0 L787.7 216.3 L788.3 218.3 L786.3 221.0 L785.7 224.3 L783.7 226.3 L779.7 227.7 L775.7 229.0 L772.3 229.3Z M789.7 203.0 L793.0 201.7 L797.0 201.0 L795.7 204.0 L799.7 205.0 L803.7 205.0 L802.3 207.7 L799.7 210.3 L802.3 211.7 L804.3 213.7 L805.7 216.3 L808.3 218.3 L811.0 221.0 L812.3 223.7 L814.3 225.0 L817.7 226.3 L819.0 229.0 L817.7 231.0 L818.3 233.0 L815.7 234.3 L811.7 235.0 L807.7 235.3 L803.7 235.7 L799.7 236.3 L795.7 236.7 L791.7 236.3 L788.3 235.3 L791.0 234.7 L794.3 233.0 L798.3 231.7 L801.0 229.0 L797.0 229.7 L793.0 230.3 L790.3 229.0 L791.7 228.3 L795.0 227.7 L794.3 225.0 L793.0 222.7 L795.7 222.3 L799.0 221.7 L798.3 218.3 L796.3 216.0 L793.0 216.3 L791.0 215.0 L791.7 211.7 L791.0 209.0 L789.0 206.3Z M781.7 205.0 L784.3 202.7 L787.0 203.0 L788.0 207.0 L787.7 211.7 L785.7 213.0 L784.3 209.7 L782.0 207.7Z M797.3 199.3 L801.0 198.2 L801.3 200.0 L798.3 201.0Z M804.3 193.7 L807.3 192.3 L806.7 195.7 L805.0 196.0Z M781.5 187.0 L785.3 186.5 L784.7 190.0 L782.9 189.0Z M861.0 284.0 L866.0 283.0 L872.0 282.5 L871.0 286.0 L868.0 288.5 L864.0 287.0Z M844.8 271.0 L848.0 270.0 L850.0 272.0 L849.8 277.0 L848.0 279.5 L845.5 279.0 L844.5 275.0Z M847.5 263.5 L849.5 263.0 L850.0 266.5 L849.0 269.0 L847.5 267.5Z M905.0 294.0 L910.0 293.5 L915.0 294.0 L919.0 294.5 L914.0 295.5 L908.0 295.5Z M940.8 295.8 L944.5 294.2 L950.5 292.8 L947.5 295.0 L946.0 296.8 L942.2 296.8Z M855.5 112.0 L867.5 109.0 L881.0 110.5 L890.0 113.5 L899.0 114.2 L909.5 114.2 L919.2 115.0 L915.5 117.2 L908.0 118.0 L905.0 121.0 L909.5 124.8 L903.5 126.7 L896.0 124.8 L890.0 122.5 L881.0 121.0 L872.0 122.5 L863.0 120.2 L860.0 115.8Z M1017.5 148.0 L1022.0 144.2 L1028.0 140.5 L1034.0 136.8 L1043.0 133.0 L1055.0 130.8 L1067.0 129.2 L1079.0 128.2 L1085.8 128.8 L1083.5 130.8 L1073.0 132.2 L1061.0 133.8 L1050.5 136.0 L1041.5 139.8 L1036.2 143.5 L1033.2 148.0 L1038.5 152.5 L1031.0 152.5 L1023.5 151.0Z M1004.0 159.2 L1008.5 157.8 L1011.5 159.2 L1007.8 161.2Z M992.0 113.2 L1004.0 112.0 L1016.0 112.8 L1010.0 115.0 L998.0 114.7Z M1020.5 114.2 L1029.5 111.2 L1041.5 109.0 L1052.0 110.5 L1059.5 112.8 L1049.0 115.0 L1037.0 115.0 L1025.0 115.8Z M1061.0 112.0 L1071.5 111.2 L1067.0 113.5Z M1174.0 115.0 L1181.5 111.7 L1192.0 110.8 L1201.0 112.8 L1210.0 116.5 L1210.0 119.5 L1204.0 121.0 L1195.0 119.5 L1187.5 118.8 L1180.0 118.0Z M1208.5 123.7 L1216.0 119.5 L1225.0 119.2 L1231.8 121.8 L1225.0 123.7 L1216.0 124.0Z M1357.5 134.0 L1363.5 131.8 L1371.0 132.5 L1377.0 134.0 L1380.0 132.5 L1386.0 132.5 L1390.5 134.0 L1386.0 135.8 L1380.0 136.2 L1372.5 135.5 L1365.0 137.0 L1359.0 135.8Z M1395.0 134.0 L1404.0 134.0 L1413.0 135.2 L1407.0 137.0 L1398.0 136.2Z M1371.0 140.0 L1378.5 140.0 L1383.8 141.8 L1377.0 143.0 L1371.8 141.8Z M1524.8 150.8 L1533.0 149.3 L1533.0 152.3 L1527.0 152.3Z M85.0 149.0 L101.2 150.0 L102.0 151.5 L85.0 153.0Z M85.0 158.8 L92.5 160.0 L100.0 162.5 L108.8 165.5 L115.0 167.5 L127.5 170.0 L132.5 171.8 L121.2 178.0 L115.0 176.2 L105.0 175.0 L97.5 172.5 L92.5 175.0 L85.0 185.0Z M1380.0 218.8 L1381.5 224.0 L1383.0 230.0 L1385.3 236.0 L1388.3 240.0 L1384.3 240.3 L1382.0 244.8 L1383.5 250.0 L1380.5 248.5 L1377.5 251.5 L1378.3 244.0 L1377.5 236.5 L1377.0 229.0 L1378.5 221.8Z M1377.5 254.5 L1382.0 256.8 L1386.5 259.8 L1391.8 261.2 L1390.2 263.5 L1385.0 265.0 L1382.0 268.0 L1377.5 267.2 L1374.5 271.0 L1371.5 269.5 L1370.0 265.8 L1373.0 263.5 L1375.2 259.8Z M1373.0 272.5 L1377.5 274.8 L1378.2 279.2 L1375.2 284.5 L1374.5 289.0 L1371.5 293.5 L1368.5 295.8 L1364.0 295.0 L1358.0 297.2 L1353.5 301.8 L1349.8 299.5 L1346.0 301.8 L1341.5 303.2 L1338.5 301.0 L1334.0 301.0 L1331.8 299.5 L1334.0 297.2 L1340.0 295.0 L1346.0 293.5 L1352.0 293.5 L1355.0 289.8 L1359.5 287.5 L1364.0 284.5 L1368.5 280.0 L1370.0 274.8Z M1328.0 301.8 L1332.5 301.8 L1336.2 304.0 L1335.5 308.5 L1333.2 311.5 L1330.2 309.2 L1328.8 305.5Z M1340.0 300.2 L1346.0 298.8 L1348.2 300.2 L1343.8 303.2 L1340.0 302.5Z M1292.8 335.2 L1296.5 334.3 L1297.2 338.5 L1295.0 344.5 L1292.8 347.5 L1290.8 342.2Z M1246.0 356.0 L1250.5 354.8 L1253.8 357.2 L1251.2 361.2 L1246.8 362.0 L1244.5 359.3Z M1130.8 398.0 L1134.5 397.2 L1137.5 402.5 L1138.2 407.8 L1134.5 411.2 L1130.8 409.2 L1129.2 404.0Z M1023.8 385.2 L1027.5 384.3 L1028.7 385.5 L1025.2 386.7Z M1190.5 412.8 L1196.5 413.5 L1202.5 418.0 L1208.5 423.2 L1214.5 428.5 L1220.5 433.0 L1225.0 437.5 L1229.5 442.0 L1232.5 446.5 L1233.2 452.5 L1233.2 457.8 L1228.0 457.8 L1223.5 454.0 L1219.0 449.5 L1213.8 443.5 L1209.2 437.5 L1204.8 431.5 L1200.2 425.5 L1195.8 419.5 L1192.0 415.8Z M1246.8 428.5 L1252.0 426.2 L1258.0 424.0 L1264.0 419.5 L1270.0 415.0 L1276.0 410.5 L1279.8 408.2 L1283.5 412.0 L1285.8 415.0 L1282.0 417.2 L1280.5 421.0 L1282.8 427.0 L1285.0 430.8 L1282.0 432.2 L1279.0 437.5 L1276.8 442.8 L1274.5 449.5 L1270.0 451.0 L1264.0 448.8 L1258.0 448.0 L1252.0 446.5 L1249.8 442.0 L1248.2 436.0 L1246.0 433.0Z M1232.5 459.2 L1240.0 460.0 L1247.5 462.2 L1255.0 461.5 L1261.0 463.0 L1267.0 466.0 L1267.0 469.0 L1261.0 468.2 L1253.5 467.5 L1246.0 466.0 L1240.0 465.2 L1234.0 463.0Z M1268.5 468.2 L1276.0 469.0 L1285.0 469.3 L1294.0 468.7 L1303.0 468.2 L1310.5 467.8 L1310.5 469.3 L1303.0 470.2 L1294.0 470.5 L1285.0 470.8 L1276.0 470.5 L1268.5 469.8Z M1286.5 472.8 L1291.8 474.2 L1291.0 475.8 L1287.2 474.7Z M1301.5 478.0 L1307.5 474.2 L1313.5 470.5 L1318.0 468.2 L1317.2 470.2 L1312.0 473.5 L1307.5 476.5 L1303.0 478.8Z M1289.5 432.2 L1294.0 430.8 L1300.0 430.8 L1306.0 430.0 L1310.5 428.5 L1309.8 431.5 L1306.0 433.8 L1300.0 433.8 L1294.0 433.8 L1291.8 436.8 L1295.5 439.0 L1301.5 438.2 L1303.8 439.8 L1300.0 442.0 L1295.5 442.8 L1298.5 446.5 L1301.5 451.0 L1300.8 454.8 L1297.8 452.5 L1294.8 448.0 L1292.5 445.0 L1291.0 449.5 L1291.8 454.0 L1291.0 457.8 L1288.0 457.8 L1288.0 452.5 L1285.8 448.0 L1287.2 442.8 L1288.8 437.5Z M1320.2 427.8 L1324.0 425.5 L1323.2 430.8 L1324.8 435.2 L1321.8 437.5 L1320.2 433.0Z M1321.0 448.0 L1327.0 446.8 L1333.0 448.0 L1330.0 450.2 L1324.0 450.2Z M1313.5 448.0 L1316.5 447.7 L1316.8 449.8 L1313.8 449.8Z M1240.0 445.8 L1242.2 445.0 L1243.0 447.7 L1240.8 448.3Z M1346.2 457.8 L1348.8 458.5 L1348.3 461.8 L1346.2 461.2Z M1334.5 438.2 L1339.0 436.8 L1345.0 437.5 L1346.5 441.2 L1343.5 445.0 L1345.0 450.2 L1348.8 446.5 L1352.5 445.0 L1357.0 442.8 L1361.5 441.2 L1367.5 442.8 L1374.2 445.0 L1381.0 447.2 L1387.0 450.2 L1393.0 454.3 L1397.5 457.8 L1400.5 461.5 L1399.3 464.8 L1403.5 469.0 L1408.0 472.0 L1412.5 474.2 L1414.8 477.2 L1409.5 476.5 L1403.5 474.2 L1399.0 472.0 L1394.5 469.8 L1390.0 467.5 L1385.5 466.0 L1381.0 469.3 L1378.0 472.0 L1374.2 471.7 L1370.5 466.8 L1366.8 464.5 L1364.8 468.2 L1360.8 468.2 L1362.7 464.8 L1364.8 461.5 L1361.5 458.5 L1357.0 455.5 L1354.0 451.8 L1349.5 449.5 L1345.8 451.8 L1342.0 448.8 L1339.0 443.5 L1336.0 441.2Z M1402.0 457.8 L1408.0 456.7 L1414.0 455.2 L1419.2 452.8 L1421.5 454.0 L1420.0 455.8 L1415.5 457.8 L1409.5 459.2 L1404.2 459.2Z M1292.5 362.8 L1297.8 361.2 L1300.0 365.0 L1298.5 369.5 L1296.2 373.2 L1297.8 377.0 L1300.0 379.2 L1306.0 381.5 L1309.8 386.0 L1307.5 386.8 L1303.0 383.8 L1297.8 382.2 L1294.0 386.0 L1291.8 380.0 L1291.0 374.0 L1289.5 370.2 L1291.8 366.5Z M1298.5 389.0 L1303.0 390.5 L1301.5 395.0 L1297.8 393.5Z M1304.5 387.5 L1310.5 389.0 L1315.0 395.0 L1312.8 398.0 L1309.0 393.5 L1305.2 391.2Z M1301.5 395.0 L1306.0 394.2 L1308.2 398.0 L1305.2 400.2 L1302.2 398.8Z M1278.2 401.8 L1281.2 398.0 L1285.0 393.5 L1288.8 388.2 L1291.0 386.0 L1290.2 389.8 L1286.5 395.0 L1282.8 400.2 L1279.8 403.2Z M1300.0 401.8 L1306.0 401.0 L1310.5 398.0 L1315.0 399.5 L1316.5 405.5 L1313.5 408.5 L1312.0 413.0 L1308.2 410.0 L1306.0 405.5 L1301.5 406.2 L1297.8 407.0 L1299.2 404.0Z M1265.5 527.5 L1267.0 523.0 L1273.0 519.2 L1279.0 517.0 L1285.0 515.5 L1291.0 514.0 L1297.0 510.2 L1300.0 505.0 L1304.5 500.5 L1309.0 496.0 L1312.0 493.0 L1316.5 490.0 L1321.0 491.5 L1322.5 495.2 L1327.8 494.5 L1330.0 490.0 L1331.5 484.0 L1334.5 481.0 L1340.5 480.2 L1345.0 481.8 L1351.0 483.2 L1355.5 481.0 L1357.0 484.0 L1354.8 490.0 L1352.5 493.8 L1356.2 496.0 L1361.5 499.0 L1366.0 502.0 L1369.0 505.0 L1373.5 504.2 L1375.8 499.0 L1376.5 493.0 L1377.2 487.0 L1378.0 481.8 L1379.2 476.5 L1381.8 482.5 L1384.8 488.5 L1388.5 493.0 L1391.5 497.5 L1393.8 503.5 L1396.0 509.5 L1399.0 514.0 L1403.5 518.5 L1408.0 524.5 L1414.0 529.0 L1415.0 528.2 L1419.5 532.0 L1422.5 535.0 L1423.2 541.0 L1424.0 547.0 L1423.2 553.0 L1421.0 559.0 L1418.0 565.0 L1415.0 571.0 L1412.0 577.0 L1409.8 582.2 L1406.0 586.0 L1400.0 589.0 L1394.0 589.8 L1389.5 587.5 L1386.5 589.8 L1380.5 589.0 L1374.5 586.0 L1370.0 583.0 L1367.0 578.5 L1364.0 577.0 L1360.2 576.2 L1361.8 571.8 L1360.2 567.2 L1358.0 571.0 L1355.0 574.0 L1352.0 573.2 L1349.0 569.5 L1346.0 565.0 L1341.5 562.0 L1334.0 561.2 L1325.0 562.0 L1316.0 564.2 L1308.5 566.5 L1302.5 569.5 L1295.0 571.0 L1287.5 573.2 L1280.0 575.5 L1274.0 574.0 L1270.2 571.0 L1272.5 568.0 L1273.2 563.5 L1272.5 557.5 L1269.5 551.5 L1266.5 545.5 L1262.8 539.5 L1263.5 535.0 L1265.0 529.0Z M1388.8 597.2 L1394.0 598.0 L1400.0 597.2 L1403.8 595.0 L1403.0 601.0 L1400.8 606.2 L1396.2 609.2 L1391.8 605.5 L1389.5 601.0Z M1501.3 573.3 L1506.7 577.3 L1510.7 582.7 L1513.3 586.7 L1518.7 585.3 L1524.0 586.1 L1521.3 592.0 L1516.0 597.3 L1512.0 601.3 L1508.0 598.7 L1505.3 593.3 L1509.3 589.3 L1506.7 584.0 L1503.2 578.7Z M1498.7 597.3 L1504.0 600.0 L1506.7 604.0 L1501.3 609.3 L1496.0 613.3 L1490.7 617.3 L1484.0 621.3 L1477.3 621.3 L1476.0 617.3 L1481.3 613.3 L1488.0 608.0 L1493.3 602.7Z M1464.8 514.7 L1468.0 516.0 L1473.3 520.0 L1477.3 524.0 L1474.7 524.8 L1469.3 521.3 L1465.3 517.3Z M301.2 231.2 L310.0 234.5 L320.0 241.2 L318.8 245.0 L310.0 241.2 L302.5 236.2Z M270.0 202.5 L277.5 207.5 L287.5 220.0 L283.8 221.2 L276.2 212.5 L268.8 206.2Z M279.5 219.5 L285.0 222.5 L287.5 228.0 L282.5 225.0Z M197.5 204.5 L203.8 202.5 L205.5 206.2 L200.0 208.8Z M122.5 181.2 L130.0 180.5 L136.2 182.0 L130.0 183.2 L123.8 183.0Z" fill="none" stroke="#000" stroke-width="0.9" stroke-linejoin="round"/>
<path d="M516.2 595.5 L517.1 597.1 L515.5 598.3 L517.1 600.0 L515.0 601.1 L516.4 602.8 L514.3 603.9 L515.2 605.5 L513.8 606.7 L514.7 608.4 L513.1 609.5 L513.8 611.2 L512.4 612.2 L513.4 614.0 L511.1 614.8 L512.2 616.5 L510.8 617.6 L512.4 619.4 L509.9 620.2 L511.7 622.1 L509.5 622.9 L511.5 624.9 L508.9 625.6 L510.6 627.1 L508.6 628.5 L510.0 629.9 L509.0 631.5 L510.6 632.7 L509.5 634.7 L511.5 635.7 L510.7 637.7 L513.1 638.3 L512.4 640.6 L514.8 640.8 L514.4 643.1 L516.0 643.8 L516.4 645.4 L518.8 644.9 L518.6 647.4 L520.7 647.2 L520.8 649.3 L523.1 648.9 L523.1 651.1 L525.5 650.3 L525.4 652.9 L527.3 652.1 L527.9 654.0 L529.9 652.9 L530.3 655.4 L532.4 653.5 L533.4 655.9 L535.5 653.9 L536.4 656.5 L538.0 655.2 L539.0 657.2 L540.6 656.0 L541.8 657.0" fill="none" stroke="#000" stroke-width="0.7" stroke-linejoin="round"/>
<path d="M515.8 595.5 L516.5 597.5 L515.0 599.1 L516.0 601.2 L514.1 602.7 L515.3 604.8 L513.4 606.3 L514.3 608.5 L512.6 609.8 L513.5 612.0 L511.5 613.2 L512.2 615.3 L510.5 616.6 L512.0 618.7 L509.8 620.0 L511.0 622.0 L509.1 623.4 L510.0 625.6 L507.9 627.0 L510.1 628.8 L508.3 631.1 L509.8 632.8 L509.5 635.1 L511.7 636.6 L511.1 639.1 L513.3 640.2 L513.6 642.6 L515.5 643.9 L516.4 645.8 L518.9 646.1 L519.4 648.6 L521.5 649.1 L522.3 651.2 L524.8 651.0 L526.0 653.4 L528.5 653.3 L529.9 655.6 L532.4 654.3 L533.9 656.7 L536.0 656.7" fill="none" stroke="#000" stroke-width="0.7" stroke-linejoin="round"/>
<path d="M873.5 161.0 L875.7 161.6 L876.4 159.3 L878.4 159.7 L879.4 157.8 L881.7 158.7 L882.2 156.0 L884.2 156.5 L885.4 155.2 L887.2 155.8 L888.4 154.4 L890.3 155.4 L891.4 153.5 L893.2 154.4 L894.5 153.0 L896.1 154.0 L897.5 152.4 L899.2 153.7 L900.4 151.7 L902.1 153.5 L903.5 151.6 L905.1 153.1 L906.5 151.2 L908.0 152.2 L909.5 151.0 L911.1 152.8 L912.5 150.8 L913.9 152.9 L915.5 151.2 L916.9 152.6 L918.5 151.5 L919.8 153.2 L921.5 152.0 L922.9 153.1 L924.5 152.5 L926.2 153.7 L928.1 152.9 L929.7 154.1 L931.6 153.8 L933.1 155.2 L935.0 155.0" fill="none" stroke="#000" stroke-width="0.7" stroke-linejoin="round"/>
<path d="M831.0 200.0 L831.4 198.4 L830.2 197.1 L830.8 195.4 L829.5 194.0 L831.5 192.7 L830.3 191.0 L831.6 189.6 L830.7 187.9 L832.8 187.2 L832.8 185.2 L834.0 184.0" fill="none" stroke="#000" stroke-width="0.7" stroke-linejoin="round"/>
<path d="M597.5 163.8 L599.9 162.9 L598.1 160.4 L600.6 159.5 L599.6 157.7 L598.7 156.0 L596.5 156.1 L595.8 154.2 L593.8 153.5 L595.0 150.8 L592.2 150.2 L592.0 148.3 L590.0 147.9 L590.6 145.4 L588.3 145.2 L588.6 142.9 L586.3 142.6 L586.6 140.4 L583.9 140.4 L585.0 137.6 L582.1 137.9 L581.5 135.8 L579.3 136.4 L578.4 134.5 L576.2 135.0 L575.5 132.4 L573.4 134.0 L572.4 132.0 L570.6 133.0 L569.7 130.6 L567.7 132.7 L566.9 129.8 L565.0 131.2" fill="none" stroke="#000" stroke-width="0.7" stroke-linejoin="round"/>
<path d="M762.0 109.5 L760.2 108.0 L759.2 110.7 L757.3 108.7 L756.3 111.0 L754.5 109.6 L753.4 111.7 L751.7 110.9 L750.4 112.1 L748.7 111.2 L747.6 112.8 L745.7 111.3 L744.8 113.9 L742.9 112.3 L742.0 114.6 L739.9 112.3 L739.1 115.3 L736.4 114.7 L738.6 116.5 L738.3 118.8 L740.3 120.1 L738.2 119.7 L737.3 121.6 L735.0 119.8 L734.5 122.7 L732.4 121.4 L731.6 123.7 L728.2 123.5 L731.4 124.4 L731.6 126.7 L734.1 125.7 L734.0 128.6 L736.6 127.4 L736.2 128.6 L736.2 129.7 L733.8 128.6 L733.4 131.2 L731.0 130.0 L730.7 133.0 L728.4 132.0 L727.9 133.9 L726.3 136.1 L729.3 136.7 L728.6 138.8 L730.3 140.1 L728.3 140.1 L727.9 142.2 L725.3 141.0 L725.2 143.6 L722.7 142.6 L723.2 145.2 L721.7 147.2 L724.1 148.0 L723.0 150.2 L725.3 151.4 L723.4 151.0 L722.3 152.7 L720.3 150.8 L719.4 153.2 L717.4 151.1 L716.5 153.8 L714.5 151.9 L713.7 154.7 L711.9 153.5 L710.8 155.2 L709.0 154.1 L707.9 155.9 L706.1 154.5 L705.0 156.6 L703.7 154.8 L702.0 156.0 L700.8 153.6 L698.9 155.6 L696.2 155.0 L699.2 155.3 L699.6 158.2 L702.2 156.9 L702.6 159.8 L705.5 158.7 L703.2 157.7 L702.3 159.9 L700.6 159.2 L699.4 160.6 L697.6 159.7 L696.5 161.1 L694.7 159.5 L693.6 161.7 L692.0 160.3 L690.8 162.4 L689.1 160.5 L687.9 162.5 L686.3 160.9 L685.1 163.0 L683.0 161.4 L682.2 163.8 L680.2 162.8 L679.4 165.0 L677.5 164.2 L676.6 166.3 L674.5 165.0 L673.7 167.3 L671.5 165.7 L671.0 168.5 L668.8 167.2 L668.0 169.4 L665.9 168.2 L665.2 170.5 L663.0 169.0 L662.3 171.5 L660.2 170.3 L659.4 172.6 L657.2 170.8 L656.6 173.8 L654.1 172.1 L654.1 175.2 L651.9 174.6 L651.5 176.7 L648.9 175.4 L649.1 178.5 L646.9 178.1 L646.7 180.2 L644.5 180.5 L644.7 182.7 L642.7 183.1 L642.7 185.1 L640.4 186.0 L641.8 188.4 L638.8 189.0 L640.3 191.4 L637.6 191.3 L637.9 194.1 L636.0 194.2 L634.6 195.3 L633.5 192.4 L631.5 194.4 L630.4 191.8 L628.5 193.8 L627.5 191.7 L625.5 193.4 L624.7 190.5 L622.8 192.3 L621.7 190.4 L619.8 191.7 L619.8 189.5 L617.8 189.5 L617.8 187.5 L615.6 187.7 L615.5 185.8 L613.6 185.3 L614.0 183.0 L611.8 182.6 L611.9 180.6 L609.6 180.3 L610.1 177.9 L607.8 177.7 L608.6 175.0 L605.5 175.4 L606.4 172.3 L603.6 173.0 L603.1 171.1 L601.1 171.1 L601.4 168.9 L599.0 168.6 L599.5 166.6 L597.7 165.5 L597.5 163.8" fill="none" stroke="#000" stroke-width="0.7" stroke-linejoin="round"/>
<path d="M252.5 196.2 L253.3 198.5 L255.5 196.5 L256.4 198.5 L258.1 197.6 L258.9 200.2 L261.0 198.3 L261.7 200.7 L263.7 199.3 L264.6 200.6 L266.4 200.6 L266.1 202.9 L268.2 202.8 L267.6 205.4 L270.4 204.6 L269.7 207.3 L272.2 206.8 L271.7 209.3 L274.2 208.8 L273.7 211.3 L276.3 210.7 L276.2 212.8 L278.4 212.6 L277.6 215.4 L280.2 214.7 L280.8 216.5 L282.8 216.1 L283.2 218.2 L285.1 217.9 L285.8 219.6 L287.6 219.5 L288.3 221.3 L290.2 220.9 L290.6 223.1 L292.9 222.9 L293.1 225.2 L295.3 225.1 L295.7 227.1 L297.8 227.2 L298.0 229.0 L299.7 229.3 L300.0 231.0 L301.9 231.1 L301.8 233.7 L304.1 232.7 L305.1 234.8 L307.2 233.3 L308.2 235.3 L310.3 234.4 L310.6 236.8 L312.7 236.0 L312.9 238.7 L315.2 237.4 L315.6 239.7 L317.8 238.7 L317.8 241.7 L320.2 240.2 L319.7 242.3 L322.2 242.8 L320.6 245.0 L322.5 246.2" fill="none" stroke="#000" stroke-width="0.7" stroke-linejoin="round"/>
<path d="M552.5 194.2 L554.4 194.8 L554.7 196.9 L556.5 197.6 L557.1 199.4 L558.9 200.1 L559.0 202.0 L560.9 202.4 L561.0 204.2 L562.6 205.0 L562.6 206.8 L565.0 206.8 L564.5 209.2 L566.3 209.6 L566.4 211.5 L568.1 211.9 L568.5 213.7 L570.3 213.8 L570.9 215.5 L572.8 215.5 L573.3 217.5 L575.2 215.6 L576.5 217.7 L578.1 216.7 L579.4 218.1 L581.8 217.8 L579.3 218.6 L578.5 220.0 L579.4 220.7 L581.3 219.9 L582.4 221.7 L584.2 221.1 L585.3 222.5 L586.9 223.2 L587.3 224.9 L588.5 226.0" fill="none" stroke="#000" stroke-width="0.7" stroke-linejoin="round"/>
<path d="M491.0 141.5 L492.6 141.2 L493.9 142.4 L495.6 141.8 L497.0 142.8 L498.7 142.0 L499.9 143.5 L501.7 142.3 L502.9 144.1 L505.0 143.0 L505.8 145.3 L508.0 144.2 L508.8 146.5 L510.8 145.6 L511.9 147.4 L514.1 146.1 L514.9 148.5 L517.0 147.5 L517.8 149.8 L519.7 149.4 L520.8 151.0 L523.0 149.6 L523.8 152.0 L526.0 150.9 L526.8 153.2 L528.7 152.6 L529.9 154.1 L531.8 153.1 L532.8 155.1 L534.9 153.7 L535.8 156.1 L537.9 154.9 L538.8 157.0 L541.2 156.3 L541.8 158.8 L543.9 158.6 L544.9 160.4 L546.8 160.3 L547.9 161.9 L549.8 161.6 L550.8 163.4 L553.0 162.5 L553.8 164.6 L556.0 163.7 L556.8 165.9 L558.9 165.1 L559.9 166.9 L562.1 166.0 L562.8 168.5 L564.9 167.6 L566.0 169.2" fill="none" stroke="#000" stroke-width="0.7" stroke-linejoin="round"/>
<path d="M425.0 116.0 L425.4 114.0 L427.7 114.6 L428.2 112.7 L430.1 112.8 L430.6 110.6 L432.5 111.5 L433.8 110.0 L435.6 111.2 L436.8 109.5 L438.6 110.6 L439.6 107.9 L441.6 110.0 L442.8 108.2 L444.6 109.4 L445.7 107.2 L447.6 109.0 L448.7 106.7 L450.6 108.3 L451.9 106.9 L453.6 107.6 L454.9 106.1 L456.6 107.4 L457.9 105.6 L459.6 106.9 L460.9 105.7 L462.5 106.3 L463.9 105.0 L465.6 106.3 L466.8 104.0 L468.6 105.9 L469.9 104.2 L471.5 105.5 L472.9 103.7 L474.5 105.2 L475.9 103.8 L477.6 105.1 L478.9 103.4 L480.6 104.8 L481.8 102.1 L483.5 104.1 L484.9 102.5 L486.5 104.2 L487.9 101.6 L489.5 103.9 L491.0 102.4 L492.5 103.6 L493.9 101.4 L495.5 103.5 L496.9 101.7 L498.5 103.3 L499.9 101.6 L501.5 103.5 L503.0 102.0 L504.5 103.4 L506.0 101.5 L507.5 103.4 L509.0 101.3 L510.5 103.1 L512.0 101.0 L513.5 103.2 L515.0 102.2 L516.5 103.0 L518.0 101.5 L519.5 103.2 L521.0 101.8 L522.5 103.1 L524.0 101.8 L525.5 103.3 L527.1 101.3 L528.5 103.3 L530.1 101.5 L531.5 103.8 L533.0 102.5 L534.5 104.0 L536.1 101.9 L537.5 104.1 L539.0 102.6 L540.5 104.0 L542.1 102.6 L543.5 104.5 L545.1 102.5 L546.5 104.4 L548.1 102.9 L549.5 104.6 L551.0 103.7 L552.5 104.7 L554.1 102.8 L555.5 105.0 L557.3 102.9 L558.4 105.4 L560.2 104.6 L561.4 106.3 L563.2 105.4 L564.4 107.0 L567.8 106.4 L564.7 108.6 L565.7 112.0 L562.9 110.5 L561.8 113.1 L559.9 111.0 L558.7 113.2 L556.9 111.6 L555.6 113.1 L553.9 112.2 L552.7 114.2 L550.9 112.7 L549.7 115.0 L547.9 113.4 L546.6 114.7 L544.9 113.6 L544.3 114.5 L544.9 115.2 L546.7 114.1 L547.9 115.7 L549.8 114.1 L550.3 116.0 L550.2 118.2 L547.8 118.5 L546.6 120.1 L545.0 118.7 L543.6 120.5 L542.0 119.1 L540.6 120.4 L539.0 119.3 L537.6 121.6 L536.0 119.4 L534.6 120.9 L533.0 119.4 L531.6 122.1 L530.0 119.9 L528.6 121.2 L527.0 120.2 L525.6 121.5 L523.9 120.6 L522.6 122.0 L520.9 121.2 L519.7 122.7 L517.9 121.5 L516.9 124.1 L514.9 122.2 L513.8 124.2 L512.0 123.1 L510.0 124.2 L509.1 122.0 L507.1 122.8 L506.0 121.0 L504.6 122.4 L502.9 120.9 L501.6 122.5 L500.0 121.4 L499.3 123.2 L497.0 123.2 L497.2 125.5 L495.5 126.5" fill="none" stroke="#000" stroke-width="0.7" stroke-linejoin="round"/>
<path d="M464.0 111.5 L465.8 112.0 L467.4 110.7 L469.3 111.6 L470.8 110.1 L472.8 111.7 L474.2 109.5 L476.0 111.1 L477.7 109.7 L479.4 110.6 L481.2 109.9 L482.7 112.0 L484.6 110.4 L486.1 112.1 L488.2 111.2 L485.8 112.4 L485.3 115.2 L483.1 113.6 L481.6 115.6 L479.7 113.8 L478.2 115.7 L476.4 115.1 L474.7 116.1 L472.6 115.1 L471.8 117.6 L469.0 117.5 L468.8 120.3 L466.5 120.2 L465.1 122.2 L462.8 121.3 L461.1 123.1 L459.1 122.7 L457.6 124.2 L455.5 123.5 L454.1 125.2 L451.9 124.1 L450.5 126.0 L449.3 124.2 L447.4 124.0 L446.0 122.8" fill="none" stroke="#000" stroke-width="0.7" stroke-linejoin="round"/>
<path d="M521.2 122.5 L522.5 120.9 L524.6 121.8 L525.9 120.3 L527.7 120.5 L529.0 118.8 L531.0 119.7 L532.2 117.9 L534.2 118.4 L535.5 116.6 L537.6 117.2 L538.9 115.8 L540.9 116.3 L542.0 114.0 L544.3 115.3 L545.4 112.9 L547.6 114.1 L548.9 112.7 L550.7 113.3 L552.0 111.2 L554.0 112.8 L555.3 111.3 L557.1 111.9 L558.4 110.4 L560.3 111.4 L561.6 109.8 L563.5 110.6 L564.8 108.8 L566.9 110.2 L568.4 108.6 L570.4 109.1 L572.0 107.7 L574.0 108.5 L575.5 106.7 L577.5 107.7 L579.1 106.1 L580.9 107.7 L582.4 106.2 L584.2 107.3 L585.7 105.5 L587.5 107.2 L589.1 105.4 L590.8 106.9 L592.5 105.8 L594.2 106.9 L595.8 105.6 L597.6 106.8 L598.9 105.0 L600.7 106.0 L602.2 104.9 L603.9 105.7 L605.3 103.9 L607.1 105.4 L608.5 104.0 L610.3 104.7 L611.7 103.5 L613.5 104.5 L614.9 103.1 L616.7 103.9 L618.3 103.0 L620.0 103.8 L621.6 102.0 L623.4 103.8 L624.9 102.0 L626.7 103.7 L628.3 101.6 L630.0 103.3 L631.6 102.2 L633.4 103.4 L634.9 101.5 L636.7 102.8 L638.3 101.4 L640.0 102.8 L641.6 101.6 L643.3 102.7 L645.0 101.7 L646.7 102.5 L648.3 101.6 L650.0 102.6 L651.6 100.8 L653.3 102.4 L655.0 100.7 L656.7 102.4 L658.3 101.3 L660.0 102.6 L661.6 100.7 L663.3 102.4 L665.0 101.5 L666.7 102.3 L668.3 101.1 L670.0 102.5 L671.7 101.3 L673.3 102.3 L675.0 100.6 L676.7 102.2 L678.3 101.1 L680.0 102.5 L681.7 100.7 L683.3 102.2 L685.0 101.5 L686.7 102.2 L688.3 100.5 L690.0 102.3 L691.7 100.8 L693.3 102.7 L695.0 101.4 L696.7 102.6 L698.4 100.9 L700.0 102.9 L701.7 101.8 L703.3 103.1 L705.0 101.9 L706.7 103.1 L708.4 102.4 L710.0 103.5 L711.9 101.8 L713.3 103.8 L715.2 102.2 L716.6 104.1 L718.4 103.4 L720.0 104.7 L721.9 103.1 L723.3 105.3 L725.1 104.1 L726.6 105.6 L728.5 104.7 L729.9 106.3 L732.0 104.9 L733.3 106.9 L735.3 105.7 L736.6 107.8 L738.6 106.3 L739.9 108.5 L741.7 106.9 L743.3 108.5 L745.0 107.4 L746.7 108.6 L748.4 107.1 L750.0 108.7 L751.7 107.9 L753.3 109.1 L755.1 108.0 L756.7 109.1 L758.6 108.6 L760.2 109.7 L762.0 109.5" fill="none" stroke="#000" stroke-width="0.7" stroke-linejoin="round"/>
<path d="M458.0 113.0 L470.0 110.8 L482.0 110.0 L491.0 111.5 L485.0 114.5 L476.0 114.5 L470.0 117.5 L467.0 122.0 L461.0 122.8 L458.0 119.0Z" fill="#dfe5fc" stroke="#000" stroke-width="0.8" stroke-linejoin="round"/>
<path d="M497.0 114.5 L509.0 113.0 L519.5 114.5 L515.0 117.5 L503.0 118.2Z" fill="#dfe5fc" stroke="#000" stroke-width="0.8" stroke-linejoin="round"/>
<path d="M443.0 247.8 L449.0 244.0 L456.5 240.2 L462.5 240.2 L469.2 242.5 L473.0 246.2 L474.5 249.2 L470.0 250.0 L464.8 248.5 L459.5 247.8 L453.5 249.2 L447.5 249.2Z" fill="#dfe5fc" stroke="#000" stroke-width="0.8" stroke-linejoin="round"/>
<path d="M460.2 257.5 L462.5 254.5 L467.0 253.0 L465.5 257.5 L464.8 262.0 L466.2 266.5 L464.0 269.5 L461.0 268.0 L459.8 262.8Z" fill="#dfe5fc" stroke="#000" stroke-width="0.8" stroke-linejoin="round"/>
<path d="M469.2 251.5 L476.0 250.0 L483.5 250.8 L489.5 252.2 L492.5 256.0 L488.0 256.8 L485.0 260.5 L482.0 263.5 L479.8 260.5 L477.5 256.8 L472.2 254.5Z" fill="#dfe5fc" stroke="#000" stroke-width="0.8" stroke-linejoin="round"/>
<path d="M478.2 268.0 L485.0 265.8 L492.5 263.8 L494.8 265.0 L489.5 267.7 L482.0 269.8 L478.7 269.5Z" fill="#dfe5fc" stroke="#000" stroke-width="0.8" stroke-linejoin="round"/>
<path d="M493.2 261.2 L500.0 259.3 L507.5 258.2 L507.5 260.5 L501.5 262.0 L494.8 262.8Z" fill="#dfe5fc" stroke="#000" stroke-width="0.8" stroke-linejoin="round"/>
<path d="M938.2 438.0 L940.5 435.0 L945.0 433.5 L948.0 435.8 L947.2 440.2 L943.5 442.5 L939.8 441.8Z" fill="#dfe5fc" stroke="#000" stroke-width="0.8" stroke-linejoin="round"/>
<path d="M998.5 257.5 L1001.0 255.0 L1004.0 252.0 L1008.0 249.5 L1013.0 247.5 L1019.0 247.5 L1023.0 248.5 L1022.5 252.0 L1019.0 254.0 L1015.0 255.5 L1012.0 256.0 L1014.5 259.0 L1018.0 261.5 L1020.0 265.0 L1022.5 268.5 L1025.0 267.5 L1028.0 269.5 L1029.0 272.0 L1026.0 273.0 L1023.5 273.5 L1024.0 277.0 L1026.0 280.0 L1025.5 284.0 L1026.5 288.0 L1022.0 289.0 L1017.0 289.0 L1012.0 287.0 L1008.0 285.0 L1006.5 282.0 L1008.0 278.0 L1009.5 274.5 L1008.0 271.0 L1005.0 268.0 L1002.5 264.5 L1000.0 261.5Z" fill="#dfe5fc" stroke="#000" stroke-width="0.8" stroke-linejoin="round"/>
<path d="M922.0 267.2 L925.0 260.5 L928.0 255.2 L934.0 250.0 L938.5 247.8 L943.0 251.5 L947.5 250.8 L952.0 249.2 L962.5 247.0 L967.8 246.7 L964.0 250.0 L958.0 252.2 L952.0 253.8 L947.5 255.2 L955.0 256.0 L961.0 256.8 L970.0 260.5 L976.0 263.5 L977.5 268.0 L973.0 271.0 L964.0 271.8 L955.0 270.2 L947.5 268.0 L940.0 269.5 L934.0 271.0 L928.0 270.2 L923.5 269.5Z" fill="#dfe5fc" stroke="#000" stroke-width="0.8" stroke-linejoin="round"/>
<path d="M1043.5 256.0 L1046.5 252.2 L1051.0 250.8 L1053.2 253.0 L1051.8 257.5 L1048.0 259.3 L1045.0 258.2Z" fill="#dfe5fc" stroke="#000" stroke-width="0.8" stroke-linejoin="round"/>
<path d="M917.5 271.8 L920.5 270.7 L923.5 271.0 L922.0 272.5 L919.0 272.8Z" fill="#dfe5fc" stroke="#000" stroke-width="0.8" stroke-linejoin="round"/>
<circle cx="96.0" cy="229.5" r="0.5" fill="#fffeea" stroke="#000" stroke-width="0.7"/>
<circle cx="98.8" cy="229.4" r="0.5" fill="#fffeea" stroke="#000" stroke-width="0.7"/>
<circle cx="101.5" cy="229.2" r="0.5" fill="#fffeea" stroke="#000" stroke-width="0.7"/>
<circle cx="104.3" cy="229.1" r="0.5" fill="#fffeea" stroke="#000" stroke-width="0.7"/>
<circle cx="107.0" cy="228.9" r="0.5" fill="#fffeea" stroke="#000" stroke-width="0.7"/>
<circle cx="109.8" cy="228.6" r="0.5" fill="#fffeea" stroke="#000" stroke-width="0.7"/>
<circle cx="112.5" cy="228.4" r="0.5" fill="#fffeea" stroke="#000" stroke-width="0.7"/>
<circle cx="115.2" cy="228.0" r="0.5" fill="#fffeea" stroke="#000" stroke-width="0.7"/>
<circle cx="117.9" cy="227.7" r="0.5" fill="#fffeea" stroke="#000" stroke-width="0.7"/>
<circle cx="120.6" cy="227.2" r="0.5" fill="#fffeea" stroke="#000" stroke-width="0.7"/>
<circle cx="123.3" cy="226.7" r="0.5" fill="#fffeea" stroke="#000" stroke-width="0.7"/>
<circle cx="126.0" cy="226.1" r="0.5" fill="#fffeea" stroke="#000" stroke-width="0.7"/>
<circle cx="128.6" cy="225.5" r="0.5" fill="#fffeea" stroke="#000" stroke-width="0.7"/>
<circle cx="131.3" cy="224.8" r="0.5" fill="#fffeea" stroke="#000" stroke-width="0.7"/>
<circle cx="133.9" cy="224.0" r="0.5" fill="#fffeea" stroke="#000" stroke-width="0.7"/>
<circle cx="136.5" cy="223.2" r="0.5" fill="#fffeea" stroke="#000" stroke-width="0.7"/>
<circle cx="139.1" cy="222.4" r="0.5" fill="#fffeea" stroke="#000" stroke-width="0.7"/>
<circle cx="141.7" cy="221.4" r="0.5" fill="#fffeea" stroke="#000" stroke-width="0.7"/>
<circle cx="144.3" cy="220.5" r="0.5" fill="#fffeea" stroke="#000" stroke-width="0.7"/>
<circle cx="146.9" cy="219.5" r="0.5" fill="#fffeea" stroke="#000" stroke-width="0.7"/>
<circle cx="149.4" cy="218.5" r="0.5" fill="#fffeea" stroke="#000" stroke-width="0.7"/>
<circle cx="152.0" cy="217.5" r="0.5" fill="#fffeea" stroke="#000" stroke-width="0.7"/>
<circle cx="147.0" cy="195.0" r="1.0" fill="#fffeea" stroke="#000" stroke-width="0.7"/>
<circle cx="191.5" cy="357.5" r="1.5" fill="#fffeea" stroke="#000" stroke-width="0.7"/>
<circle cx="187.0" cy="353.5" r="0.9" fill="#fffeea" stroke="#000" stroke-width="0.7"/>
<circle cx="183.0" cy="351.0" r="0.8" fill="#fffeea" stroke="#000" stroke-width="0.7"/>
<circle cx="178.0" cy="348.5" r="0.8" fill="#fffeea" stroke="#000" stroke-width="0.7"/>
<circle cx="174.0" cy="347.0" r="0.7" fill="#fffeea" stroke="#000" stroke-width="0.7"/>
<circle cx="449.0" cy="437.5" r="1.2" fill="#fffeea" stroke="#000" stroke-width="0.7"/>
<circle cx="452.0" cy="435.5" r="0.7" fill="#fffeea" stroke="#000" stroke-width="0.7"/>
<circle cx="446.5" cy="436.0" r="0.7" fill="#fffeea" stroke="#000" stroke-width="0.7"/>
<circle cx="698.0" cy="284.0" r="0.8" fill="#ffff7a" stroke="#000" stroke-width="0.7"/>
<circle cx="703.0" cy="282.0" r="0.8" fill="#ffff7a" stroke="#000" stroke-width="0.7"/>
<circle cx="709.0" cy="281.0" r="0.8" fill="#ffff7a" stroke="#000" stroke-width="0.7"/>
<circle cx="740.0" cy="322.0" r="0.9" fill="#ffff7a" stroke="#000" stroke-width="0.7"/>
<circle cx="745.0" cy="323.5" r="1.0" fill="#ffff7a" stroke="#000" stroke-width="0.7"/>
<circle cx="749.0" cy="322.5" r="1.0" fill="#ffff7a" stroke="#000" stroke-width="0.7"/>
<circle cx="754.0" cy="320.5" r="0.9" fill="#ffff7a" stroke="#000" stroke-width="0.7"/>
<circle cx="757.0" cy="319.5" r="0.9" fill="#ffff7a" stroke="#000" stroke-width="0.7"/>
<circle cx="743.0" cy="304.5" r="0.8" fill="#ffff7a" stroke="#000" stroke-width="0.7"/>
<circle cx="711.0" cy="372.0" r="0.8" fill="#fffeea" stroke="#000" stroke-width="0.7"/>
<circle cx="714.5" cy="374.0" r="0.8" fill="#fffeea" stroke="#000" stroke-width="0.7"/>
<circle cx="716.0" cy="369.0" r="0.8" fill="#fffeea" stroke="#000" stroke-width="0.7"/>
<circle cx="718.0" cy="372.5" r="0.8" fill="#fffeea" stroke="#000" stroke-width="0.7"/>
<circle cx="500.0" cy="331.0" r="0.55" fill="#e8d600" stroke="#000" stroke-width="0.7"/>
<circle cx="504.9" cy="332.8" r="0.55" fill="#e8d600" stroke="#000" stroke-width="0.7"/>
<circle cx="509.6" cy="334.9" r="0.55" fill="#e8d600" stroke="#000" stroke-width="0.7"/>
<circle cx="513.8" cy="337.6" r="0.55" fill="#e8d600" stroke="#000" stroke-width="0.7"/>
<circle cx="517.6" cy="340.9" r="0.55" fill="#e8d600" stroke="#000" stroke-width="0.7"/>
<circle cx="520.9" cy="344.8" r="0.55" fill="#e8d600" stroke="#000" stroke-width="0.7"/>
<circle cx="524.0" cy="349.0" r="0.55" fill="#e8d600" stroke="#000" stroke-width="0.7"/>
<circle cx="556.0" cy="362.0" r="0.5" fill="#e8d600" stroke="#000" stroke-width="0.7"/>
<circle cx="559.0" cy="364.8" r="0.5" fill="#e8d600" stroke="#000" stroke-width="0.7"/>
<circle cx="561.7" cy="367.7" r="0.5" fill="#e8d600" stroke="#000" stroke-width="0.7"/>
<circle cx="563.9" cy="370.8" r="0.5" fill="#e8d600" stroke="#000" stroke-width="0.7"/>
<circle cx="565.3" cy="374.2" r="0.5" fill="#e8d600" stroke="#000" stroke-width="0.7"/>
<circle cx="566.0" cy="377.9" r="0.5" fill="#e8d600" stroke="#000" stroke-width="0.7"/>
<circle cx="566.2" cy="381.9" r="0.5" fill="#e8d600" stroke="#000" stroke-width="0.7"/>
<circle cx="566.0" cy="386.0" r="0.5" fill="#e8d600" stroke="#000" stroke-width="0.7"/>
<circle cx="568.0" cy="393.5" r="1.2" fill="#e8d600" stroke="#000" stroke-width="0.7"/>
<circle cx="776.0" cy="151.0" r="0.9" fill="#ffff7a" stroke="#000" stroke-width="0.7"/>
<circle cx="886.0" cy="137.5" r="0.8" fill="#ffff7a" stroke="#000" stroke-width="0.7"/>
<circle cx="1392.5" cy="259.7" r="0.5" fill="#e8d600" stroke="#000" stroke-width="0.7"/>
<circle cx="1397.4" cy="255.8" r="0.5" fill="#e8d600" stroke="#000" stroke-width="0.7"/>
<circle cx="1402.4" cy="252.1" r="0.5" fill="#e8d600" stroke="#000" stroke-width="0.7"/>
<circle cx="1407.5" cy="248.4" r="0.5" fill="#e8d600" stroke="#000" stroke-width="0.7"/>
<circle cx="1412.7" cy="244.9" r="0.5" fill="#e8d600" stroke="#000" stroke-width="0.7"/>
<circle cx="1418.0" cy="241.7" r="0.5" fill="#e8d600" stroke="#000" stroke-width="0.7"/>
<circle cx="1423.4" cy="238.6" r="0.5" fill="#e8d600" stroke="#000" stroke-width="0.7"/>
<circle cx="1428.9" cy="235.6" r="0.5" fill="#e8d600" stroke="#000" stroke-width="0.7"/>
<circle cx="1434.5" cy="232.7" r="0.5" fill="#e8d600" stroke="#000" stroke-width="0.7"/>
<circle cx="1476.0" cy="215.0" r="1.0" fill="#e8d600" stroke="#000" stroke-width="0.7"/>
<circle cx="1481.0" cy="216.5" r="0.8" fill="#e8d600" stroke="#000" stroke-width="0.7"/>
<circle cx="1502.0" cy="224.5" r="0.9" fill="#fffeea" stroke="#000" stroke-width="0.7"/>
<circle cx="1506.0" cy="225.5" r="0.7" fill="#fffeea" stroke="#000" stroke-width="0.7"/>
<circle cx="1519.0" cy="227.5" r="0.8" fill="#fffeea" stroke="#000" stroke-width="0.7"/>
<circle cx="1524.0" cy="229.0" r="0.8" fill="#fffeea" stroke="#000" stroke-width="0.7"/>
<circle cx="1528.0" cy="230.0" r="0.8" fill="#fffeea" stroke="#000" stroke-width="0.7"/>
<circle cx="1329.5" cy="322.0" r="0.45" fill="#fffeea" stroke="#000" stroke-width="0.7"/>
<circle cx="1324.6" cy="323.9" r="0.45" fill="#fffeea" stroke="#000" stroke-width="0.7"/>
<circle cx="1319.8" cy="326.0" r="0.45" fill="#fffeea" stroke="#000" stroke-width="0.7"/>
<circle cx="1315.2" cy="328.6" r="0.45" fill="#fffeea" stroke="#000" stroke-width="0.7"/>
<circle cx="1310.9" cy="331.5" r="0.45" fill="#fffeea" stroke="#000" stroke-width="0.7"/>
<circle cx="1306.9" cy="334.9" r="0.45" fill="#fffeea" stroke="#000" stroke-width="0.7"/>
<circle cx="1303.0" cy="338.5" r="0.45" fill="#fffeea" stroke="#000" stroke-width="0.7"/>
<circle cx="1101.0" cy="389.0" r="0.4" fill="#fffeea" stroke="#000" stroke-width="0.7"/>
<circle cx="1101.4" cy="394.1" r="0.4" fill="#fffeea" stroke="#000" stroke-width="0.7"/>
<circle cx="1101.7" cy="399.3" r="0.4" fill="#fffeea" stroke="#000" stroke-width="0.7"/>
<circle cx="1102.1" cy="404.4" r="0.4" fill="#fffeea" stroke="#000" stroke-width="0.7"/>
<circle cx="1102.4" cy="409.6" r="0.4" fill="#fffeea" stroke="#000" stroke-width="0.7"/>
<circle cx="1102.8" cy="414.7" r="0.4" fill="#fffeea" stroke="#000" stroke-width="0.7"/>
<circle cx="1103.1" cy="419.9" r="0.4" fill="#fffeea" stroke="#000" stroke-width="0.7"/>
<circle cx="1103.5" cy="425.0" r="0.4" fill="#fffeea" stroke="#000" stroke-width="0.7"/>
<circle cx="1181.5" cy="374.0" r="0.9" fill="#fffeea" stroke="#000" stroke-width="0.7"/>
<circle cx="1182.2" cy="378.0" r="0.9" fill="#fffeea" stroke="#000" stroke-width="0.7"/>
<circle cx="1183.0" cy="382.0" r="0.9" fill="#fffeea" stroke="#000" stroke-width="0.7"/>
<circle cx="1183.8" cy="386.0" r="0.9" fill="#fffeea" stroke="#000" stroke-width="0.7"/>
<circle cx="1184.5" cy="390.0" r="0.9" fill="#fffeea" stroke="#000" stroke-width="0.7"/>
<circle cx="1185.0" cy="398.0" r="0.8" fill="#fffeea" stroke="#000" stroke-width="0.7"/>
<circle cx="1185.5" cy="403.0" r="0.8" fill="#fffeea" stroke="#000" stroke-width="0.7"/>
<circle cx="1186.0" cy="408.0" r="0.8" fill="#fffeea" stroke="#000" stroke-width="0.7"/>
<circle cx="984.5" cy="482.0" r="0.9" fill="#ffff7a" stroke="#000" stroke-width="0.7"/>
<circle cx="988.0" cy="484.0" r="0.8" fill="#ffff7a" stroke="#000" stroke-width="0.7"/>
<circle cx="991.0" cy="486.5" r="0.9" fill="#ffff7a" stroke="#000" stroke-width="0.7"/>
<circle cx="995.7" cy="473.0" r="0.7" fill="#ffff7a" stroke="#000" stroke-width="0.7"/>
<circle cx="1040.7" cy="516.0" r="1.1" fill="#ffff7a" stroke="#000" stroke-width="0.7"/>
<circle cx="1032.5" cy="519.5" r="1.1" fill="#ffff7a" stroke="#000" stroke-width="0.7"/>
<circle cx="1428.0" cy="456.0" r="0.8" fill="#fffeea" stroke="#000" stroke-width="0.7"/>
<circle cx="1433.1" cy="459.9" r="0.8" fill="#fffeea" stroke="#000" stroke-width="0.7"/>
<circle cx="1438.2" cy="463.7" r="0.8" fill="#fffeea" stroke="#000" stroke-width="0.7"/>
<circle cx="1443.5" cy="467.3" r="0.8" fill="#fffeea" stroke="#000" stroke-width="0.7"/>
<circle cx="1448.9" cy="470.7" r="0.8" fill="#fffeea" stroke="#000" stroke-width="0.7"/>
<circle cx="1454.4" cy="473.9" r="0.8" fill="#fffeea" stroke="#000" stroke-width="0.7"/>
<circle cx="1460.0" cy="477.0" r="0.8" fill="#fffeea" stroke="#000" stroke-width="0.7"/>
<circle cx="1475.0" cy="488.0" r="0.6" fill="#fffeea" stroke="#000" stroke-width="0.7"/>
<circle cx="1477.8" cy="493.2" r="0.6" fill="#fffeea" stroke="#000" stroke-width="0.7"/>
<circle cx="1480.6" cy="498.4" r="0.6" fill="#fffeea" stroke="#000" stroke-width="0.7"/>
<circle cx="1483.4" cy="503.6" r="0.6" fill="#fffeea" stroke="#000" stroke-width="0.7"/>
<circle cx="1486.2" cy="508.8" r="0.6" fill="#fffeea" stroke="#000" stroke-width="0.7"/>
<circle cx="1489.0" cy="514.0" r="0.6" fill="#fffeea" stroke="#000" stroke-width="0.7"/>
<circle cx="1520.0" cy="505.5" r="1.4" fill="#fffeea" stroke="#000" stroke-width="0.7"/>
<circle cx="1526.0" cy="504.0" r="1.0" fill="#fffeea" stroke="#000" stroke-width="0.7"/>
<circle cx="1440.0" cy="449.0" r="1.6" fill="#fffeea" stroke="#000" stroke-width="0.7"/>
<circle cx="1445.0" cy="454.0" r="1.0" fill="#fffeea" stroke="#000" stroke-width="0.7"/>
<circle cx="1335.0" cy="362.0" r="0.7" fill="#fffeea" stroke="#000" stroke-width="0.7"/>
<circle cx="1398.0" cy="433.0" r="0.6" fill="#fffeea" stroke="#000" stroke-width="0.7"/>
<circle cx="1465.0" cy="420.0" r="0.6" fill="#fffeea" stroke="#000" stroke-width="0.7"/>
<circle cx="1512.0" cy="430.0" r="0.6" fill="#fffeea" stroke="#000" stroke-width="0.7"/>
<circle cx="585.0" cy="240.0" r="0.7" fill="#fffeea" stroke="#000" stroke-width="0.7"/>
<circle cx="857.0" cy="471.0" r="0.8" fill="#e8d600" stroke="#000" stroke-width="0.7"/>
<circle cx="853.0" cy="466.0" r="0.7" fill="#e8d600" stroke="#000" stroke-width="0.7"/>
<circle cx="845.5" cy="449.0" r="0.8" fill="#e8d600" stroke="#000" stroke-width="0.7"/>
</g>
<rect x="92.5" y="88.5" width="1437" height="686" fill="none" stroke="#4a4a4e" stroke-width="1"/>
<g clip-path="url(#fr)"><circle cx="398.2" cy="240.9" r="27.6" fill="#a6ecec"/><path d="M398.2 240.9L398.20 213.30A27.6 27.6 0 0 1 410.21 216.05Z" fill="#40cdc4" stroke="#000" stroke-width="1.3" stroke-linejoin="round"/><path d="M398.2 240.9L410.21 216.05A27.6 27.6 0 1 1 391.34 214.17Z" fill="#007a78" stroke="#000" stroke-width="1.3" stroke-linejoin="round"/><path d="M398.2 240.9L391.34 214.17A27.6 27.6 0 0 1 393.55 213.69Z" fill="#d0601a" stroke="#000" stroke-width="1.3" stroke-linejoin="round"/><path d="M398.2 240.9L393.55 213.69A27.6 27.6 0 0 1 398.20 213.30Z" fill="#a6ecec" stroke="#000" stroke-width="1.3" stroke-linejoin="round"/><circle cx="398.2" cy="240.9" r="27.6" fill="none" stroke="#000" stroke-width="1.9"/>
<circle cx="464.3" cy="369.0" r="27.6" fill="#a6ecec"/><path d="M464.3 369.0L464.30 341.40A27.6 27.6 0 1 1 437.43 362.70Z" fill="#40cdc4" stroke="#000" stroke-width="1.3" stroke-linejoin="round"/><path d="M464.3 369.0L437.43 362.70A27.6 27.6 0 0 1 437.50 362.42Z" fill="#007a78" stroke="#000" stroke-width="1.3" stroke-linejoin="round"/><path d="M464.3 369.0L437.50 362.42A27.6 27.6 0 0 1 455.45 342.86Z" fill="#d0601a" stroke="#000" stroke-width="1.3" stroke-linejoin="round"/><path d="M464.3 369.0L455.45 342.86A27.6 27.6 0 0 1 464.30 341.40Z" fill="#a6ecec" stroke="#000" stroke-width="1.3" stroke-linejoin="round"/><circle cx="464.3" cy="369.0" r="27.6" fill="none" stroke="#000" stroke-width="1.9"/>
<circle cx="555.8" cy="452.9" r="27.6" fill="#a6ecec"/><path d="M555.8 452.9L555.80 425.30A27.6 27.6 0 0 1 579.05 438.03Z" fill="#40cdc4" stroke="#000" stroke-width="1.3" stroke-linejoin="round"/><path d="M555.8 452.9L579.05 438.03A27.6 27.6 0 0 1 581.24 442.20Z" fill="#007a78" stroke="#000" stroke-width="1.3" stroke-linejoin="round"/><path d="M555.8 452.9L581.24 442.20A27.6 27.6 0 1 1 528.73 458.26Z" fill="#d0601a" stroke="#000" stroke-width="1.3" stroke-linejoin="round"/><path d="M555.8 452.9L528.73 458.26A27.6 27.6 0 0 1 555.80 425.30Z" fill="#a6ecec" stroke="#000" stroke-width="1.3" stroke-linejoin="round"/><circle cx="555.8" cy="452.9" r="27.6" fill="none" stroke="#000" stroke-width="1.9"/>
<circle cx="540.2" cy="573.4" r="27.6" fill="#a6ecec"/><path d="M540.2 573.4L540.20 545.80A27.6 27.6 0 0 1 566.40 564.73Z" fill="#40cdc4" stroke="#000" stroke-width="1.3" stroke-linejoin="round"/><path d="M540.2 573.4L566.40 564.73A27.6 27.6 0 0 1 560.71 591.87Z" fill="#007a78" stroke="#000" stroke-width="1.3" stroke-linejoin="round"/><path d="M540.2 573.4L560.71 591.87A27.6 27.6 0 1 1 531.03 547.37Z" fill="#d0601a" stroke="#000" stroke-width="1.3" stroke-linejoin="round"/><path d="M540.2 573.4L531.03 547.37A27.6 27.6 0 0 1 540.20 545.80Z" fill="#a6ecec" stroke="#000" stroke-width="1.3" stroke-linejoin="round"/><circle cx="540.2" cy="573.4" r="27.6" fill="none" stroke="#000" stroke-width="1.9"/>
<circle cx="861.0" cy="187.4" r="27.6" fill="#a6ecec"/><path d="M861.0 187.4L861.00 159.80A27.6 27.6 0 0 1 877.34 165.16Z" fill="#40cdc4" stroke="#000" stroke-width="1.3" stroke-linejoin="round"/><path d="M861.0 187.4L877.34 165.16A27.6 27.6 0 1 1 834.10 181.24Z" fill="#007a78" stroke="#000" stroke-width="1.3" stroke-linejoin="round"/><path d="M861.0 187.4L834.10 181.24A27.6 27.6 0 0 1 846.87 163.69Z" fill="#d0601a" stroke="#000" stroke-width="1.3" stroke-linejoin="round"/><path d="M861.0 187.4L846.87 163.69A27.6 27.6 0 0 1 861.00 159.80Z" fill="#a6ecec" stroke="#000" stroke-width="1.3" stroke-linejoin="round"/><circle cx="861.0" cy="187.4" r="27.6" fill="none" stroke="#000" stroke-width="1.9"/>
<circle cx="823.7" cy="252.0" r="27.6" fill="#a6ecec"/><path d="M823.7 252.0L823.70 224.40A27.6 27.6 0 0 1 845.24 234.74Z" fill="#40cdc4" stroke="#000" stroke-width="1.3" stroke-linejoin="round"/><path d="M823.7 252.0L845.24 234.74A27.6 27.6 0 1 1 797.25 244.12Z" fill="#007a78" stroke="#000" stroke-width="1.3" stroke-linejoin="round"/><path d="M823.7 252.0L797.25 244.12A27.6 27.6 0 0 1 810.49 227.77Z" fill="#d0601a" stroke="#000" stroke-width="1.3" stroke-linejoin="round"/><path d="M823.7 252.0L810.49 227.77A27.6 27.6 0 0 1 823.70 224.40Z" fill="#a6ecec" stroke="#000" stroke-width="1.3" stroke-linejoin="round"/><circle cx="823.7" cy="252.0" r="27.6" fill="none" stroke="#000" stroke-width="1.9"/>
<circle cx="968.9" cy="206.9" r="27.6" fill="#a6ecec"/><path d="M968.9 206.9L968.90 179.30A27.6 27.6 0 0 1 976.51 180.37Z" fill="#40cdc4" stroke="#000" stroke-width="1.3" stroke-linejoin="round"/><path d="M968.9 206.9L976.51 180.37A27.6 27.6 0 1 1 958.29 232.38Z" fill="#007a78" stroke="#000" stroke-width="1.3" stroke-linejoin="round"/><path d="M968.9 206.9L958.29 232.38A27.6 27.6 0 0 1 945.34 221.28Z" fill="#d0601a" stroke="#000" stroke-width="1.3" stroke-linejoin="round"/><path d="M968.9 206.9L945.34 221.28A27.6 27.6 0 0 1 968.90 179.30Z" fill="#a6ecec" stroke="#000" stroke-width="1.3" stroke-linejoin="round"/><circle cx="968.9" cy="206.9" r="27.6" fill="none" stroke="#000" stroke-width="1.9"/>
<circle cx="872.8" cy="326.4" r="27.6" fill="#a6ecec"/><path d="M872.8 326.4L872.80 298.80A27.6 27.6 0 0 1 899.30 318.70Z" fill="#40cdc4" stroke="#000" stroke-width="1.3" stroke-linejoin="round"/><path d="M872.8 326.4L899.30 318.70A27.6 27.6 0 0 1 899.82 332.04Z" fill="#007a78" stroke="#000" stroke-width="1.3" stroke-linejoin="round"/><path d="M872.8 326.4L899.82 332.04A27.6 27.6 0 0 1 863.04 352.22Z" fill="#d0601a" stroke="#000" stroke-width="1.3" stroke-linejoin="round"/><path d="M872.8 326.4L863.04 352.22A27.6 27.6 0 0 1 872.80 298.80Z" fill="#a6ecec" stroke="#000" stroke-width="1.3" stroke-linejoin="round"/><circle cx="872.8" cy="326.4" r="27.6" fill="none" stroke="#000" stroke-width="1.9"/>
<circle cx="795.0" cy="385.6" r="27.6" fill="#a6ecec"/><path d="M795.0 385.6L795.00 358.00A27.6 27.6 0 0 1 811.84 363.73Z" fill="#40cdc4" stroke="#000" stroke-width="1.3" stroke-linejoin="round"/><path d="M795.0 385.6L811.84 363.73A27.6 27.6 0 1 1 768.20 379.02Z" fill="#d0601a" stroke="#000" stroke-width="1.3" stroke-linejoin="round"/><path d="M795.0 385.6L768.20 379.02A27.6 27.6 0 0 1 795.00 358.00Z" fill="#a6ecec" stroke="#000" stroke-width="1.3" stroke-linejoin="round"/><circle cx="795.0" cy="385.6" r="27.6" fill="none" stroke="#000" stroke-width="1.9"/>
<circle cx="886.8" cy="457.8" r="27.6" fill="#a6ecec"/><path d="M886.8 457.8L886.80 430.20A27.6 27.6 0 1 1 881.58 484.90Z" fill="#d0601a" stroke="#000" stroke-width="1.3" stroke-linejoin="round"/><path d="M886.8 457.8L881.58 484.90A27.6 27.6 0 0 1 886.80 430.20Z" fill="#a6ecec" stroke="#000" stroke-width="1.3" stroke-linejoin="round"/><circle cx="886.8" cy="457.8" r="27.6" fill="none" stroke="#000" stroke-width="1.9"/>
<circle cx="957.9" cy="465.0" r="27.6" fill="#a6ecec"/><path d="M957.9 465.0L957.90 437.40A27.6 27.6 0 0 1 964.95 438.32Z" fill="#40cdc4" stroke="#000" stroke-width="1.3" stroke-linejoin="round"/><path d="M957.9 465.0L964.95 438.32A27.6 27.6 0 0 1 982.87 453.25Z" fill="#007a78" stroke="#000" stroke-width="1.3" stroke-linejoin="round"/><path d="M957.9 465.0L982.87 453.25A27.6 27.6 0 0 1 984.78 471.26Z" fill="#d0601a" stroke="#000" stroke-width="1.3" stroke-linejoin="round"/><path d="M957.9 465.0L984.78 471.26A27.6 27.6 0 1 1 957.90 437.40Z" fill="#a6ecec" stroke="#000" stroke-width="1.3" stroke-linejoin="round"/><circle cx="957.9" cy="465.0" r="27.6" fill="none" stroke="#000" stroke-width="1.9"/>
<circle cx="905.4" cy="551.3" r="27.6" fill="#a6ecec"/><path d="M905.4 551.3L905.40 523.70A27.6 27.6 0 1 1 889.06 573.54Z" fill="#40cdc4" stroke="#000" stroke-width="1.3" stroke-linejoin="round"/><path d="M905.4 551.3L889.06 573.54A27.6 27.6 0 0 1 878.88 543.65Z" fill="#d0601a" stroke="#000" stroke-width="1.3" stroke-linejoin="round"/><path d="M905.4 551.3L878.88 543.65A27.6 27.6 0 0 1 905.40 523.70Z" fill="#a6ecec" stroke="#000" stroke-width="1.3" stroke-linejoin="round"/><circle cx="905.4" cy="551.3" r="27.6" fill="none" stroke="#000" stroke-width="1.9"/>
<circle cx="977.4" cy="324.3" r="27.6" fill="#a6ecec"/><path d="M977.4 324.3L977.40 296.70A27.6 27.6 0 0 1 1003.06 314.14Z" fill="#40cdc4" stroke="#000" stroke-width="1.3" stroke-linejoin="round"/><path d="M977.4 324.3L1003.06 314.14A27.6 27.6 0 0 1 986.70 350.28Z" fill="#007a78" stroke="#000" stroke-width="1.3" stroke-linejoin="round"/><path d="M977.4 324.3L986.70 350.28A27.6 27.6 0 0 1 951.40 333.56Z" fill="#d0601a" stroke="#000" stroke-width="1.3" stroke-linejoin="round"/><path d="M977.4 324.3L951.40 333.56A27.6 27.6 0 0 1 977.40 296.70Z" fill="#a6ecec" stroke="#000" stroke-width="1.3" stroke-linejoin="round"/><circle cx="977.4" cy="324.3" r="27.6" fill="none" stroke="#000" stroke-width="1.9"/>
<circle cx="1086.9" cy="259.3" r="27.6" fill="#a6ecec"/><path d="M1086.9 259.3L1086.90 231.70A27.6 27.6 0 0 1 1110.31 244.67Z" fill="#007a78" stroke="#000" stroke-width="1.3" stroke-linejoin="round"/><path d="M1086.9 259.3L1110.31 244.67A27.6 27.6 0 0 1 1099.26 283.98Z" fill="#d0601a" stroke="#000" stroke-width="1.3" stroke-linejoin="round"/><path d="M1086.9 259.3L1099.26 283.98A27.6 27.6 0 1 1 1086.90 231.70Z" fill="#a6ecec" stroke="#000" stroke-width="1.3" stroke-linejoin="round"/><circle cx="1086.9" cy="259.3" r="27.6" fill="none" stroke="#000" stroke-width="1.9"/>
<circle cx="1097.9" cy="325.2" r="27.6" fill="#a6ecec"/><path d="M1097.9 325.2L1097.90 297.60A27.6 27.6 0 0 1 1125.50 325.20Z" fill="#40cdc4" stroke="#000" stroke-width="1.3" stroke-linejoin="round"/><path d="M1097.9 325.2L1125.50 325.20A27.6 27.6 0 0 1 1120.51 341.03Z" fill="#007a78" stroke="#000" stroke-width="1.3" stroke-linejoin="round"/><path d="M1097.9 325.2L1120.51 341.03A27.6 27.6 0 0 1 1073.53 338.16Z" fill="#d0601a" stroke="#000" stroke-width="1.3" stroke-linejoin="round"/><path d="M1097.9 325.2L1073.53 338.16A27.6 27.6 0 0 1 1097.90 297.60Z" fill="#a6ecec" stroke="#000" stroke-width="1.3" stroke-linejoin="round"/><circle cx="1097.9" cy="325.2" r="27.6" fill="none" stroke="#000" stroke-width="1.9"/>
<circle cx="1192.9" cy="290.8" r="27.6" fill="#a6ecec"/><path d="M1192.9 290.8L1192.90 263.20A27.6 27.6 0 1 1 1168.20 278.48Z" fill="#40cdc4" stroke="#000" stroke-width="1.3" stroke-linejoin="round"/><path d="M1192.9 290.8L1168.20 278.48A27.6 27.6 0 0 1 1175.49 269.38Z" fill="#d0601a" stroke="#000" stroke-width="1.3" stroke-linejoin="round"/><path d="M1192.9 290.8L1175.49 269.38A27.6 27.6 0 0 1 1192.90 263.20Z" fill="#a6ecec" stroke="#000" stroke-width="1.3" stroke-linejoin="round"/><circle cx="1192.9" cy="290.8" r="27.6" fill="none" stroke="#000" stroke-width="1.9"/>
<circle cx="1218.4" cy="374.9" r="27.6" fill="#a6ecec"/><path d="M1218.4 374.9L1218.40 347.30A27.6 27.6 0 0 1 1227.43 348.82Z" fill="#40cdc4" stroke="#000" stroke-width="1.3" stroke-linejoin="round"/><path d="M1218.4 374.9L1227.43 348.82A27.6 27.6 0 1 1 1210.19 348.55Z" fill="#d0601a" stroke="#000" stroke-width="1.3" stroke-linejoin="round"/><path d="M1218.4 374.9L1210.19 348.55A27.6 27.6 0 0 1 1218.40 347.30Z" fill="#a6ecec" stroke="#000" stroke-width="1.3" stroke-linejoin="round"/><circle cx="1218.4" cy="374.9" r="27.6" fill="none" stroke="#000" stroke-width="1.9"/>
<circle cx="1381.8" cy="541.0" r="27.6" fill="#a6ecec"/><path d="M1381.8 541.0L1381.80 513.40A27.6 27.6 0 0 1 1393.68 516.09Z" fill="#40cdc4" stroke="#000" stroke-width="1.3" stroke-linejoin="round"/><path d="M1381.8 541.0L1393.68 516.09A27.6 27.6 0 0 1 1408.17 532.84Z" fill="#007a78" stroke="#000" stroke-width="1.3" stroke-linejoin="round"/><path d="M1381.8 541.0L1408.17 532.84A27.6 27.6 0 0 1 1408.80 535.26Z" fill="#d0601a" stroke="#000" stroke-width="1.3" stroke-linejoin="round"/><path d="M1381.8 541.0L1408.80 535.26A27.6 27.6 0 1 1 1381.80 513.40Z" fill="#a6ecec" stroke="#000" stroke-width="1.3" stroke-linejoin="round"/><circle cx="1381.8" cy="541.0" r="27.6" fill="none" stroke="#000" stroke-width="1.9"/></g>
<rect x="132.5" y="547" width="319" height="191.5" fill="#fff" stroke="#000" stroke-width="1.8"/><rect x="153.85" y="582.3" width="23.1" height="94.6" fill="#3c3c3c"/><rect x="294.85" y="582.3" width="23.1" height="142.6" fill="#3c3c3c"/><rect x="154.7" y="583.1" width="21.4" height="21" fill="#a6ecec" stroke="#111" stroke-width="1.75"/><rect x="154.7" y="607.1" width="21.4" height="21" fill="#40cdc4" stroke="#111" stroke-width="1.75"/><rect x="154.7" y="631.1" width="21.4" height="21" fill="#007a78" stroke="#111" stroke-width="1.75"/><rect x="154.7" y="655.1" width="21.4" height="21" fill="#d0601a" stroke="#111" stroke-width="1.75"/><rect x="295.7" y="583.1" width="21.4" height="21" fill="#fffeea" stroke="#111" stroke-width="1.75"/><rect x="295.7" y="607.1" width="21.4" height="21" fill="#ffff7a" stroke="#111" stroke-width="1.75"/><rect x="295.7" y="631.1" width="21.4" height="21" fill="#e8d600" stroke="#111" stroke-width="1.75"/><rect x="295.7" y="655.1" width="21.4" height="21" fill="#a8a800" stroke="#111" stroke-width="1.75"/><rect x="295.7" y="679.1" width="21.4" height="21" fill="#e0e0e0" stroke="#111" stroke-width="1.75"/><rect x="295.7" y="703.1" width="21.4" height="21" fill="#d0d0d0" stroke="#111" stroke-width="1.75"/>
<g id="logo"><g fill="none" stroke="#0b8fd1"><circle cx="1371.6" cy="831.6" r="18.4" stroke-width="1.1"/><circle cx="1371.6" cy="831.6" r="14.6" stroke-width="0.7"/><circle cx="1371.6" cy="831.6" r="10.8" stroke-width="0.7"/><circle cx="1371.6" cy="831.6" r="7.0" stroke-width="0.7"/><circle cx="1371.6" cy="831.6" r="3.2" stroke-width="0.7"/><line x1="1374.56" y1="832.82" x2="1388.60" y2="838.64" stroke-width="0.6"/><line x1="1372.82" y1="834.56" x2="1378.64" y2="848.60" stroke-width="0.6"/><line x1="1370.38" y1="834.56" x2="1364.56" y2="848.60" stroke-width="0.6"/><line x1="1368.64" y1="832.82" x2="1354.60" y2="838.64" stroke-width="0.6"/><line x1="1368.64" y1="830.38" x2="1354.60" y2="824.56" stroke-width="0.6"/><line x1="1370.38" y1="828.64" x2="1364.56" y2="814.60" stroke-width="0.6"/><line x1="1372.82" y1="828.64" x2="1378.64" y2="814.60" stroke-width="0.6"/><line x1="1374.56" y1="830.38" x2="1388.60" y2="824.56" stroke-width="0.6"/><line x1="1353.1999999999998" y1="831.6" x2="1390.0" y2="831.6" stroke-width="0.6"/></g><path d="M1358.6 833.6 L1362.6 831.6 L1365.6 834.6 L1364.6 839.6 L1362.6 842.6 L1360.6 840.6 L1358.6 837.6Z" fill="#0b8fd1"/><path d="M1363.6 828.6 L1367.6 824.6 L1370.6 825.6 L1369.6 829.6 L1366.6 832.6 L1363.6 831.6Z" fill="#0b8fd1"/><path d="M1373.6 827.6 L1378.6 825.6 L1381.6 828.6 L1380.6 832.6 L1377.6 834.6 L1374.6 832.6Z" fill="#0b8fd1"/><path d="M1374.6 836.6 L1379.6 835.6 L1381.6 839.6 L1379.6 844.6 L1376.6 845.6 L1374.6 841.6Z" fill="#0b8fd1"/><path d="M1365.6 819.6 L1369.6 817.6 L1371.6 820.6 L1368.6 822.6 L1364.6 822.6Z" fill="#0b8fd1"/><path d="M1375.6 818.6 L1379.6 820.6 L1380.6 823.6 L1376.6 822.6Z" fill="#0b8fd1"/><line x1="1371.6" y1="808.2" x2="1371.6" y2="849.6" stroke="#0b8fd1" stroke-width="1.9" stroke-linecap="round"/><line x1="1371.6" y1="809.6" x2="1371.6" y2="848.6" stroke="#fff" stroke-width="0.5"/><path d="M1370.1 818.6 C1378.6 817.6,1378.6 825.6,1371.6 826.6 C1365.6 827.6,1365.6 833.6,1371.6 834.6 C1376.6 835.6,1376.6 840.6,1371.6 841.6 C1368.6 842.6,1368.6 845.6,1371.6 846.6" fill="none" stroke="#fff" stroke-width="3"/><path d="M1370.1 818.6 C1378.6 817.6,1378.6 825.6,1371.6 826.6 C1365.6 827.6,1365.6 833.6,1371.6 834.6 C1376.6 835.6,1376.6 840.6,1371.6 841.6 C1368.6 842.6,1368.6 845.6,1371.6 846.6" fill="none" stroke="#0b8fd1" stroke-width="1.7" stroke-linecap="round"/><ellipse cx="1360.95" cy="850.05" rx="3.1" ry="1.05" transform="rotate(-178.0 1360.95 850.05)" fill="#0b8fd1"/><ellipse cx="1358.80" cy="853.77" rx="3.1" ry="1.05" transform="rotate(-122.0 1358.80 853.77)" fill="#0b8fd1"/><ellipse cx="1357.07" cy="847.18" rx="3.1" ry="1.05" transform="rotate(-165.0 1357.07 847.18)" fill="#0b8fd1"/><ellipse cx="1354.14" cy="850.32" rx="3.1" ry="1.05" transform="rotate(-109.0 1354.14 850.32)" fill="#0b8fd1"/><ellipse cx="1353.94" cy="843.51" rx="3.1" ry="1.05" transform="rotate(-152.0 1353.94 843.51)" fill="#0b8fd1"/><ellipse cx="1350.38" cy="845.92" rx="3.1" ry="1.05" transform="rotate(-96.0 1350.38 845.92)" fill="#0b8fd1"/><ellipse cx="1351.71" cy="839.23" rx="3.1" ry="1.05" transform="rotate(-139.0 1351.71 839.23)" fill="#0b8fd1"/><ellipse cx="1347.70" cy="840.77" rx="3.1" ry="1.05" transform="rotate(-83.0 1347.70 840.77)" fill="#0b8fd1"/><ellipse cx="1350.51" cy="834.56" rx="3.1" ry="1.05" transform="rotate(-126.0 1350.51 834.56)" fill="#0b8fd1"/><ellipse cx="1346.25" cy="835.16" rx="3.1" ry="1.05" transform="rotate(-70.0 1346.25 835.16)" fill="#0b8fd1"/><ellipse cx="1350.38" cy="829.74" rx="3.1" ry="1.05" transform="rotate(-113.0 1350.38 829.74)" fill="#0b8fd1"/><ellipse cx="1346.10" cy="829.37" rx="3.1" ry="1.05" transform="rotate(-57.0 1346.10 829.37)" fill="#0b8fd1"/><ellipse cx="1351.34" cy="825.02" rx="3.1" ry="1.05" transform="rotate(-100.0 1351.34 825.02)" fill="#0b8fd1"/><ellipse cx="1347.25" cy="823.69" rx="3.1" ry="1.05" transform="rotate(-44.0 1347.25 823.69)" fill="#0b8fd1"/><ellipse cx="1353.34" cy="820.63" rx="3.1" ry="1.05" transform="rotate(-87.0 1353.34 820.63)" fill="#0b8fd1"/><ellipse cx="1349.66" cy="818.42" rx="3.1" ry="1.05" transform="rotate(-31.0 1349.66 818.42)" fill="#0b8fd1"/><ellipse cx="1356.28" cy="816.80" rx="3.1" ry="1.05" transform="rotate(-74.0 1356.28 816.80)" fill="#0b8fd1"/><ellipse cx="1353.18" cy="813.82" rx="3.1" ry="1.05" transform="rotate(-18.0 1353.18 813.82)" fill="#0b8fd1"/><path d="M1368.3 854.9 L1365.1 854.2 L1362.0 853.1 L1359.1 851.5 L1356.5 849.6 L1354.1 847.3 L1352.1 844.7 L1350.5 841.9 L1349.3 838.9 L1348.5 835.7 L1348.1 832.4 L1348.2 829.1 L1348.8 825.9 L1349.8 822.8 L1351.2 819.9 L1353.1 817.1" fill="none" stroke="#0b8fd1" stroke-width="0.7"/><ellipse cx="1382.25" cy="850.05" rx="3.1" ry="1.05" transform="rotate(-2.0 1382.25 850.05)" fill="#0b8fd1"/><ellipse cx="1384.40" cy="853.77" rx="3.1" ry="1.05" transform="rotate(-58.0 1384.40 853.77)" fill="#0b8fd1"/><ellipse cx="1386.13" cy="847.18" rx="3.1" ry="1.05" transform="rotate(-15.0 1386.13 847.18)" fill="#0b8fd1"/><ellipse cx="1389.06" cy="850.32" rx="3.1" ry="1.05" transform="rotate(-71.0 1389.06 850.32)" fill="#0b8fd1"/><ellipse cx="1389.26" cy="843.51" rx="3.1" ry="1.05" transform="rotate(-28.0 1389.26 843.51)" fill="#0b8fd1"/><ellipse cx="1392.82" cy="845.92" rx="3.1" ry="1.05" transform="rotate(-84.0 1392.82 845.92)" fill="#0b8fd1"/><ellipse cx="1391.49" cy="839.23" rx="3.1" ry="1.05" transform="rotate(-41.0 1391.49 839.23)" fill="#0b8fd1"/><ellipse cx="1395.50" cy="840.77" rx="3.1" ry="1.05" transform="rotate(-97.0 1395.50 840.77)" fill="#0b8fd1"/><ellipse cx="1392.69" cy="834.56" rx="3.1" ry="1.05" transform="rotate(-54.0 1392.69 834.56)" fill="#0b8fd1"/><ellipse cx="1396.95" cy="835.16" rx="3.1" ry="1.05" transform="rotate(-110.0 1396.95 835.16)" fill="#0b8fd1"/><ellipse cx="1392.82" cy="829.74" rx="3.1" ry="1.05" transform="rotate(-67.0 1392.82 829.74)" fill="#0b8fd1"/><ellipse cx="1397.10" cy="829.37" rx="3.1" ry="1.05" transform="rotate(-123.0 1397.10 829.37)" fill="#0b8fd1"/><ellipse cx="1391.86" cy="825.02" rx="3.1" ry="1.05" transform="rotate(-80.0 1391.86 825.02)" fill="#0b8fd1"/><ellipse cx="1395.95" cy="823.69" rx="3.1" ry="1.05" transform="rotate(-136.0 1395.95 823.69)" fill="#0b8fd1"/><ellipse cx="1389.86" cy="820.63" rx="3.1" ry="1.05" transform="rotate(-93.0 1389.86 820.63)" fill="#0b8fd1"/><ellipse cx="1393.54" cy="818.42" rx="3.1" ry="1.05" transform="rotate(-149.0 1393.54 818.42)" fill="#0b8fd1"/><ellipse cx="1386.92" cy="816.80" rx="3.1" ry="1.05" transform="rotate(-106.0 1386.92 816.80)" fill="#0b8fd1"/><ellipse cx="1390.02" cy="813.82" rx="3.1" ry="1.05" transform="rotate(-162.0 1390.02 813.82)" fill="#0b8fd1"/><path d="M1374.9 854.9 L1378.1 854.2 L1381.2 853.1 L1384.1 851.5 L1386.7 849.6 L1389.1 847.3 L1391.1 844.7 L1392.7 841.9 L1393.9 838.9 L1394.7 835.7 L1395.1 832.4 L1395.0 829.1 L1394.4 825.9 L1393.4 822.8 L1392.0 819.9 L1390.1 817.1" fill="none" stroke="#0b8fd1" stroke-width="0.7"/><path d="M1364.6 858.6 L1371.6 854.1 L1378.6 858.6" fill="none" stroke="#0b8fd1" stroke-width="1"/><path d="M1359.6 855.8000000000001 Q1371.6 852.6 1383.6 855.8000000000001" fill="none" stroke="#0b8fd1" stroke-width="1.2"/><text x="1404.3" y="830.6" font-family="Liberation Sans, sans-serif" font-weight="bold" font-size="19.2" fill="#0b8fd1" stroke="#0b8fd1" stroke-width="0.45" textLength="100" lengthAdjust="spacingAndGlyphs">World Health</text><text x="1404.8" y="848.6" font-family="Liberation Sans, sans-serif" font-weight="bold" font-size="19.2" fill="#0b8fd1" stroke="#0b8fd1" stroke-width="0.45" textLength="99.5" lengthAdjust="spacingAndGlyphs">Organization</text></g>
</svg>
<div class="t" style="left:93px;top:5.32px;font-size:24.9px;">Percentage of respiratory specimens that tested positive for influenza</div>
<div class="t" style="left:93px;top:32.62px;font-size:24.9px;">By influenza transmission zone</div>
<div class="t" style="left:93px;top:64.3px;font-size:15.05px;">Map generated on 03 February 2023</div>
<div class="t" style="left:154px;top:560.88px;font-size:14.95px;">Type/subtype (%)*</div>
<div class="t" style="left:294.5px;top:560.88px;font-size:14.95px;">% Influenza Pos.**</div>
<div class="t" style="left:185.5px;top:588.45px;font-size:12.1px;">A (H1N1)pdm09</div>
<div class="t" style="left:185.5px;top:612.45px;font-size:12.1px;">A (H3)</div>
<div class="t" style="left:185.5px;top:636.45px;font-size:12.1px;">A (Not subtyped)</div>
<div class="t" style="left:185.5px;top:660.45px;font-size:12.1px;">B</div>
<div class="t" style="left:326px;top:588.45px;font-size:12.1px;">0-10</div>
<div class="t" style="left:326px;top:612.45px;font-size:12.1px;">11-20</div>
<div class="t" style="left:326px;top:636.45px;font-size:12.1px;">21-30</div>
<div class="t" style="left:326px;top:660.45px;font-size:12.1px;">&gt;30</div>
<div class="t" style="left:326px;top:684.45px;font-size:12.1px;">Data not available</div>
<div class="t" style="left:326px;top:708.45px;font-size:12.1px;">Not applicable</div>
<div class="t" style="left:144.5px;top:740.24px;font-size:12.6px;">* when influenza positive samples &gt;20</div>
<div class="t" style="left:144.5px;top:758.44px;font-size:12.6px;">** when total number of samples tested &gt;100</div>
<div class="t" style="left:591.3px;top:698.19px;font-size:12.65px;">Note: The available country data were joined in larger geographical areas with similar influenza</div>
<div class="t" style="left:591.3px;top:715.79px;font-size:12.65px;">transmission patterns to be able to give an overview (https://www.who.int/publications/m/item/influenza_transmission_zones).</div>
<div class="t" style="left:657.4px;top:734.29px;font-size:12.65px;">The displayed data reflect reports of the week from 09 January 2023 to</div>
<div class="t" style="left:591.3px;top:752.99px;font-size:12.65px;">22 January 2023, or up to two weeks before if no sufficient data were available for that area</div>
<div class="t" style="left:93px;top:802.5px;font-size:13.85px;">The boundaries and names shown and the designations used on this map do not imply the expression of any opinion whatsoever on the part of the World Health Organization</div>
<div class="t" style="left:93px;top:818.0px;font-size:13.85px;">concerning the legal status of any country, territory, city or area or of its authorities, or concerning the delimitation of its frontiers or boundaries. Dotted and dashed lines on maps</div>
<div class="t" style="left:93px;top:833.5px;font-size:13.85px;">represent approximate border lines for which there may not yet be full agreement.</div>
<div class="t" style="left:93px;top:863.0px;font-size:13.85px;">Data source: Global Influenza Surveillance and Response System (GISRS), FluNet (https://www.who.int/initiatives/global-influenza-surveillance-and-response-system)</div>
<div class="t" style="left:93px;top:878.5px;font-size:13.85px;">Copyright WHO 2023. All rights reserved.</div>
</body></html>
